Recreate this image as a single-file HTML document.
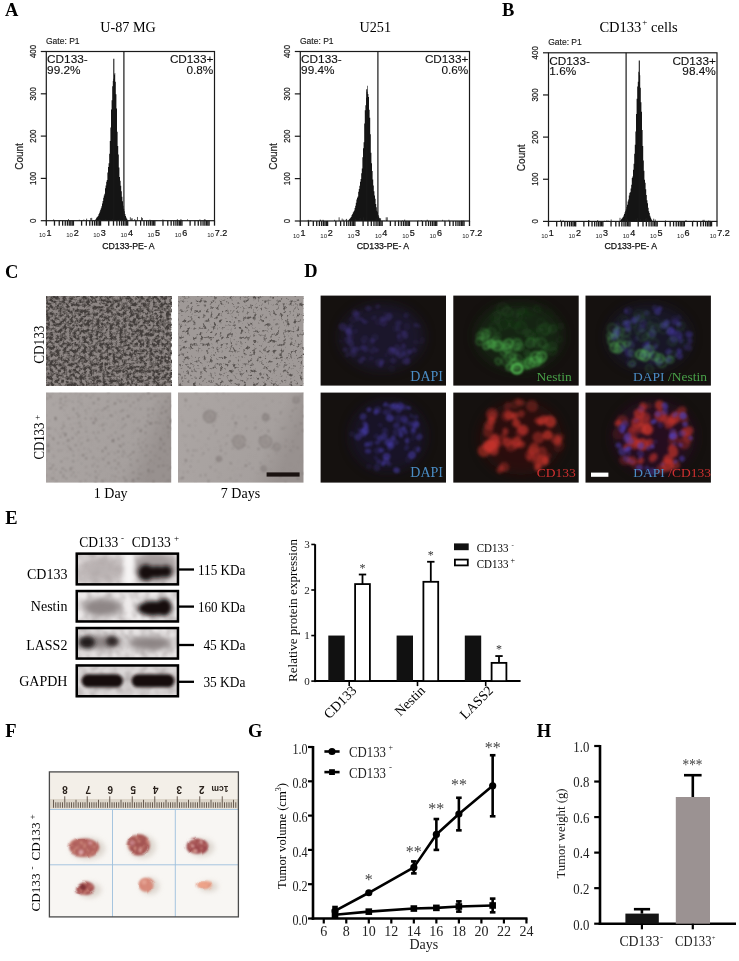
<!DOCTYPE html><html><head><meta charset="utf-8"><style>html,body{margin:0;padding:0;background:#fff;}svg{display:block;filter:blur(0.3px);}</style></head><body><svg width="739" height="961" viewBox="0 0 739 961"><defs><linearGradient id="gc2" x1="0" y1="0" x2="1" y2="0.3"><stop offset="0" stop-color="#aca6a4"/><stop offset="0.8" stop-color="#a6a09e"/><stop offset="1" stop-color="#98918f"/></linearGradient><filter id="fc11" filterUnits="userSpaceOnUse" x="46" y="296" width="125.2" height="90" color-interpolation-filters="sRGB"><feTurbulence type="fractalNoise" baseFrequency="0.3" numOctaves="3" seed="11" result="n"/><feColorMatrix in="n" type="matrix" values="0 0 0 0 0.26 0 0 0 0 0.24 0 0 0 0 0.23 3.2 0 0 0 -1.15" result="c"/><feGaussianBlur in="c" stdDeviation="0.3" result="cb"/><feComposite in="cb" in2="SourceGraphic" operator="over"/></filter><filter id="fc12" filterUnits="userSpaceOnUse" x="178" y="296" width="125.5" height="90" color-interpolation-filters="sRGB"><feTurbulence type="fractalNoise" baseFrequency="0.3" numOctaves="3" seed="12" result="n"/><feColorMatrix in="n" type="matrix" values="0 0 0 0 0.34 0 0 0 0 0.32 0 0 0 0 0.31 4.2 0 0 0 -2.3" result="c"/><feGaussianBlur in="c" stdDeviation="0.3" result="cb"/><feComposite in="cb" in2="SourceGraphic" operator="over"/></filter><filter id="fc21" filterUnits="userSpaceOnUse" x="46" y="392.5" width="125.2" height="90.1" color-interpolation-filters="sRGB"><feTurbulence type="fractalNoise" baseFrequency="0.4" numOctaves="3" seed="21" result="n"/><feColorMatrix in="n" type="matrix" values="0 0 0 0 0.34 0 0 0 0 0.31 0 0 0 0 0.3 9 0 0 0 -6.0" result="c"/><feGaussianBlur in="c" stdDeviation="1.0" result="cb"/><feComposite in="cb" in2="SourceGraphic" operator="over"/></filter><filter id="fc22" filterUnits="userSpaceOnUse" x="178" y="392.5" width="125.5" height="90.1" color-interpolation-filters="sRGB"><feTurbulence type="fractalNoise" baseFrequency="0.4" numOctaves="3" seed="22" result="n"/><feColorMatrix in="n" type="matrix" values="0 0 0 0 0.38 0 0 0 0 0.35 0 0 0 0 0.34 9 0 0 0 -6.5" result="c"/><feGaussianBlur in="c" stdDeviation="1.0" result="cb"/><feComposite in="cb" in2="SourceGraphic" operator="over"/></filter><filter id="sph" x="-50%" y="-50%" width="200%" height="200%"><feTurbulence type="fractalNoise" baseFrequency="0.6" numOctaves="2" seed="5" result="n"/><feDisplacementMap in="SourceGraphic" in2="n" scale="2.5" xChannelSelector="R" yChannelSelector="G"/><feGaussianBlur stdDeviation="0.8"/></filter><filter id="fb1" x="-50%" y="-50%" width="200%" height="200%"><feGaussianBlur stdDeviation="0.9"/></filter><filter id="fb15" x="-50%" y="-50%" width="200%" height="200%"><feGaussianBlur stdDeviation="1.5"/></filter><filter id="fb25" x="-50%" y="-50%" width="200%" height="200%"><feGaussianBlur stdDeviation="2.5"/></filter><filter id="fb6" x="-50%" y="-50%" width="200%" height="200%"><feGaussianBlur stdDeviation="6"/></filter><clipPath id="cd00"><rect x="320.6" y="295.6" width="125.4" height="90"/></clipPath><clipPath id="cd01"><rect x="453.3" y="295.6" width="125.4" height="90"/></clipPath><clipPath id="cd02"><rect x="585.5" y="295.6" width="125.4" height="90"/></clipPath><clipPath id="cd10"><rect x="320.6" y="392.6" width="125.4" height="90"/></clipPath><clipPath id="cd11"><rect x="453.3" y="392.6" width="125.4" height="90"/></clipPath><clipPath id="cd12"><rect x="585.5" y="392.6" width="125.4" height="90"/></clipPath><filter id="bb2" x="-50%" y="-50%" width="200%" height="200%"><feGaussianBlur stdDeviation="2.2"/></filter><filter id="bb3" x="-50%" y="-50%" width="200%" height="200%"><feGaussianBlur stdDeviation="3"/></filter><filter id="bb4" x="-50%" y="-50%" width="200%" height="200%"><feGaussianBlur stdDeviation="4"/></filter><filter id="bb1" x="-50%" y="-50%" width="200%" height="200%"><feGaussianBlur stdDeviation="1.5"/></filter><clipPath id="clipb0"><rect x="75.5" y="552.4" width="103.7" height="33.2"/></clipPath><filter id="fbn0" filterUnits="userSpaceOnUse" x="75.5" y="552.4" width="103.7" height="33.2" color-interpolation-filters="sRGB"><feTurbulence type="fractalNoise" baseFrequency="0.12" numOctaves="2" seed="60" result="n"/><feColorMatrix in="n" type="matrix" values="0 0 0 0 0.55 0 0 0 0 0.52 0 0 0 0 0.52 1.0 0 0 0 -0.35" result="c"/><feGaussianBlur in="c" stdDeviation="1.2" result="cb"/><feComposite in="cb" in2="SourceGraphic" operator="over"/></filter><clipPath id="clipb1"><rect x="75.5" y="589.8" width="103.7" height="32.9"/></clipPath><filter id="fbn1" filterUnits="userSpaceOnUse" x="75.5" y="589.8" width="103.7" height="32.9" color-interpolation-filters="sRGB"><feTurbulence type="fractalNoise" baseFrequency="0.12" numOctaves="2" seed="61" result="n"/><feColorMatrix in="n" type="matrix" values="0 0 0 0 0.55 0 0 0 0 0.52 0 0 0 0 0.52 1.0 0 0 0 -0.35" result="c"/><feGaussianBlur in="c" stdDeviation="1.2" result="cb"/><feComposite in="cb" in2="SourceGraphic" operator="over"/></filter><clipPath id="clipb2"><rect x="75.5" y="626.8" width="103.7" height="33"/></clipPath><filter id="fbn2" filterUnits="userSpaceOnUse" x="75.5" y="626.8" width="103.7" height="33" color-interpolation-filters="sRGB"><feTurbulence type="fractalNoise" baseFrequency="0.12" numOctaves="2" seed="62" result="n"/><feColorMatrix in="n" type="matrix" values="0 0 0 0 0.55 0 0 0 0 0.52 0 0 0 0 0.52 1.0 0 0 0 -0.35" result="c"/><feGaussianBlur in="c" stdDeviation="1.2" result="cb"/><feComposite in="cb" in2="SourceGraphic" operator="over"/></filter><clipPath id="clipb3"><rect x="75.5" y="664.2" width="103.7" height="33.3"/></clipPath><filter id="fbn3" filterUnits="userSpaceOnUse" x="75.5" y="664.2" width="103.7" height="33.3" color-interpolation-filters="sRGB"><feTurbulence type="fractalNoise" baseFrequency="0.12" numOctaves="2" seed="63" result="n"/><feColorMatrix in="n" type="matrix" values="0 0 0 0 0.55 0 0 0 0 0.52 0 0 0 0 0.52 1.0 0 0 0 -0.35" result="c"/><feGaussianBlur in="c" stdDeviation="1.2" result="cb"/><feComposite in="cb" in2="SourceGraphic" operator="over"/></filter><filter id="tdisp" x="-30%" y="-30%" width="160%" height="160%"><feTurbulence type="fractalNoise" baseFrequency="0.07" numOctaves="1" seed="4"/><feDisplacementMap in="SourceGraphic" scale="5" xChannelSelector="R" yChannelSelector="G" result="d"/><feGaussianBlur in="d" stdDeviation="0.4"/></filter><filter id="tspot" x="-30%" y="-30%" width="160%" height="160%" color-interpolation-filters="sRGB"><feTurbulence type="fractalNoise" baseFrequency="0.3" numOctaves="2" seed="9" result="n"/><feColorMatrix in="n" type="matrix" values="0 0 0 0 0.84 0 0 0 0 0.58 0 0 0 0 0.52 4 0 0 0 -2.0" result="c"/><feComposite in="c" in2="SourceGraphic" operator="in" result="s"/><feComposite in="s" in2="SourceGraphic" operator="over"/><feGaussianBlur stdDeviation="0.8"/></filter><filter id="sh" x="-50%" y="-50%" width="200%" height="200%"><feGaussianBlur stdDeviation="2.5"/></filter><filter id="tb" x="-50%" y="-50%" width="200%" height="200%"><feGaussianBlur stdDeviation="0.8"/></filter></defs><rect width="739" height="961" fill="#fff"/><text x="5" y="16.2" font-family="'Liberation Serif', serif" font-size="18.5" text-anchor="start" font-weight="bold" fill="#000" >A</text>
<text x="502" y="16.2" font-family="'Liberation Serif', serif" font-size="18.5" text-anchor="start" font-weight="bold" fill="#000" >B</text>
<text x="5" y="277.7" font-family="'Liberation Serif', serif" font-size="18.5" text-anchor="start" font-weight="bold" fill="#000" >C</text>
<text x="304.3" y="277.3" font-family="'Liberation Serif', serif" font-size="18.5" text-anchor="start" font-weight="bold" fill="#000" >D</text>
<text x="5.3" y="524.2" font-family="'Liberation Serif', serif" font-size="18.5" text-anchor="start" font-weight="bold" fill="#000" >E</text>
<text x="5.3" y="737.2" font-family="'Liberation Serif', serif" font-size="18.5" text-anchor="start" font-weight="bold" fill="#000" >F</text>
<text x="248" y="737" font-family="'Liberation Serif', serif" font-size="18.5" text-anchor="start" font-weight="bold" fill="#000" >G</text>
<text x="536.7" y="737.2" font-family="'Liberation Serif', serif" font-size="18.5" text-anchor="start" font-weight="bold" fill="#000" >H</text>
<text x="128" y="32" font-family="'Liberation Serif', serif" font-size="14.2" text-anchor="middle" font-weight="normal" fill="#000" >U-87 MG</text>
<text x="46" y="43.9" font-family="'Liberation Sans', sans-serif" font-size="9.4" text-anchor="start" font-weight="normal" fill="#1a1a1a" textLength="33.6" lengthAdjust="spacingAndGlyphs" stroke="#1a1a1a" stroke-width="0.15">Gate: P1</text>
<path d="M83.4,220.7 L83.4,220.68 L84,220.68 L84,220.68 L84.6,220.68 L84.6,220.68 L85.2,220.68 L85.2,220.68 L85.8,220.68 L85.8,220.68 L86.4,220.68 L86.4,220.67 L87,220.67 L87,220.67 L87.6,220.67 L87.6,220.67 L88.2,220.67 L88.2,220.67 L88.8,220.67 L88.8,220.66 L89.4,220.66 L89.4,220.66 L90,220.66 L90,220.65 L90.6,220.65 L90.6,220.65 L91.2,220.65 L91.2,220.65 L91.8,220.65 L91.8,220.64 L92.4,220.64 L92.4,220.63 L93,220.63 L93,220.62 L93.6,220.62 L93.6,220.61 L94.2,220.61 L94.2,220.6 L94.8,220.6 L94.8,220.05 L95.4,220.05 L95.4,219.25 L96,219.25 L96,218.33 L96.6,218.33 L96.6,217.36 L97.2,217.36 L97.2,216.71 L97.8,216.71 L97.8,215.95 L98.4,215.95 L98.4,214.36 L99,214.36 L99,213.19 L99.6,213.19 L99.6,211.57 L100.2,211.57 L100.2,209.87 L100.8,209.87 L100.8,208.31 L101.4,208.31 L101.4,206.36 L102,206.36 L102,203.44 L102.6,203.44 L102.6,200.96 L103.2,200.96 L103.2,197.85 L103.8,197.85 L103.8,195.61 L104.4,195.61 L104.4,193.7 L105,193.7 L105,188.27 L105.6,188.27 L105.6,185.62 L106.2,185.62 L106.2,181.68 L106.8,181.68 L106.8,179.89 L107.4,179.89 L107.4,172.57 L108,172.57 L108,166.98 L108.6,166.98 L108.6,163.33 L109.2,163.33 L109.2,153.7 L109.8,153.7 L109.8,141.03 L110.4,141.03 L110.4,127.45 L111,127.45 L111,109.6 L111.6,109.6 L111.6,100.22 L112.2,100.22 L112.2,86.27 L112.8,86.27 L112.8,80.91 L113.4,80.91 L113.4,78.66 L114,78.66 L114,74.38 L114.6,74.38 L114.6,73.02 L115.2,73.02 L115.2,81.7 L115.8,81.7 L115.8,94.27 L116.4,94.27 L116.4,108.46 L117,108.46 L117,131.73 L117.6,131.73 L117.6,145.89 L118.2,145.89 L118.2,154.52 L118.8,154.52 L118.8,167.51 L119.4,167.51 L119.4,176.91 L120,176.91 L120,180.71 L120.6,180.71 L120.6,185.76 L121.2,185.76 L121.2,191.24 L121.8,191.24 L121.8,196.69 L122.4,196.69 L122.4,201.21 L123,201.21 L123,205.86 L123.6,205.86 L123.6,208.66 L124.2,208.66 L124.2,211.37 L124.8,211.37 L124.8,213.91 L125.4,213.91 L125.4,216.01 L126,216.01 L126,217.55 L126.6,217.55 L126.6,218.71 L127.2,218.71 L127.2,219.81 L127.8,219.81 L127.8,220.44 L128.4,220.44 L128.4,220.47 L129,220.47 L129,220.5 L129.6,220.5 L129.6,220.52 L130.2,220.52 L130.2,220.53 L130.8,220.53 L130.8,220.54 L131.4,220.54 L131.4,220.56 L132,220.56 L132,220.58 L132.6,220.58 L132.6,220.58 L133.2,220.58 L133.2,220.6 L133.8,220.6 L133.8,220.61 L134.4,220.61 L134.4,220.61 L135,220.61 L135,220.62 L135.6,220.62 L135.6,220.63 L136.2,220.63 L136.2,220.64 L136.8,220.64 L136.8,220.64 L137.4,220.64 L137.4,220.65 L138,220.65 L138,220.66 L138.6,220.66 L138.6,220.66 L139.2,220.66 L139.2,220.66 L139.8,220.66 L139.8,220.66 L140.4,220.66 L140.4,220.67 L141,220.67 L141,220.67 L141.6,220.67 L141.6,220.67 L142.2,220.67 L142.2,220.68 L142.8,220.68 L142.8,220.68 L143.4,220.68 L143.4,220.68 L144,220.68 L144,220.68 L144.6,220.68 L144.6,220.68 L145.2,220.68 L145.2,220.69 L145.8,220.69 L145.8,220.69 L146.4,220.69 L146.4,220.69 L147,220.69 L147,220.69 L147.6,220.69 L147.6,220.69 L148.2,220.69 L148.2,220.69 L148.8,220.69 L148.8,220.7 Z" fill="#141414"/>
<line x1="149.94" y1="220.7" x2="149.94" y2="219.66" stroke="#222" stroke-width="0.8" />
<line x1="123.78" y1="220.7" x2="123.78" y2="219.17" stroke="#222" stroke-width="0.8" />
<line x1="79.33" y1="220.7" x2="79.33" y2="219.71" stroke="#222" stroke-width="0.8" />
<line x1="187.51" y1="220.7" x2="187.51" y2="219.35" stroke="#222" stroke-width="0.8" />
<line x1="177.4" y1="220.7" x2="177.4" y2="219.32" stroke="#222" stroke-width="0.8" />
<line x1="91.69" y1="220.7" x2="91.69" y2="217.86" stroke="#222" stroke-width="0.8" />
<line x1="64.47" y1="220.7" x2="64.47" y2="220.67" stroke="#222" stroke-width="0.8" />
<line x1="53.6" y1="220.7" x2="53.6" y2="219.42" stroke="#222" stroke-width="0.8" />
<line x1="90.78" y1="220.7" x2="90.78" y2="218" stroke="#222" stroke-width="0.8" />
<line x1="105.79" y1="220.7" x2="105.79" y2="219.38" stroke="#222" stroke-width="0.8" />
<line x1="134.73" y1="220.7" x2="134.73" y2="219.05" stroke="#222" stroke-width="0.8" />
<line x1="163.87" y1="220.7" x2="163.87" y2="219.93" stroke="#222" stroke-width="0.8" />
<line x1="102.24" y1="220.7" x2="102.24" y2="219.78" stroke="#222" stroke-width="0.8" />
<line x1="112.45" y1="220.7" x2="112.45" y2="219.3" stroke="#222" stroke-width="0.8" />
<line x1="68.51" y1="220.7" x2="68.51" y2="219.18" stroke="#222" stroke-width="0.8" />
<line x1="132" y1="220.7" x2="132" y2="218.06" stroke="#222" stroke-width="0.8" />
<line x1="180.56" y1="220.7" x2="180.56" y2="220.66" stroke="#222" stroke-width="0.8" />
<line x1="54.13" y1="220.7" x2="54.13" y2="220.45" stroke="#222" stroke-width="0.8" />
<line x1="165.02" y1="220.7" x2="165.02" y2="220.43" stroke="#222" stroke-width="0.8" />
<line x1="162.77" y1="220.7" x2="162.77" y2="219.55" stroke="#222" stroke-width="0.8" />
<line x1="137.47" y1="220.7" x2="137.47" y2="216.97" stroke="#222" stroke-width="0.8" />
<line x1="177.51" y1="220.7" x2="177.51" y2="219.83" stroke="#222" stroke-width="0.8" />
<line x1="86.61" y1="220.7" x2="86.61" y2="218.68" stroke="#222" stroke-width="0.8" />
<line x1="142.4" y1="220.7" x2="142.4" y2="217.99" stroke="#222" stroke-width="0.8" />
<line x1="60.6" y1="220.7" x2="60.6" y2="220.19" stroke="#222" stroke-width="0.8" />
<line x1="204.42" y1="220.7" x2="204.42" y2="219.22" stroke="#222" stroke-width="0.8" />
<line x1="99.77" y1="220.7" x2="99.77" y2="218.94" stroke="#222" stroke-width="0.8" />
<line x1="199.9" y1="220.7" x2="199.9" y2="219.44" stroke="#222" stroke-width="0.8" />
<line x1="117.14" y1="220.7" x2="117.14" y2="219.83" stroke="#222" stroke-width="0.8" />
<line x1="190.31" y1="220.7" x2="190.31" y2="220.64" stroke="#222" stroke-width="0.8" />
<line x1="180.93" y1="220.7" x2="180.93" y2="219.07" stroke="#222" stroke-width="0.8" />
<line x1="141.52" y1="220.7" x2="141.52" y2="217.28" stroke="#222" stroke-width="0.8" />
<line x1="205.35" y1="220.7" x2="205.35" y2="219.51" stroke="#222" stroke-width="0.8" />
<line x1="131.8" y1="220.7" x2="131.8" y2="218.83" stroke="#222" stroke-width="0.8" />
<line x1="83.85" y1="220.7" x2="83.85" y2="219.56" stroke="#222" stroke-width="0.8" />
<line x1="119.79" y1="220.7" x2="119.79" y2="219.54" stroke="#222" stroke-width="0.8" />
<line x1="156.65" y1="220.7" x2="156.65" y2="220.2" stroke="#222" stroke-width="0.8" />
<line x1="130.37" y1="220.7" x2="130.37" y2="217.27" stroke="#222" stroke-width="0.8" />
<line x1="193.63" y1="220.7" x2="193.63" y2="220.67" stroke="#222" stroke-width="0.8" />
<line x1="83.07" y1="220.7" x2="83.07" y2="220.15" stroke="#222" stroke-width="0.8" />
<line x1="113.8" y1="220.7" x2="113.8" y2="58.69" stroke="#181818" stroke-width="1.1" />
<rect x="46.3" y="51.5" width="168.2" height="169.2" fill="none" stroke="#1a1a1a" stroke-width="1.2" />
<line x1="123.9" y1="51.5" x2="123.9" y2="220.7" stroke="#1a1a1a" stroke-width="1.2" />
<line x1="40.8" y1="220.7" x2="46.3" y2="220.7" stroke="#1a1a1a" stroke-width="1.2" />
<text transform="translate(36.1,220.7) rotate(-90)" font-family="'Liberation Sans', sans-serif" font-size="9.6" text-anchor="middle" fill="#222" stroke="#222" stroke-width="0.25" textLength="4.4" lengthAdjust="spacingAndGlyphs">0</text>
<line x1="40.8" y1="178.4" x2="46.3" y2="178.4" stroke="#1a1a1a" stroke-width="1.2" />
<text transform="translate(36.1,178.4) rotate(-90)" font-family="'Liberation Sans', sans-serif" font-size="9.6" text-anchor="middle" fill="#222" stroke="#222" stroke-width="0.25" textLength="13.2" lengthAdjust="spacingAndGlyphs">100</text>
<line x1="40.8" y1="136.1" x2="46.3" y2="136.1" stroke="#1a1a1a" stroke-width="1.2" />
<text transform="translate(36.1,136.1) rotate(-90)" font-family="'Liberation Sans', sans-serif" font-size="9.6" text-anchor="middle" fill="#222" stroke="#222" stroke-width="0.25" textLength="13.2" lengthAdjust="spacingAndGlyphs">200</text>
<line x1="40.8" y1="93.8" x2="46.3" y2="93.8" stroke="#1a1a1a" stroke-width="1.2" />
<text transform="translate(36.1,93.8) rotate(-90)" font-family="'Liberation Sans', sans-serif" font-size="9.6" text-anchor="middle" fill="#222" stroke="#222" stroke-width="0.25" textLength="13.2" lengthAdjust="spacingAndGlyphs">300</text>
<line x1="40.8" y1="51.5" x2="46.3" y2="51.5" stroke="#1a1a1a" stroke-width="1.2" />
<text transform="translate(36.1,51.5) rotate(-90)" font-family="'Liberation Sans', sans-serif" font-size="9.6" text-anchor="middle" fill="#222" stroke="#222" stroke-width="0.25" textLength="13.2" lengthAdjust="spacingAndGlyphs">400</text>
<text transform="translate(23,156.5) rotate(-90)" font-family="'Liberation Sans', sans-serif" font-size="10" text-anchor="middle" fill="#222" stroke="#222" stroke-width="0.2">Count</text>
<line x1="46.3" y1="220.7" x2="46.3" y2="225.7" stroke="#1a1a1a" stroke-width="1.3" />
<line x1="54.47" y1="220.7" x2="54.47" y2="225.7" stroke="#1a1a1a" stroke-width="1.3" />
<line x1="59.24" y1="220.7" x2="59.24" y2="225.7" stroke="#1a1a1a" stroke-width="1.3" />
<line x1="62.63" y1="220.7" x2="62.63" y2="225.7" stroke="#1a1a1a" stroke-width="1.3" />
<line x1="65.26" y1="220.7" x2="65.26" y2="225.7" stroke="#1a1a1a" stroke-width="1.3" />
<line x1="67.41" y1="220.7" x2="67.41" y2="225.7" stroke="#1a1a1a" stroke-width="1.3" />
<line x1="69.23" y1="220.7" x2="69.23" y2="225.7" stroke="#1a1a1a" stroke-width="1.3" />
<line x1="70.8" y1="220.7" x2="70.8" y2="225.7" stroke="#1a1a1a" stroke-width="1.3" />
<line x1="72.19" y1="220.7" x2="72.19" y2="225.7" stroke="#1a1a1a" stroke-width="1.3" />
<line x1="73.43" y1="220.7" x2="73.43" y2="225.7" stroke="#1a1a1a" stroke-width="1.3" />
<line x1="81.6" y1="220.7" x2="81.6" y2="225.7" stroke="#1a1a1a" stroke-width="1.3" />
<line x1="86.37" y1="220.7" x2="86.37" y2="225.7" stroke="#1a1a1a" stroke-width="1.3" />
<line x1="89.76" y1="220.7" x2="89.76" y2="225.7" stroke="#1a1a1a" stroke-width="1.3" />
<line x1="92.39" y1="220.7" x2="92.39" y2="225.7" stroke="#1a1a1a" stroke-width="1.3" />
<line x1="94.54" y1="220.7" x2="94.54" y2="225.7" stroke="#1a1a1a" stroke-width="1.3" />
<line x1="96.36" y1="220.7" x2="96.36" y2="225.7" stroke="#1a1a1a" stroke-width="1.3" />
<line x1="97.93" y1="220.7" x2="97.93" y2="225.7" stroke="#1a1a1a" stroke-width="1.3" />
<line x1="99.32" y1="220.7" x2="99.32" y2="225.7" stroke="#1a1a1a" stroke-width="1.3" />
<line x1="100.56" y1="220.7" x2="100.56" y2="225.7" stroke="#1a1a1a" stroke-width="1.3" />
<line x1="108.72" y1="220.7" x2="108.72" y2="225.7" stroke="#1a1a1a" stroke-width="1.3" />
<line x1="113.5" y1="220.7" x2="113.5" y2="225.7" stroke="#1a1a1a" stroke-width="1.3" />
<line x1="116.89" y1="220.7" x2="116.89" y2="225.7" stroke="#1a1a1a" stroke-width="1.3" />
<line x1="119.52" y1="220.7" x2="119.52" y2="225.7" stroke="#1a1a1a" stroke-width="1.3" />
<line x1="121.67" y1="220.7" x2="121.67" y2="225.7" stroke="#1a1a1a" stroke-width="1.3" />
<line x1="123.48" y1="220.7" x2="123.48" y2="225.7" stroke="#1a1a1a" stroke-width="1.3" />
<line x1="125.06" y1="220.7" x2="125.06" y2="225.7" stroke="#1a1a1a" stroke-width="1.3" />
<line x1="126.45" y1="220.7" x2="126.45" y2="225.7" stroke="#1a1a1a" stroke-width="1.3" />
<line x1="127.69" y1="220.7" x2="127.69" y2="225.7" stroke="#1a1a1a" stroke-width="1.3" />
<line x1="135.85" y1="220.7" x2="135.85" y2="225.7" stroke="#1a1a1a" stroke-width="1.3" />
<line x1="140.63" y1="220.7" x2="140.63" y2="225.7" stroke="#1a1a1a" stroke-width="1.3" />
<line x1="144.02" y1="220.7" x2="144.02" y2="225.7" stroke="#1a1a1a" stroke-width="1.3" />
<line x1="146.65" y1="220.7" x2="146.65" y2="225.7" stroke="#1a1a1a" stroke-width="1.3" />
<line x1="148.8" y1="220.7" x2="148.8" y2="225.7" stroke="#1a1a1a" stroke-width="1.3" />
<line x1="150.61" y1="220.7" x2="150.61" y2="225.7" stroke="#1a1a1a" stroke-width="1.3" />
<line x1="152.19" y1="220.7" x2="152.19" y2="225.7" stroke="#1a1a1a" stroke-width="1.3" />
<line x1="153.57" y1="220.7" x2="153.57" y2="225.7" stroke="#1a1a1a" stroke-width="1.3" />
<line x1="154.82" y1="220.7" x2="154.82" y2="225.7" stroke="#1a1a1a" stroke-width="1.3" />
<line x1="162.98" y1="220.7" x2="162.98" y2="225.7" stroke="#1a1a1a" stroke-width="1.3" />
<line x1="167.76" y1="220.7" x2="167.76" y2="225.7" stroke="#1a1a1a" stroke-width="1.3" />
<line x1="171.15" y1="220.7" x2="171.15" y2="225.7" stroke="#1a1a1a" stroke-width="1.3" />
<line x1="173.78" y1="220.7" x2="173.78" y2="225.7" stroke="#1a1a1a" stroke-width="1.3" />
<line x1="175.93" y1="220.7" x2="175.93" y2="225.7" stroke="#1a1a1a" stroke-width="1.3" />
<line x1="177.74" y1="220.7" x2="177.74" y2="225.7" stroke="#1a1a1a" stroke-width="1.3" />
<line x1="179.32" y1="220.7" x2="179.32" y2="225.7" stroke="#1a1a1a" stroke-width="1.3" />
<line x1="180.7" y1="220.7" x2="180.7" y2="225.7" stroke="#1a1a1a" stroke-width="1.3" />
<line x1="181.95" y1="220.7" x2="181.95" y2="225.7" stroke="#1a1a1a" stroke-width="1.3" />
<line x1="190.11" y1="220.7" x2="190.11" y2="225.7" stroke="#1a1a1a" stroke-width="1.3" />
<line x1="194.89" y1="220.7" x2="194.89" y2="225.7" stroke="#1a1a1a" stroke-width="1.3" />
<line x1="198.28" y1="220.7" x2="198.28" y2="225.7" stroke="#1a1a1a" stroke-width="1.3" />
<line x1="200.91" y1="220.7" x2="200.91" y2="225.7" stroke="#1a1a1a" stroke-width="1.3" />
<line x1="203.06" y1="220.7" x2="203.06" y2="225.7" stroke="#1a1a1a" stroke-width="1.3" />
<line x1="204.87" y1="220.7" x2="204.87" y2="225.7" stroke="#1a1a1a" stroke-width="1.3" />
<line x1="206.45" y1="220.7" x2="206.45" y2="225.7" stroke="#1a1a1a" stroke-width="1.3" />
<line x1="207.83" y1="220.7" x2="207.83" y2="225.7" stroke="#1a1a1a" stroke-width="1.3" />
<line x1="209.07" y1="220.7" x2="209.07" y2="225.7" stroke="#1a1a1a" stroke-width="1.3" />
<line x1="214.5" y1="220.7" x2="214.5" y2="225.7" stroke="#1a1a1a" stroke-width="1.3" />
<text x="45.7" y="237.4" font-family="'Liberation Sans', sans-serif" font-size="6" text-anchor="end" font-weight="normal" fill="#222" >10</text>
<text x="46.5" y="235.7" font-family="'Liberation Sans', sans-serif" font-size="9" text-anchor="start" font-weight="normal" fill="#111" stroke="#111" stroke-width="0.2">1</text>
<text x="72.83" y="237.4" font-family="'Liberation Sans', sans-serif" font-size="6" text-anchor="end" font-weight="normal" fill="#222" >10</text>
<text x="73.63" y="235.7" font-family="'Liberation Sans', sans-serif" font-size="9" text-anchor="start" font-weight="normal" fill="#111" stroke="#111" stroke-width="0.2">2</text>
<text x="99.96" y="237.4" font-family="'Liberation Sans', sans-serif" font-size="6" text-anchor="end" font-weight="normal" fill="#222" >10</text>
<text x="100.76" y="235.7" font-family="'Liberation Sans', sans-serif" font-size="9" text-anchor="start" font-weight="normal" fill="#111" stroke="#111" stroke-width="0.2">3</text>
<text x="127.09" y="237.4" font-family="'Liberation Sans', sans-serif" font-size="6" text-anchor="end" font-weight="normal" fill="#222" >10</text>
<text x="127.89" y="235.7" font-family="'Liberation Sans', sans-serif" font-size="9" text-anchor="start" font-weight="normal" fill="#111" stroke="#111" stroke-width="0.2">4</text>
<text x="154.22" y="237.4" font-family="'Liberation Sans', sans-serif" font-size="6" text-anchor="end" font-weight="normal" fill="#222" >10</text>
<text x="155.02" y="235.7" font-family="'Liberation Sans', sans-serif" font-size="9" text-anchor="start" font-weight="normal" fill="#111" stroke="#111" stroke-width="0.2">5</text>
<text x="181.35" y="237.4" font-family="'Liberation Sans', sans-serif" font-size="6" text-anchor="end" font-weight="normal" fill="#222" >10</text>
<text x="182.15" y="235.7" font-family="'Liberation Sans', sans-serif" font-size="9" text-anchor="start" font-weight="normal" fill="#111" stroke="#111" stroke-width="0.2">6</text>
<text x="213.9" y="237.4" font-family="'Liberation Sans', sans-serif" font-size="6" text-anchor="end" font-weight="normal" fill="#222" >10</text>
<text x="214.7" y="235.7" font-family="'Liberation Sans', sans-serif" font-size="9" text-anchor="start" font-weight="normal" fill="#111" stroke="#111" stroke-width="0.2">7.2</text>
<text x="128.4" y="248.5" font-family="'Liberation Sans', sans-serif" font-size="9.3" text-anchor="middle" font-weight="normal" fill="#111" textLength="52.5" lengthAdjust="spacingAndGlyphs" stroke="#111" stroke-width="0.25">CD133-PE- A</text>
<text x="47.1" y="63.2" font-family="'Liberation Sans', sans-serif" font-size="11.8" text-anchor="start" font-weight="normal" fill="#111" textLength="40.6" lengthAdjust="spacingAndGlyphs" stroke="#111" stroke-width="0.12">CD133-</text>
<text x="47.1" y="73.7" font-family="'Liberation Sans', sans-serif" font-size="11.8" text-anchor="start" font-weight="normal" fill="#111" stroke="#111" stroke-width="0.12">99.2%</text>
<text x="213.3" y="63.2" font-family="'Liberation Sans', sans-serif" font-size="11.8" text-anchor="end" font-weight="normal" fill="#111" textLength="43.4" lengthAdjust="spacingAndGlyphs" stroke="#111" stroke-width="0.12">CD133+</text>
<text x="213.3" y="73.7" font-family="'Liberation Sans', sans-serif" font-size="11.8" text-anchor="end" font-weight="normal" fill="#111" stroke="#111" stroke-width="0.12">0.8%</text>
<text x="375.3" y="32" font-family="'Liberation Serif', serif" font-size="14.2" text-anchor="middle" font-weight="normal" fill="#000" >U251</text>
<text x="300" y="43.9" font-family="'Liberation Sans', sans-serif" font-size="9.4" text-anchor="start" font-weight="normal" fill="#1a1a1a" textLength="33.6" lengthAdjust="spacingAndGlyphs" stroke="#1a1a1a" stroke-width="0.15">Gate: P1</text>
<path d="M336.6,221 L336.6,220.98 L337.2,220.98 L337.2,220.98 L337.8,220.98 L337.8,220.98 L338.4,220.98 L338.4,220.98 L339,220.98 L339,220.98 L339.6,220.98 L339.6,220.97 L340.2,220.97 L340.2,220.97 L340.8,220.97 L340.8,220.97 L341.4,220.97 L341.4,220.96 L342,220.96 L342,220.96 L342.6,220.96 L342.6,220.96 L343.2,220.96 L343.2,220.95 L343.8,220.95 L343.8,220.95 L344.4,220.95 L344.4,220.94 L345,220.94 L345,220.93 L345.6,220.93 L345.6,220.93 L346.2,220.93 L346.2,220.92 L346.8,220.92 L346.8,220.91 L347.4,220.91 L347.4,220.91 L348,220.91 L348,220.39 L348.6,220.39 L348.6,219.69 L349.2,219.69 L349.2,218.98 L349.8,218.98 L349.8,218.14 L350.4,218.14 L350.4,217.45 L351,217.45 L351,216.67 L351.6,216.67 L351.6,215.06 L352.2,215.06 L352.2,213.93 L352.8,213.93 L352.8,212.55 L353.4,212.55 L353.4,211.51 L354,211.51 L354,210.44 L354.6,210.44 L354.6,208.06 L355.2,208.06 L355.2,205.72 L355.8,205.72 L355.8,202.82 L356.4,202.82 L356.4,199.47 L357,199.47 L357,197.7 L357.6,197.7 L357.6,196.46 L358.2,196.46 L358.2,191.86 L358.8,191.86 L358.8,188.9 L359.4,188.9 L359.4,185.81 L360,185.81 L360,181.81 L360.6,181.81 L360.6,178.92 L361.2,178.92 L361.2,173.31 L361.8,173.31 L361.8,168.49 L362.4,168.49 L362.4,157.18 L363,157.18 L363,148.13 L363.6,148.13 L363.6,142.17 L364.2,142.17 L364.2,123.48 L364.8,123.48 L364.8,110.19 L365.4,110.19 L365.4,105.19 L366,105.19 L366,97.82 L366.6,97.82 L366.6,91.67 L367.2,91.67 L367.2,85.87 L367.8,85.87 L367.8,93.9 L368.4,93.9 L368.4,96.99 L369,96.99 L369,109.76 L369.6,109.76 L369.6,117.8 L370.2,117.8 L370.2,134.28 L370.8,134.28 L370.8,152.64 L371.4,152.64 L371.4,163.16 L372,163.16 L372,171.02 L372.6,171.02 L372.6,179.61 L373.2,179.61 L373.2,185.46 L373.8,185.46 L373.8,191.22 L374.4,191.22 L374.4,195.55 L375,195.55 L375,198.81 L375.6,198.81 L375.6,204.03 L376.2,204.03 L376.2,207.17 L376.8,207.17 L376.8,210.74 L377.4,210.74 L377.4,212.31 L378,212.31 L378,214.95 L378.6,214.95 L378.6,216.58 L379.2,216.58 L379.2,217.96 L379.8,217.96 L379.8,219.11 L380.4,219.11 L380.4,220.19 L381,220.19 L381,220.75 L381.6,220.75 L381.6,220.77 L382.2,220.77 L382.2,220.8 L382.8,220.8 L382.8,220.82 L383.4,220.82 L383.4,220.83 L384,220.83 L384,220.84 L384.6,220.84 L384.6,220.86 L385.2,220.86 L385.2,220.88 L385.8,220.88 L385.8,220.88 L386.4,220.88 L386.4,220.9 L387,220.9 L387,220.9 L387.6,220.9 L387.6,220.92 L388.2,220.92 L388.2,220.92 L388.8,220.92 L388.8,220.93 L389.4,220.93 L389.4,220.94 L390,220.94 L390,220.95 L390.6,220.95 L390.6,220.95 L391.2,220.95 L391.2,220.95 L391.8,220.95 L391.8,220.96 L392.4,220.96 L392.4,220.96 L393,220.96 L393,220.96 L393.6,220.96 L393.6,220.97 L394.2,220.97 L394.2,220.97 L394.8,220.97 L394.8,220.97 L395.4,220.97 L395.4,220.98 L396,220.98 L396,220.98 L396.6,220.98 L396.6,220.98 L397.2,220.98 L397.2,220.98 L397.8,220.98 L397.8,220.99 L398.4,220.99 L398.4,220.99 L399,220.99 L399,220.99 L399.6,220.99 L399.6,220.99 L400.2,220.99 L400.2,220.99 L400.8,220.99 L400.8,220.99 L401.4,220.99 L401.4,220.99 L402,220.99 L402,221 Z" fill="#141414"/>
<line x1="346.01" y1="221" x2="346.01" y2="219.69" stroke="#222" stroke-width="0.8" />
<line x1="334.55" y1="221" x2="334.55" y2="219.83" stroke="#222" stroke-width="0.8" />
<line x1="366.68" y1="221" x2="366.68" y2="217.22" stroke="#222" stroke-width="0.8" />
<line x1="329.41" y1="221" x2="329.41" y2="220.94" stroke="#222" stroke-width="0.8" />
<line x1="360.1" y1="221" x2="360.1" y2="217.95" stroke="#222" stroke-width="0.8" />
<line x1="323.31" y1="221" x2="323.31" y2="220.43" stroke="#222" stroke-width="0.8" />
<line x1="310.21" y1="221" x2="310.21" y2="220.24" stroke="#222" stroke-width="0.8" />
<line x1="427.24" y1="221" x2="427.24" y2="219.75" stroke="#222" stroke-width="0.8" />
<line x1="448.9" y1="221" x2="448.9" y2="219.72" stroke="#222" stroke-width="0.8" />
<line x1="442.6" y1="221" x2="442.6" y2="219.8" stroke="#222" stroke-width="0.8" />
<line x1="380.57" y1="221" x2="380.57" y2="218.19" stroke="#222" stroke-width="0.8" />
<line x1="355.66" y1="221" x2="355.66" y2="218.82" stroke="#222" stroke-width="0.8" />
<line x1="444.56" y1="221" x2="444.56" y2="220.78" stroke="#222" stroke-width="0.8" />
<line x1="398.42" y1="221" x2="398.42" y2="220.33" stroke="#222" stroke-width="0.8" />
<line x1="387.26" y1="221" x2="387.26" y2="217.31" stroke="#222" stroke-width="0.8" />
<line x1="346.55" y1="221" x2="346.55" y2="218.91" stroke="#222" stroke-width="0.8" />
<line x1="308.17" y1="221" x2="308.17" y2="220.05" stroke="#222" stroke-width="0.8" />
<line x1="327.68" y1="221" x2="327.68" y2="220.9" stroke="#222" stroke-width="0.8" />
<line x1="310.64" y1="221" x2="310.64" y2="220.73" stroke="#222" stroke-width="0.8" />
<line x1="320.56" y1="221" x2="320.56" y2="219.92" stroke="#222" stroke-width="0.8" />
<line x1="386.21" y1="221" x2="386.21" y2="217.38" stroke="#222" stroke-width="0.8" />
<line x1="463.63" y1="221" x2="463.63" y2="220.61" stroke="#222" stroke-width="0.8" />
<line x1="376.1" y1="221" x2="376.1" y2="218.4" stroke="#222" stroke-width="0.8" />
<line x1="404.67" y1="221" x2="404.67" y2="219.64" stroke="#222" stroke-width="0.8" />
<line x1="418.25" y1="221" x2="418.25" y2="220.57" stroke="#222" stroke-width="0.8" />
<line x1="372.64" y1="221" x2="372.64" y2="220.14" stroke="#222" stroke-width="0.8" />
<line x1="310.95" y1="221" x2="310.95" y2="220.31" stroke="#222" stroke-width="0.8" />
<line x1="323" y1="221" x2="323" y2="219.77" stroke="#222" stroke-width="0.8" />
<line x1="343.65" y1="221" x2="343.65" y2="219.61" stroke="#222" stroke-width="0.8" />
<line x1="342.16" y1="221" x2="342.16" y2="218.61" stroke="#222" stroke-width="0.8" />
<line x1="379.23" y1="221" x2="379.23" y2="218.25" stroke="#222" stroke-width="0.8" />
<line x1="339.12" y1="221" x2="339.12" y2="217.3" stroke="#222" stroke-width="0.8" />
<line x1="421.35" y1="221" x2="421.35" y2="220.26" stroke="#222" stroke-width="0.8" />
<line x1="386.73" y1="221" x2="386.73" y2="220" stroke="#222" stroke-width="0.8" />
<line x1="371.85" y1="221" x2="371.85" y2="219.61" stroke="#222" stroke-width="0.8" />
<line x1="320.23" y1="221" x2="320.23" y2="219.64" stroke="#222" stroke-width="0.8" />
<line x1="363.6" y1="221" x2="363.6" y2="217.42" stroke="#222" stroke-width="0.8" />
<line x1="402.49" y1="221" x2="402.49" y2="220.51" stroke="#222" stroke-width="0.8" />
<line x1="461.88" y1="221" x2="461.88" y2="220.37" stroke="#222" stroke-width="0.8" />
<line x1="308.33" y1="221" x2="308.33" y2="219.84" stroke="#222" stroke-width="0.8" />
<line x1="366.8" y1="221" x2="366.8" y2="89.21" stroke="#181818" stroke-width="1.1" />
<rect x="300.3" y="51.5" width="169.2" height="169.5" fill="none" stroke="#1a1a1a" stroke-width="1.2" />
<line x1="377.9" y1="51.5" x2="377.9" y2="221" stroke="#1a1a1a" stroke-width="1.2" />
<line x1="294.8" y1="221" x2="300.3" y2="221" stroke="#1a1a1a" stroke-width="1.2" />
<text transform="translate(290.1,221) rotate(-90)" font-family="'Liberation Sans', sans-serif" font-size="9.6" text-anchor="middle" fill="#222" stroke="#222" stroke-width="0.25" textLength="4.4" lengthAdjust="spacingAndGlyphs">0</text>
<line x1="294.8" y1="178.62" x2="300.3" y2="178.62" stroke="#1a1a1a" stroke-width="1.2" />
<text transform="translate(290.1,178.62) rotate(-90)" font-family="'Liberation Sans', sans-serif" font-size="9.6" text-anchor="middle" fill="#222" stroke="#222" stroke-width="0.25" textLength="13.2" lengthAdjust="spacingAndGlyphs">100</text>
<line x1="294.8" y1="136.25" x2="300.3" y2="136.25" stroke="#1a1a1a" stroke-width="1.2" />
<text transform="translate(290.1,136.25) rotate(-90)" font-family="'Liberation Sans', sans-serif" font-size="9.6" text-anchor="middle" fill="#222" stroke="#222" stroke-width="0.25" textLength="13.2" lengthAdjust="spacingAndGlyphs">200</text>
<line x1="294.8" y1="93.88" x2="300.3" y2="93.88" stroke="#1a1a1a" stroke-width="1.2" />
<text transform="translate(290.1,93.88) rotate(-90)" font-family="'Liberation Sans', sans-serif" font-size="9.6" text-anchor="middle" fill="#222" stroke="#222" stroke-width="0.25" textLength="13.2" lengthAdjust="spacingAndGlyphs">300</text>
<line x1="294.8" y1="51.5" x2="300.3" y2="51.5" stroke="#1a1a1a" stroke-width="1.2" />
<text transform="translate(290.1,51.5) rotate(-90)" font-family="'Liberation Sans', sans-serif" font-size="9.6" text-anchor="middle" fill="#222" stroke="#222" stroke-width="0.25" textLength="13.2" lengthAdjust="spacingAndGlyphs">400</text>
<text transform="translate(277,156.5) rotate(-90)" font-family="'Liberation Sans', sans-serif" font-size="10" text-anchor="middle" fill="#222" stroke="#222" stroke-width="0.2">Count</text>
<line x1="300.3" y1="221" x2="300.3" y2="226" stroke="#1a1a1a" stroke-width="1.3" />
<line x1="308.52" y1="221" x2="308.52" y2="226" stroke="#1a1a1a" stroke-width="1.3" />
<line x1="313.32" y1="221" x2="313.32" y2="226" stroke="#1a1a1a" stroke-width="1.3" />
<line x1="316.73" y1="221" x2="316.73" y2="226" stroke="#1a1a1a" stroke-width="1.3" />
<line x1="319.38" y1="221" x2="319.38" y2="226" stroke="#1a1a1a" stroke-width="1.3" />
<line x1="321.54" y1="221" x2="321.54" y2="226" stroke="#1a1a1a" stroke-width="1.3" />
<line x1="323.36" y1="221" x2="323.36" y2="226" stroke="#1a1a1a" stroke-width="1.3" />
<line x1="324.95" y1="221" x2="324.95" y2="226" stroke="#1a1a1a" stroke-width="1.3" />
<line x1="326.34" y1="221" x2="326.34" y2="226" stroke="#1a1a1a" stroke-width="1.3" />
<line x1="327.59" y1="221" x2="327.59" y2="226" stroke="#1a1a1a" stroke-width="1.3" />
<line x1="335.81" y1="221" x2="335.81" y2="226" stroke="#1a1a1a" stroke-width="1.3" />
<line x1="340.61" y1="221" x2="340.61" y2="226" stroke="#1a1a1a" stroke-width="1.3" />
<line x1="344.02" y1="221" x2="344.02" y2="226" stroke="#1a1a1a" stroke-width="1.3" />
<line x1="346.67" y1="221" x2="346.67" y2="226" stroke="#1a1a1a" stroke-width="1.3" />
<line x1="348.83" y1="221" x2="348.83" y2="226" stroke="#1a1a1a" stroke-width="1.3" />
<line x1="350.65" y1="221" x2="350.65" y2="226" stroke="#1a1a1a" stroke-width="1.3" />
<line x1="352.24" y1="221" x2="352.24" y2="226" stroke="#1a1a1a" stroke-width="1.3" />
<line x1="353.63" y1="221" x2="353.63" y2="226" stroke="#1a1a1a" stroke-width="1.3" />
<line x1="354.88" y1="221" x2="354.88" y2="226" stroke="#1a1a1a" stroke-width="1.3" />
<line x1="363.1" y1="221" x2="363.1" y2="226" stroke="#1a1a1a" stroke-width="1.3" />
<line x1="367.9" y1="221" x2="367.9" y2="226" stroke="#1a1a1a" stroke-width="1.3" />
<line x1="371.31" y1="221" x2="371.31" y2="226" stroke="#1a1a1a" stroke-width="1.3" />
<line x1="373.96" y1="221" x2="373.96" y2="226" stroke="#1a1a1a" stroke-width="1.3" />
<line x1="376.12" y1="221" x2="376.12" y2="226" stroke="#1a1a1a" stroke-width="1.3" />
<line x1="377.94" y1="221" x2="377.94" y2="226" stroke="#1a1a1a" stroke-width="1.3" />
<line x1="379.53" y1="221" x2="379.53" y2="226" stroke="#1a1a1a" stroke-width="1.3" />
<line x1="380.92" y1="221" x2="380.92" y2="226" stroke="#1a1a1a" stroke-width="1.3" />
<line x1="382.17" y1="221" x2="382.17" y2="226" stroke="#1a1a1a" stroke-width="1.3" />
<line x1="390.39" y1="221" x2="390.39" y2="226" stroke="#1a1a1a" stroke-width="1.3" />
<line x1="395.19" y1="221" x2="395.19" y2="226" stroke="#1a1a1a" stroke-width="1.3" />
<line x1="398.6" y1="221" x2="398.6" y2="226" stroke="#1a1a1a" stroke-width="1.3" />
<line x1="401.25" y1="221" x2="401.25" y2="226" stroke="#1a1a1a" stroke-width="1.3" />
<line x1="403.41" y1="221" x2="403.41" y2="226" stroke="#1a1a1a" stroke-width="1.3" />
<line x1="405.23" y1="221" x2="405.23" y2="226" stroke="#1a1a1a" stroke-width="1.3" />
<line x1="406.82" y1="221" x2="406.82" y2="226" stroke="#1a1a1a" stroke-width="1.3" />
<line x1="408.21" y1="221" x2="408.21" y2="226" stroke="#1a1a1a" stroke-width="1.3" />
<line x1="409.46" y1="221" x2="409.46" y2="226" stroke="#1a1a1a" stroke-width="1.3" />
<line x1="417.68" y1="221" x2="417.68" y2="226" stroke="#1a1a1a" stroke-width="1.3" />
<line x1="422.48" y1="221" x2="422.48" y2="226" stroke="#1a1a1a" stroke-width="1.3" />
<line x1="425.89" y1="221" x2="425.89" y2="226" stroke="#1a1a1a" stroke-width="1.3" />
<line x1="428.54" y1="221" x2="428.54" y2="226" stroke="#1a1a1a" stroke-width="1.3" />
<line x1="430.7" y1="221" x2="430.7" y2="226" stroke="#1a1a1a" stroke-width="1.3" />
<line x1="432.52" y1="221" x2="432.52" y2="226" stroke="#1a1a1a" stroke-width="1.3" />
<line x1="434.11" y1="221" x2="434.11" y2="226" stroke="#1a1a1a" stroke-width="1.3" />
<line x1="435.5" y1="221" x2="435.5" y2="226" stroke="#1a1a1a" stroke-width="1.3" />
<line x1="436.75" y1="221" x2="436.75" y2="226" stroke="#1a1a1a" stroke-width="1.3" />
<line x1="444.97" y1="221" x2="444.97" y2="226" stroke="#1a1a1a" stroke-width="1.3" />
<line x1="449.77" y1="221" x2="449.77" y2="226" stroke="#1a1a1a" stroke-width="1.3" />
<line x1="453.18" y1="221" x2="453.18" y2="226" stroke="#1a1a1a" stroke-width="1.3" />
<line x1="455.83" y1="221" x2="455.83" y2="226" stroke="#1a1a1a" stroke-width="1.3" />
<line x1="457.99" y1="221" x2="457.99" y2="226" stroke="#1a1a1a" stroke-width="1.3" />
<line x1="459.81" y1="221" x2="459.81" y2="226" stroke="#1a1a1a" stroke-width="1.3" />
<line x1="461.4" y1="221" x2="461.4" y2="226" stroke="#1a1a1a" stroke-width="1.3" />
<line x1="462.79" y1="221" x2="462.79" y2="226" stroke="#1a1a1a" stroke-width="1.3" />
<line x1="464.04" y1="221" x2="464.04" y2="226" stroke="#1a1a1a" stroke-width="1.3" />
<line x1="469.5" y1="221" x2="469.5" y2="226" stroke="#1a1a1a" stroke-width="1.3" />
<text x="299.7" y="237.7" font-family="'Liberation Sans', sans-serif" font-size="6" text-anchor="end" font-weight="normal" fill="#222" >10</text>
<text x="300.5" y="236" font-family="'Liberation Sans', sans-serif" font-size="9" text-anchor="start" font-weight="normal" fill="#111" stroke="#111" stroke-width="0.2">1</text>
<text x="326.99" y="237.7" font-family="'Liberation Sans', sans-serif" font-size="6" text-anchor="end" font-weight="normal" fill="#222" >10</text>
<text x="327.79" y="236" font-family="'Liberation Sans', sans-serif" font-size="9" text-anchor="start" font-weight="normal" fill="#111" stroke="#111" stroke-width="0.2">2</text>
<text x="354.28" y="237.7" font-family="'Liberation Sans', sans-serif" font-size="6" text-anchor="end" font-weight="normal" fill="#222" >10</text>
<text x="355.08" y="236" font-family="'Liberation Sans', sans-serif" font-size="9" text-anchor="start" font-weight="normal" fill="#111" stroke="#111" stroke-width="0.2">3</text>
<text x="381.57" y="237.7" font-family="'Liberation Sans', sans-serif" font-size="6" text-anchor="end" font-weight="normal" fill="#222" >10</text>
<text x="382.37" y="236" font-family="'Liberation Sans', sans-serif" font-size="9" text-anchor="start" font-weight="normal" fill="#111" stroke="#111" stroke-width="0.2">4</text>
<text x="408.86" y="237.7" font-family="'Liberation Sans', sans-serif" font-size="6" text-anchor="end" font-weight="normal" fill="#222" >10</text>
<text x="409.66" y="236" font-family="'Liberation Sans', sans-serif" font-size="9" text-anchor="start" font-weight="normal" fill="#111" stroke="#111" stroke-width="0.2">5</text>
<text x="436.15" y="237.7" font-family="'Liberation Sans', sans-serif" font-size="6" text-anchor="end" font-weight="normal" fill="#222" >10</text>
<text x="436.95" y="236" font-family="'Liberation Sans', sans-serif" font-size="9" text-anchor="start" font-weight="normal" fill="#111" stroke="#111" stroke-width="0.2">6</text>
<text x="468.9" y="237.7" font-family="'Liberation Sans', sans-serif" font-size="6" text-anchor="end" font-weight="normal" fill="#222" >10</text>
<text x="469.7" y="236" font-family="'Liberation Sans', sans-serif" font-size="9" text-anchor="start" font-weight="normal" fill="#111" stroke="#111" stroke-width="0.2">7.2</text>
<text x="382.9" y="248.8" font-family="'Liberation Sans', sans-serif" font-size="9.3" text-anchor="middle" font-weight="normal" fill="#111" textLength="52.5" lengthAdjust="spacingAndGlyphs" stroke="#111" stroke-width="0.25">CD133-PE- A</text>
<text x="301.1" y="63.2" font-family="'Liberation Sans', sans-serif" font-size="11.8" text-anchor="start" font-weight="normal" fill="#111" textLength="40.6" lengthAdjust="spacingAndGlyphs" stroke="#111" stroke-width="0.12">CD133-</text>
<text x="301.1" y="73.7" font-family="'Liberation Sans', sans-serif" font-size="11.8" text-anchor="start" font-weight="normal" fill="#111" stroke="#111" stroke-width="0.12">99.4%</text>
<text x="468.3" y="63.2" font-family="'Liberation Sans', sans-serif" font-size="11.8" text-anchor="end" font-weight="normal" fill="#111" textLength="43.4" lengthAdjust="spacingAndGlyphs" stroke="#111" stroke-width="0.12">CD133+</text>
<text x="468.3" y="73.7" font-family="'Liberation Sans', sans-serif" font-size="11.8" text-anchor="end" font-weight="normal" fill="#111" stroke="#111" stroke-width="0.12">0.6%</text>
<text x="638.5" y="32" font-family="'Liberation Serif', serif" font-size="14.5" text-anchor="middle">CD133<tspan dx="1" dy="-7" font-size="9">+</tspan><tspan dy="7"> cells</tspan></text>
<text x="548.2" y="45.2" font-family="'Liberation Sans', sans-serif" font-size="9.4" text-anchor="start" font-weight="normal" fill="#1a1a1a" textLength="33.6" lengthAdjust="spacingAndGlyphs" stroke="#1a1a1a" stroke-width="0.15">Gate: P1</text>
<path d="M607.8,221.4 L607.8,221.39 L608.4,221.39 L608.4,221.38 L609,221.38 L609,221.38 L609.6,221.38 L609.6,221.38 L610.2,221.38 L610.2,221.38 L610.8,221.38 L610.8,221.38 L611.4,221.38 L611.4,221.37 L612,221.37 L612,221.37 L612.6,221.37 L612.6,221.37 L613.2,221.37 L613.2,221.37 L613.8,221.37 L613.8,221.36 L614.4,221.36 L614.4,221.36 L615,221.36 L615,221.35 L615.6,221.35 L615.6,221.35 L616.2,221.35 L616.2,221.34 L616.8,221.34 L616.8,221.34 L617.4,221.34 L617.4,221.33 L618,221.33 L618,221.32 L618.6,221.32 L618.6,221.31 L619.2,221.31 L619.2,221.3 L619.8,221.3 L619.8,221.11 L620.4,221.11 L620.4,220.32 L621,220.32 L621,219.37 L621.6,219.37 L621.6,218.54 L622.2,218.54 L622.2,217.79 L622.8,217.79 L622.8,217.08 L623.4,217.08 L623.4,215.38 L624,215.38 L624,214.1 L624.6,214.1 L624.6,212.37 L625.2,212.37 L625.2,210.65 L625.8,210.65 L625.8,209.26 L626.4,209.26 L626.4,207 L627,207 L627,204.81 L627.6,204.81 L627.6,201.43 L628.2,201.43 L628.2,199.47 L628.8,199.47 L628.8,195.55 L629.4,195.55 L629.4,192.81 L630,192.81 L630,192.15 L630.6,192.15 L630.6,188.61 L631.2,188.61 L631.2,184.8 L631.8,184.8 L631.8,178.09 L632.4,178.09 L632.4,176.51 L633,176.51 L633,169.76 L633.6,169.76 L633.6,163.69 L634.2,163.69 L634.2,153.86 L634.8,153.86 L634.8,144.85 L635.4,144.85 L635.4,131.59 L636,131.59 L636,114.04 L636.6,114.04 L636.6,98.74 L637.2,98.74 L637.2,86.44 L637.8,86.44 L637.8,81.76 L638.4,81.76 L638.4,71.67 L639,71.67 L639,72.63 L639.6,72.63 L639.6,75.15 L640.2,75.15 L640.2,87.73 L640.8,87.73 L640.8,102.22 L641.4,102.22 L641.4,111.74 L642,111.74 L642,130.11 L642.6,130.11 L642.6,146 L643.2,146 L643.2,160.52 L643.8,160.52 L643.8,170.63 L644.4,170.63 L644.4,179.63 L645,179.63 L645,182.69 L645.6,182.69 L645.6,189.33 L646.2,189.33 L646.2,195.08 L646.8,195.08 L646.8,200.17 L647.4,200.17 L647.4,203.35 L648,203.35 L648,207.83 L648.6,207.83 L648.6,211.3 L649.2,211.3 L649.2,213.06 L649.8,213.06 L649.8,215.83 L650.4,215.83 L650.4,217.58 L651,217.58 L651,218.87 L651.6,218.87 L651.6,220.01 L652.2,220.01 L652.2,221.12 L652.8,221.12 L652.8,221.17 L653.4,221.17 L653.4,221.18 L654,221.18 L654,221.21 L654.6,221.21 L654.6,221.21 L655.2,221.21 L655.2,221.24 L655.8,221.24 L655.8,221.25 L656.4,221.25 L656.4,221.26 L657,221.26 L657,221.28 L657.6,221.28 L657.6,221.28 L658.2,221.28 L658.2,221.3 L658.8,221.3 L658.8,221.31 L659.4,221.31 L659.4,221.32 L660,221.32 L660,221.33 L660.6,221.33 L660.6,221.34 L661.2,221.34 L661.2,221.34 L661.8,221.34 L661.8,221.34 L662.4,221.34 L662.4,221.35 L663,221.35 L663,221.36 L663.6,221.36 L663.6,221.36 L664.2,221.36 L664.2,221.36 L664.8,221.36 L664.8,221.37 L665.4,221.37 L665.4,221.37 L666,221.37 L666,221.37 L666.6,221.37 L666.6,221.38 L667.2,221.38 L667.2,221.38 L667.8,221.38 L667.8,221.38 L668.4,221.38 L668.4,221.38 L669,221.38 L669,221.38 L669.6,221.38 L669.6,221.38 L670.2,221.38 L670.2,221.39 L670.8,221.39 L670.8,221.39 L671.4,221.39 L671.4,221.39 L672,221.39 L672,221.39 L672.6,221.39 L672.6,221.39 L673.2,221.39 L673.2,221.39 L673.8,221.39 L673.8,221.4 Z" fill="#141414"/>
<line x1="708.48" y1="221.4" x2="708.48" y2="220.52" stroke="#222" stroke-width="0.8" />
<line x1="640.43" y1="221.4" x2="640.43" y2="219.33" stroke="#222" stroke-width="0.8" />
<line x1="645.42" y1="221.4" x2="645.42" y2="218.74" stroke="#222" stroke-width="0.8" />
<line x1="653.7" y1="221.4" x2="653.7" y2="218.71" stroke="#222" stroke-width="0.8" />
<line x1="627.4" y1="221.4" x2="627.4" y2="219.52" stroke="#222" stroke-width="0.8" />
<line x1="665.55" y1="221.4" x2="665.55" y2="220.49" stroke="#222" stroke-width="0.8" />
<line x1="563.1" y1="221.4" x2="563.1" y2="220.26" stroke="#222" stroke-width="0.8" />
<line x1="706.18" y1="221.4" x2="706.18" y2="220.98" stroke="#222" stroke-width="0.8" />
<line x1="625.83" y1="221.4" x2="625.83" y2="219.61" stroke="#222" stroke-width="0.8" />
<line x1="611.19" y1="221.4" x2="611.19" y2="219.47" stroke="#222" stroke-width="0.8" />
<line x1="647.91" y1="221.4" x2="647.91" y2="219.44" stroke="#222" stroke-width="0.8" />
<line x1="675.91" y1="221.4" x2="675.91" y2="221.35" stroke="#222" stroke-width="0.8" />
<line x1="643.73" y1="221.4" x2="643.73" y2="219.64" stroke="#222" stroke-width="0.8" />
<line x1="588.77" y1="221.4" x2="588.77" y2="220.04" stroke="#222" stroke-width="0.8" />
<line x1="591.33" y1="221.4" x2="591.33" y2="221.08" stroke="#222" stroke-width="0.8" />
<line x1="622.48" y1="221.4" x2="622.48" y2="220.26" stroke="#222" stroke-width="0.8" />
<line x1="604.53" y1="221.4" x2="604.53" y2="220.84" stroke="#222" stroke-width="0.8" />
<line x1="685.62" y1="221.4" x2="685.62" y2="220.66" stroke="#222" stroke-width="0.8" />
<line x1="689.1" y1="221.4" x2="689.1" y2="221.11" stroke="#222" stroke-width="0.8" />
<line x1="606.87" y1="221.4" x2="606.87" y2="220.3" stroke="#222" stroke-width="0.8" />
<line x1="693.76" y1="221.4" x2="693.76" y2="220.64" stroke="#222" stroke-width="0.8" />
<line x1="589.17" y1="221.4" x2="589.17" y2="221.2" stroke="#222" stroke-width="0.8" />
<line x1="637.45" y1="221.4" x2="637.45" y2="218.18" stroke="#222" stroke-width="0.8" />
<line x1="686.4" y1="221.4" x2="686.4" y2="221.09" stroke="#222" stroke-width="0.8" />
<line x1="597.66" y1="221.4" x2="597.66" y2="220.04" stroke="#222" stroke-width="0.8" />
<line x1="655.25" y1="221.4" x2="655.25" y2="219.54" stroke="#222" stroke-width="0.8" />
<line x1="574.06" y1="221.4" x2="574.06" y2="220.91" stroke="#222" stroke-width="0.8" />
<line x1="679.33" y1="221.4" x2="679.33" y2="220.94" stroke="#222" stroke-width="0.8" />
<line x1="608.4" y1="221.4" x2="608.4" y2="220.7" stroke="#222" stroke-width="0.8" />
<line x1="620.03" y1="221.4" x2="620.03" y2="217.84" stroke="#222" stroke-width="0.8" />
<line x1="578.23" y1="221.4" x2="578.23" y2="221.39" stroke="#222" stroke-width="0.8" />
<line x1="703.01" y1="221.4" x2="703.01" y2="219.92" stroke="#222" stroke-width="0.8" />
<line x1="709.93" y1="221.4" x2="709.93" y2="220.67" stroke="#222" stroke-width="0.8" />
<line x1="704.1" y1="221.4" x2="704.1" y2="219.84" stroke="#222" stroke-width="0.8" />
<line x1="588.7" y1="221.4" x2="588.7" y2="220.14" stroke="#222" stroke-width="0.8" />
<line x1="686.12" y1="221.4" x2="686.12" y2="220.28" stroke="#222" stroke-width="0.8" />
<line x1="635.76" y1="221.4" x2="635.76" y2="219.55" stroke="#222" stroke-width="0.8" />
<line x1="589.55" y1="221.4" x2="589.55" y2="221.29" stroke="#222" stroke-width="0.8" />
<line x1="646.81" y1="221.4" x2="646.81" y2="218.17" stroke="#222" stroke-width="0.8" />
<line x1="560.64" y1="221.4" x2="560.64" y2="219.88" stroke="#222" stroke-width="0.8" />
<line x1="639.3" y1="221.4" x2="639.3" y2="60.39" stroke="#181818" stroke-width="1.1" />
<rect x="548.5" y="52.8" width="168.5" height="168.6" fill="none" stroke="#1a1a1a" stroke-width="1.2" />
<line x1="626.1" y1="52.8" x2="626.1" y2="221.4" stroke="#1a1a1a" stroke-width="1.2" />
<line x1="543" y1="221.4" x2="548.5" y2="221.4" stroke="#1a1a1a" stroke-width="1.2" />
<text transform="translate(538.3,221.4) rotate(-90)" font-family="'Liberation Sans', sans-serif" font-size="9.6" text-anchor="middle" fill="#222" stroke="#222" stroke-width="0.25" textLength="4.4" lengthAdjust="spacingAndGlyphs">0</text>
<line x1="543" y1="179.25" x2="548.5" y2="179.25" stroke="#1a1a1a" stroke-width="1.2" />
<text transform="translate(538.3,179.25) rotate(-90)" font-family="'Liberation Sans', sans-serif" font-size="9.6" text-anchor="middle" fill="#222" stroke="#222" stroke-width="0.25" textLength="13.2" lengthAdjust="spacingAndGlyphs">100</text>
<line x1="543" y1="137.1" x2="548.5" y2="137.1" stroke="#1a1a1a" stroke-width="1.2" />
<text transform="translate(538.3,137.1) rotate(-90)" font-family="'Liberation Sans', sans-serif" font-size="9.6" text-anchor="middle" fill="#222" stroke="#222" stroke-width="0.25" textLength="13.2" lengthAdjust="spacingAndGlyphs">200</text>
<line x1="543" y1="94.95" x2="548.5" y2="94.95" stroke="#1a1a1a" stroke-width="1.2" />
<text transform="translate(538.3,94.95) rotate(-90)" font-family="'Liberation Sans', sans-serif" font-size="9.6" text-anchor="middle" fill="#222" stroke="#222" stroke-width="0.25" textLength="13.2" lengthAdjust="spacingAndGlyphs">300</text>
<line x1="543" y1="52.8" x2="548.5" y2="52.8" stroke="#1a1a1a" stroke-width="1.2" />
<text transform="translate(538.3,52.8) rotate(-90)" font-family="'Liberation Sans', sans-serif" font-size="9.6" text-anchor="middle" fill="#222" stroke="#222" stroke-width="0.25" textLength="13.2" lengthAdjust="spacingAndGlyphs">400</text>
<text transform="translate(525.2,157.8) rotate(-90)" font-family="'Liberation Sans', sans-serif" font-size="10" text-anchor="middle" fill="#222" stroke="#222" stroke-width="0.2">Count</text>
<line x1="548.5" y1="221.4" x2="548.5" y2="226.4" stroke="#1a1a1a" stroke-width="1.3" />
<line x1="556.68" y1="221.4" x2="556.68" y2="226.4" stroke="#1a1a1a" stroke-width="1.3" />
<line x1="561.47" y1="221.4" x2="561.47" y2="226.4" stroke="#1a1a1a" stroke-width="1.3" />
<line x1="564.86" y1="221.4" x2="564.86" y2="226.4" stroke="#1a1a1a" stroke-width="1.3" />
<line x1="567.5" y1="221.4" x2="567.5" y2="226.4" stroke="#1a1a1a" stroke-width="1.3" />
<line x1="569.65" y1="221.4" x2="569.65" y2="226.4" stroke="#1a1a1a" stroke-width="1.3" />
<line x1="571.47" y1="221.4" x2="571.47" y2="226.4" stroke="#1a1a1a" stroke-width="1.3" />
<line x1="573.04" y1="221.4" x2="573.04" y2="226.4" stroke="#1a1a1a" stroke-width="1.3" />
<line x1="574.43" y1="221.4" x2="574.43" y2="226.4" stroke="#1a1a1a" stroke-width="1.3" />
<line x1="575.68" y1="221.4" x2="575.68" y2="226.4" stroke="#1a1a1a" stroke-width="1.3" />
<line x1="583.86" y1="221.4" x2="583.86" y2="226.4" stroke="#1a1a1a" stroke-width="1.3" />
<line x1="588.64" y1="221.4" x2="588.64" y2="226.4" stroke="#1a1a1a" stroke-width="1.3" />
<line x1="592.04" y1="221.4" x2="592.04" y2="226.4" stroke="#1a1a1a" stroke-width="1.3" />
<line x1="594.67" y1="221.4" x2="594.67" y2="226.4" stroke="#1a1a1a" stroke-width="1.3" />
<line x1="596.83" y1="221.4" x2="596.83" y2="226.4" stroke="#1a1a1a" stroke-width="1.3" />
<line x1="598.65" y1="221.4" x2="598.65" y2="226.4" stroke="#1a1a1a" stroke-width="1.3" />
<line x1="600.22" y1="221.4" x2="600.22" y2="226.4" stroke="#1a1a1a" stroke-width="1.3" />
<line x1="601.61" y1="221.4" x2="601.61" y2="226.4" stroke="#1a1a1a" stroke-width="1.3" />
<line x1="602.85" y1="221.4" x2="602.85" y2="226.4" stroke="#1a1a1a" stroke-width="1.3" />
<line x1="611.04" y1="221.4" x2="611.04" y2="226.4" stroke="#1a1a1a" stroke-width="1.3" />
<line x1="615.82" y1="221.4" x2="615.82" y2="226.4" stroke="#1a1a1a" stroke-width="1.3" />
<line x1="619.22" y1="221.4" x2="619.22" y2="226.4" stroke="#1a1a1a" stroke-width="1.3" />
<line x1="621.85" y1="221.4" x2="621.85" y2="226.4" stroke="#1a1a1a" stroke-width="1.3" />
<line x1="624" y1="221.4" x2="624" y2="226.4" stroke="#1a1a1a" stroke-width="1.3" />
<line x1="625.82" y1="221.4" x2="625.82" y2="226.4" stroke="#1a1a1a" stroke-width="1.3" />
<line x1="627.4" y1="221.4" x2="627.4" y2="226.4" stroke="#1a1a1a" stroke-width="1.3" />
<line x1="628.79" y1="221.4" x2="628.79" y2="226.4" stroke="#1a1a1a" stroke-width="1.3" />
<line x1="630.03" y1="221.4" x2="630.03" y2="226.4" stroke="#1a1a1a" stroke-width="1.3" />
<line x1="638.21" y1="221.4" x2="638.21" y2="226.4" stroke="#1a1a1a" stroke-width="1.3" />
<line x1="643" y1="221.4" x2="643" y2="226.4" stroke="#1a1a1a" stroke-width="1.3" />
<line x1="646.39" y1="221.4" x2="646.39" y2="226.4" stroke="#1a1a1a" stroke-width="1.3" />
<line x1="649.03" y1="221.4" x2="649.03" y2="226.4" stroke="#1a1a1a" stroke-width="1.3" />
<line x1="651.18" y1="221.4" x2="651.18" y2="226.4" stroke="#1a1a1a" stroke-width="1.3" />
<line x1="653" y1="221.4" x2="653" y2="226.4" stroke="#1a1a1a" stroke-width="1.3" />
<line x1="654.58" y1="221.4" x2="654.58" y2="226.4" stroke="#1a1a1a" stroke-width="1.3" />
<line x1="655.97" y1="221.4" x2="655.97" y2="226.4" stroke="#1a1a1a" stroke-width="1.3" />
<line x1="657.21" y1="221.4" x2="657.21" y2="226.4" stroke="#1a1a1a" stroke-width="1.3" />
<line x1="665.39" y1="221.4" x2="665.39" y2="226.4" stroke="#1a1a1a" stroke-width="1.3" />
<line x1="670.18" y1="221.4" x2="670.18" y2="226.4" stroke="#1a1a1a" stroke-width="1.3" />
<line x1="673.57" y1="221.4" x2="673.57" y2="226.4" stroke="#1a1a1a" stroke-width="1.3" />
<line x1="676.21" y1="221.4" x2="676.21" y2="226.4" stroke="#1a1a1a" stroke-width="1.3" />
<line x1="678.36" y1="221.4" x2="678.36" y2="226.4" stroke="#1a1a1a" stroke-width="1.3" />
<line x1="680.18" y1="221.4" x2="680.18" y2="226.4" stroke="#1a1a1a" stroke-width="1.3" />
<line x1="681.75" y1="221.4" x2="681.75" y2="226.4" stroke="#1a1a1a" stroke-width="1.3" />
<line x1="683.14" y1="221.4" x2="683.14" y2="226.4" stroke="#1a1a1a" stroke-width="1.3" />
<line x1="684.39" y1="221.4" x2="684.39" y2="226.4" stroke="#1a1a1a" stroke-width="1.3" />
<line x1="692.57" y1="221.4" x2="692.57" y2="226.4" stroke="#1a1a1a" stroke-width="1.3" />
<line x1="697.35" y1="221.4" x2="697.35" y2="226.4" stroke="#1a1a1a" stroke-width="1.3" />
<line x1="700.75" y1="221.4" x2="700.75" y2="226.4" stroke="#1a1a1a" stroke-width="1.3" />
<line x1="703.38" y1="221.4" x2="703.38" y2="226.4" stroke="#1a1a1a" stroke-width="1.3" />
<line x1="705.54" y1="221.4" x2="705.54" y2="226.4" stroke="#1a1a1a" stroke-width="1.3" />
<line x1="707.35" y1="221.4" x2="707.35" y2="226.4" stroke="#1a1a1a" stroke-width="1.3" />
<line x1="708.93" y1="221.4" x2="708.93" y2="226.4" stroke="#1a1a1a" stroke-width="1.3" />
<line x1="710.32" y1="221.4" x2="710.32" y2="226.4" stroke="#1a1a1a" stroke-width="1.3" />
<line x1="711.56" y1="221.4" x2="711.56" y2="226.4" stroke="#1a1a1a" stroke-width="1.3" />
<line x1="717" y1="221.4" x2="717" y2="226.4" stroke="#1a1a1a" stroke-width="1.3" />
<text x="547.9" y="238.1" font-family="'Liberation Sans', sans-serif" font-size="6" text-anchor="end" font-weight="normal" fill="#222" >10</text>
<text x="548.7" y="236.4" font-family="'Liberation Sans', sans-serif" font-size="9" text-anchor="start" font-weight="normal" fill="#111" stroke="#111" stroke-width="0.2">1</text>
<text x="575.08" y="238.1" font-family="'Liberation Sans', sans-serif" font-size="6" text-anchor="end" font-weight="normal" fill="#222" >10</text>
<text x="575.88" y="236.4" font-family="'Liberation Sans', sans-serif" font-size="9" text-anchor="start" font-weight="normal" fill="#111" stroke="#111" stroke-width="0.2">2</text>
<text x="602.25" y="238.1" font-family="'Liberation Sans', sans-serif" font-size="6" text-anchor="end" font-weight="normal" fill="#222" >10</text>
<text x="603.05" y="236.4" font-family="'Liberation Sans', sans-serif" font-size="9" text-anchor="start" font-weight="normal" fill="#111" stroke="#111" stroke-width="0.2">3</text>
<text x="629.43" y="238.1" font-family="'Liberation Sans', sans-serif" font-size="6" text-anchor="end" font-weight="normal" fill="#222" >10</text>
<text x="630.23" y="236.4" font-family="'Liberation Sans', sans-serif" font-size="9" text-anchor="start" font-weight="normal" fill="#111" stroke="#111" stroke-width="0.2">4</text>
<text x="656.61" y="238.1" font-family="'Liberation Sans', sans-serif" font-size="6" text-anchor="end" font-weight="normal" fill="#222" >10</text>
<text x="657.41" y="236.4" font-family="'Liberation Sans', sans-serif" font-size="9" text-anchor="start" font-weight="normal" fill="#111" stroke="#111" stroke-width="0.2">5</text>
<text x="683.79" y="238.1" font-family="'Liberation Sans', sans-serif" font-size="6" text-anchor="end" font-weight="normal" fill="#222" >10</text>
<text x="684.59" y="236.4" font-family="'Liberation Sans', sans-serif" font-size="9" text-anchor="start" font-weight="normal" fill="#111" stroke="#111" stroke-width="0.2">6</text>
<text x="716.4" y="238.1" font-family="'Liberation Sans', sans-serif" font-size="6" text-anchor="end" font-weight="normal" fill="#222" >10</text>
<text x="717.2" y="236.4" font-family="'Liberation Sans', sans-serif" font-size="9" text-anchor="start" font-weight="normal" fill="#111" stroke="#111" stroke-width="0.2">7.2</text>
<text x="630.75" y="249.2" font-family="'Liberation Sans', sans-serif" font-size="9.3" text-anchor="middle" font-weight="normal" fill="#111" textLength="52.5" lengthAdjust="spacingAndGlyphs" stroke="#111" stroke-width="0.25">CD133-PE- A</text>
<text x="549.3" y="64.5" font-family="'Liberation Sans', sans-serif" font-size="11.8" text-anchor="start" font-weight="normal" fill="#111" textLength="40.6" lengthAdjust="spacingAndGlyphs" stroke="#111" stroke-width="0.12">CD133-</text>
<text x="549.3" y="75" font-family="'Liberation Sans', sans-serif" font-size="11.8" text-anchor="start" font-weight="normal" fill="#111" stroke="#111" stroke-width="0.12">1.6%</text>
<text x="715.8" y="64.5" font-family="'Liberation Sans', sans-serif" font-size="11.8" text-anchor="end" font-weight="normal" fill="#111" textLength="43.4" lengthAdjust="spacingAndGlyphs" stroke="#111" stroke-width="0.12">CD133+</text>
<text x="715.8" y="75" font-family="'Liberation Sans', sans-serif" font-size="11.8" text-anchor="end" font-weight="normal" fill="#111" stroke="#111" stroke-width="0.12">98.4%</text>
<rect x="46" y="296" width="125.2" height="90" fill="#8d8684" stroke="none" stroke-width="0" filter="url(#fc11)"/>
<rect x="178" y="296" width="125.5" height="90" fill="#a09a98" stroke="none" stroke-width="0" filter="url(#fc12)"/>
<rect x="46" y="392.5" width="125.2" height="90.1" fill="url(#gc2)" stroke="none" stroke-width="0" filter="url(#fc21)"/>
<rect x="178" y="392.5" width="125.5" height="90.1" fill="url(#gc2)" stroke="none" stroke-width="0" filter="url(#fc22)"/>
<g filter="url(#sph)"><circle cx="209.6" cy="416.5" r="6" fill="#9c9593" stroke="#847d7b" stroke-width="1.1"/><circle cx="208.1" cy="415.9" r="2.1" fill="none" stroke="#8e8785" stroke-width="0.8"/><circle cx="211.4" cy="418" r="1.8" fill="none" stroke="#8e8785" stroke-width="0.8"/></g>
<g filter="url(#sph)"><circle cx="239.2" cy="441.7" r="6.5" fill="#9c9593" stroke="#847d7b" stroke-width="1.1"/><circle cx="237.57" cy="441.05" r="2.27" fill="none" stroke="#8e8785" stroke-width="0.8"/><circle cx="241.15" cy="443.32" r="1.95" fill="none" stroke="#8e8785" stroke-width="0.8"/></g>
<g filter="url(#sph)"><circle cx="265.6" cy="441.7" r="6" fill="#9c9593" stroke="#847d7b" stroke-width="1.1"/><circle cx="264.1" cy="441.1" r="2.1" fill="none" stroke="#8e8785" stroke-width="0.8"/><circle cx="267.4" cy="443.2" r="1.8" fill="none" stroke="#8e8785" stroke-width="0.8"/></g>
<g filter="url(#sph)"><circle cx="276.6" cy="447" r="3.5" fill="#9c9593" stroke="#847d7b" stroke-width="1.1"/><circle cx="275.73" cy="446.65" r="1.22" fill="none" stroke="#8e8785" stroke-width="0.8"/><circle cx="277.65" cy="447.88" r="1.05" fill="none" stroke="#8e8785" stroke-width="0.8"/></g>
<g filter="url(#sph)"><circle cx="265.6" cy="417.4" r="3" fill="#9c9593" stroke="#847d7b" stroke-width="1.1"/><circle cx="264.85" cy="417.1" r="1.05" fill="none" stroke="#8e8785" stroke-width="0.8"/><circle cx="266.5" cy="418.15" r="0.9" fill="none" stroke="#8e8785" stroke-width="0.8"/></g>
<g filter="url(#sph)"><circle cx="219" cy="459" r="2.5" fill="#9c9593" stroke="#847d7b" stroke-width="1.1"/><circle cx="218.38" cy="458.75" r="0.88" fill="none" stroke="#8e8785" stroke-width="0.8"/><circle cx="219.75" cy="459.62" r="0.75" fill="none" stroke="#8e8785" stroke-width="0.8"/></g>
<g filter="url(#sph)"><circle cx="263.6" cy="468.5" r="2.5" fill="#9c9593" stroke="#847d7b" stroke-width="1.1"/><circle cx="262.98" cy="468.25" r="0.88" fill="none" stroke="#8e8785" stroke-width="0.8"/><circle cx="264.35" cy="469.12" r="0.75" fill="none" stroke="#8e8785" stroke-width="0.8"/></g>
<g filter="url(#sph)"><circle cx="296" cy="400" r="3" fill="#9c9593" stroke="#847d7b" stroke-width="1.1"/><circle cx="295.25" cy="399.7" r="1.05" fill="none" stroke="#8e8785" stroke-width="0.8"/><circle cx="296.9" cy="400.75" r="0.9" fill="none" stroke="#8e8785" stroke-width="0.8"/></g>
<rect x="266.6" y="472.4" width="33" height="4.2" fill="#1a1210" stroke="none" stroke-width="0" />
<text transform="translate(44.2,344.7) rotate(-90)" font-family="'Liberation Serif', serif" font-size="14" text-anchor="middle" textLength="38" lengthAdjust="spacingAndGlyphs">CD133</text>
<text transform="translate(44.2,459.6) rotate(-90)" font-family="'Liberation Serif', serif" font-size="13.8" textLength="37" lengthAdjust="spacingAndGlyphs">CD133</text><text transform="translate(39.6,420) rotate(-90)" font-family="'Liberation Serif', serif" font-size="9">+</text>
<text x="110.7" y="497.7" font-family="'Liberation Serif', serif" font-size="14" text-anchor="middle" font-weight="normal" fill="#000" >1 Day</text>
<text x="240.5" y="497.7" font-family="'Liberation Serif', serif" font-size="14" text-anchor="middle" font-weight="normal" fill="#000" >7 Days</text>
<rect x="320.6" y="295.6" width="125.4" height="90" fill="#15110f" stroke="none" stroke-width="0" />
<rect x="453.3" y="295.6" width="125.4" height="90" fill="#15110f" stroke="none" stroke-width="0" />
<rect x="585.5" y="295.6" width="125.4" height="90" fill="#15110f" stroke="none" stroke-width="0" />
<rect x="320.6" y="392.6" width="125.4" height="90" fill="#15110f" stroke="none" stroke-width="0" />
<rect x="453.3" y="392.6" width="125.4" height="90" fill="#15110f" stroke="none" stroke-width="0" />
<rect x="585.5" y="392.6" width="125.4" height="90" fill="#15110f" stroke="none" stroke-width="0" />
<g clip-path="url(#cd00)">
<ellipse cx="382" cy="337" rx="42" ry="33" fill="#241c48" opacity="0.5" filter="url(#fb6)"/>
<g filter="url(#fb1)"><ellipse cx="388.82" cy="316.85" rx="4.13" ry="3.47" fill="#4a3a98" opacity="0.33" transform="rotate(119.42 388.82 316.85)"/><ellipse cx="358.02" cy="318.63" rx="2.78" ry="2.12" fill="#4a3a98" opacity="0.26" transform="rotate(174.8 358.02 318.63)"/><ellipse cx="347.46" cy="354.81" rx="2.93" ry="2.34" fill="#4a3a98" opacity="0.2" transform="rotate(114.74 347.46 354.81)"/><ellipse cx="373.93" cy="317.75" rx="3.06" ry="2.24" fill="#4a3a98" opacity="0.15" transform="rotate(148.21 373.93 317.75)"/><ellipse cx="397.13" cy="347.88" rx="3.96" ry="3.23" fill="#4a3a98" opacity="0.17" transform="rotate(76.13 397.13 347.88)"/><ellipse cx="373.98" cy="348.15" rx="2.21" ry="1.9" fill="#4a3a98" opacity="0.19" transform="rotate(62.19 373.98 348.15)"/><ellipse cx="340.79" cy="341.25" rx="2.51" ry="1.89" fill="#4a3a98" opacity="0.07" transform="rotate(11.83 340.79 341.25)"/><ellipse cx="352.66" cy="349.2" rx="3.66" ry="3.28" fill="#4a3a98" opacity="0.17" transform="rotate(85.52 352.66 349.2)"/><ellipse cx="381.87" cy="361.81" rx="2.82" ry="2.56" fill="#4a3a98" opacity="0.31" transform="rotate(123.02 381.87 361.81)"/><ellipse cx="342.69" cy="326.82" rx="4.09" ry="3.89" fill="#4a3a98" opacity="0.31" transform="rotate(21.4 342.69 326.82)"/><ellipse cx="399.28" cy="355.12" rx="3.82" ry="2.83" fill="#4a3a98" opacity="0.29" transform="rotate(32.19 399.28 355.12)"/><ellipse cx="406.58" cy="352.72" rx="3.98" ry="3.85" fill="#4a3a98" opacity="0.19" transform="rotate(25.09 406.58 352.72)"/><ellipse cx="368.35" cy="308.46" rx="3.3" ry="2.65" fill="#4a3a98" opacity="0.26" transform="rotate(10.35 368.35 308.46)"/><ellipse cx="363.41" cy="358.42" rx="2.38" ry="1.85" fill="#4a3a98" opacity="0.33" transform="rotate(36.8 363.41 358.42)"/><ellipse cx="415.69" cy="325.06" rx="2.39" ry="2.31" fill="#4a3a98" opacity="0.25" transform="rotate(2.18 415.69 325.06)"/><ellipse cx="393.18" cy="360.54" rx="3.12" ry="2.93" fill="#4a3a98" opacity="0.23" transform="rotate(42.93 393.18 360.54)"/><ellipse cx="362.95" cy="347.59" rx="3.3" ry="2.64" fill="#4a3a98" opacity="0.22" transform="rotate(168.66 362.95 347.59)"/><ellipse cx="364.2" cy="348.81" rx="3.99" ry="2.86" fill="#4a3a98" opacity="0.18" transform="rotate(39.67 364.2 348.81)"/><ellipse cx="350.12" cy="326.6" rx="2.94" ry="2.64" fill="#4a3a98" opacity="0.19" transform="rotate(121.81 350.12 326.6)"/><ellipse cx="397.73" cy="328.05" rx="3.53" ry="2.6" fill="#4a3a98" opacity="0.22" transform="rotate(98.25 397.73 328.05)"/><ellipse cx="366.74" cy="348.61" rx="3.67" ry="3.05" fill="#4a3a98" opacity="0.13" transform="rotate(81.88 366.74 348.61)"/><ellipse cx="402.15" cy="332.96" rx="3.53" ry="3.23" fill="#4a3a98" opacity="0.14" transform="rotate(171.15 402.15 332.96)"/><ellipse cx="404.95" cy="334.7" rx="4.17" ry="2.99" fill="#4a3a98" opacity="0.33" transform="rotate(74.13 404.95 334.7)"/><ellipse cx="377.97" cy="322.09" rx="3.43" ry="3.17" fill="#4a3a98" opacity="0.1" transform="rotate(154.38 377.97 322.09)"/><ellipse cx="345.17" cy="349.68" rx="2.73" ry="2.48" fill="#4a3a98" opacity="0.25" transform="rotate(175.8 345.17 349.68)"/><ellipse cx="407.04" cy="326.37" rx="3.66" ry="3.35" fill="#4a3a98" opacity="0.1" transform="rotate(75.09 407.04 326.37)"/><ellipse cx="362.28" cy="319.74" rx="2.63" ry="1.92" fill="#4a3a98" opacity="0.29" transform="rotate(41.82 362.28 319.74)"/><ellipse cx="356.15" cy="314.43" rx="3.66" ry="3.29" fill="#4a3a98" opacity="0.23" transform="rotate(162.04 356.15 314.43)"/><ellipse cx="377.69" cy="306.5" rx="2.58" ry="2.36" fill="#4a3a98" opacity="0.21" transform="rotate(165.34 377.69 306.5)"/><ellipse cx="382.94" cy="318.97" rx="3.39" ry="2.71" fill="#4a3a98" opacity="0.33" transform="rotate(167.59 382.94 318.97)"/><ellipse cx="415.92" cy="342.07" rx="3.16" ry="2.32" fill="#4a3a98" opacity="0.1" transform="rotate(7.37 415.92 342.07)"/><ellipse cx="391.36" cy="351.04" rx="4.19" ry="4.18" fill="#4a3a98" opacity="0.23" transform="rotate(72.52 391.36 351.04)"/><ellipse cx="364.21" cy="339.03" rx="4.17" ry="3.22" fill="#4a3a98" opacity="0.15" transform="rotate(130.18 364.21 339.03)"/><ellipse cx="372.63" cy="340.85" rx="2.5" ry="2.44" fill="#4a3a98" opacity="0.31" transform="rotate(135.92 372.63 340.85)"/><ellipse cx="418.6" cy="325.95" rx="2.26" ry="2.2" fill="#4a3a98" opacity="0.15" transform="rotate(84.5 418.6 325.95)"/><ellipse cx="356.83" cy="313.98" rx="2.53" ry="2.47" fill="#4a3a98" opacity="0.19" transform="rotate(159.1 356.83 313.98)"/><ellipse cx="403.65" cy="353.9" rx="2.58" ry="1.98" fill="#4a3a98" opacity="0.29" transform="rotate(94.62 403.65 353.9)"/><ellipse cx="350.79" cy="343.12" rx="3.52" ry="3.19" fill="#4a3a98" opacity="0.25" transform="rotate(66.48 350.79 343.12)"/><ellipse cx="391.84" cy="368.66" rx="3.9" ry="3.52" fill="#4a3a98" opacity="0.08" transform="rotate(16.47 391.84 368.66)"/><ellipse cx="395.55" cy="328.51" rx="3.91" ry="3.85" fill="#4a3a98" opacity="0.07" transform="rotate(7.83 395.55 328.51)"/><ellipse cx="355.65" cy="349.39" rx="3.79" ry="2.96" fill="#4a3a98" opacity="0.27" transform="rotate(174.76 355.65 349.39)"/><ellipse cx="401.18" cy="349.17" rx="2.77" ry="2.57" fill="#4a3a98" opacity="0.18" transform="rotate(92.94 401.18 349.17)"/><ellipse cx="380.99" cy="364.7" rx="3.04" ry="2.17" fill="#4a3a98" opacity="0.31" transform="rotate(95.48 380.99 364.7)"/><ellipse cx="398.49" cy="322.88" rx="3.45" ry="2.56" fill="#4a3a98" opacity="0.24" transform="rotate(169.88 398.49 322.88)"/><ellipse cx="360.38" cy="313.01" rx="3.09" ry="2.25" fill="#4a3a98" opacity="0.08" transform="rotate(137.07 360.38 313.01)"/><ellipse cx="348.19" cy="339.73" rx="3.97" ry="3.75" fill="#4a3a98" opacity="0.19" transform="rotate(149.45 348.19 339.73)"/><ellipse cx="405.87" cy="361.18" rx="3.91" ry="3.33" fill="#4a3a98" opacity="0.27" transform="rotate(172.42 405.87 361.18)"/><ellipse cx="402.15" cy="354.35" rx="4.02" ry="3.71" fill="#4a3a98" opacity="0.08" transform="rotate(105.16 402.15 354.35)"/><ellipse cx="400.15" cy="338.92" rx="3.32" ry="2.89" fill="#4a3a98" opacity="0.14" transform="rotate(158.2 400.15 338.92)"/><ellipse cx="422.31" cy="340.46" rx="3.66" ry="2.72" fill="#4a3a98" opacity="0.09" transform="rotate(100.7 422.31 340.46)"/><ellipse cx="352.39" cy="336.99" rx="2.81" ry="2.1" fill="#4a3a98" opacity="0.1" transform="rotate(76.43 352.39 336.99)"/><ellipse cx="406.58" cy="315.31" rx="3.81" ry="2.96" fill="#4a3a98" opacity="0.08" transform="rotate(120.36 406.58 315.31)"/><ellipse cx="352.97" cy="319.2" rx="3.97" ry="3.64" fill="#4a3a98" opacity="0.11" transform="rotate(163.84 352.97 319.2)"/><ellipse cx="360.67" cy="360.93" rx="2.84" ry="2.48" fill="#4a3a98" opacity="0.28" transform="rotate(63.08 360.67 360.93)"/><ellipse cx="414.43" cy="349.92" rx="2.84" ry="2.24" fill="#4a3a98" opacity="0.23" transform="rotate(51.44 414.43 349.92)"/><ellipse cx="349.09" cy="332.76" rx="3.97" ry="3.08" fill="#4a3a98" opacity="0.31" transform="rotate(80.19 349.09 332.76)"/><ellipse cx="348.79" cy="331.38" rx="3.56" ry="3.43" fill="#4a3a98" opacity="0.31" transform="rotate(2.09 348.79 331.38)"/><ellipse cx="354.74" cy="312.48" rx="3.39" ry="3.31" fill="#4a3a98" opacity="0.18" transform="rotate(110.77 354.74 312.48)"/><ellipse cx="391.64" cy="349.34" rx="2.61" ry="2.5" fill="#4a3a98" opacity="0.32" transform="rotate(148.06 391.64 349.34)"/><ellipse cx="405.73" cy="315.38" rx="2.31" ry="2.11" fill="#4a3a98" opacity="0.17" transform="rotate(36.13 405.73 315.38)"/><ellipse cx="398.52" cy="335.95" rx="2.5" ry="1.88" fill="#4a3a98" opacity="0.29" transform="rotate(89.27 398.52 335.95)"/><ellipse cx="403.71" cy="345.94" rx="2.67" ry="2.13" fill="#4a3a98" opacity="0.31" transform="rotate(75.64 403.71 345.94)"/><ellipse cx="376.83" cy="350.29" rx="2.28" ry="1.93" fill="#4a3a98" opacity="0.25" transform="rotate(144.15 376.83 350.29)"/><ellipse cx="370.73" cy="341.71" rx="4.14" ry="3.88" fill="#4a3a98" opacity="0.08" transform="rotate(84.29 370.73 341.71)"/><ellipse cx="365.19" cy="322.12" rx="2.64" ry="2" fill="#4a3a98" opacity="0.3" transform="rotate(173.2 365.19 322.12)"/><ellipse cx="383.39" cy="322.82" rx="3.77" ry="3.64" fill="#4a3a98" opacity="0.23" transform="rotate(25.95 383.39 322.82)"/><ellipse cx="355.42" cy="331.37" rx="2.83" ry="2.46" fill="#4a3a98" opacity="0.14" transform="rotate(134.44 355.42 331.37)"/><ellipse cx="374.94" cy="337.57" rx="3.76" ry="3.76" fill="#4a3a98" opacity="0.13" transform="rotate(4.26 374.94 337.57)"/><ellipse cx="371.16" cy="358.47" rx="2.67" ry="2.01" fill="#4a3a98" opacity="0.16" transform="rotate(175.37 371.16 358.47)"/><ellipse cx="385.25" cy="314.04" rx="2.24" ry="2.04" fill="#4a3a98" opacity="0.12" transform="rotate(95.15 385.25 314.04)"/><ellipse cx="364.14" cy="342.28" rx="2.36" ry="1.73" fill="#4a3a98" opacity="0.16" transform="rotate(148.37 364.14 342.28)"/><ellipse cx="372.15" cy="351.23" rx="2.87" ry="2.51" fill="#4a3a98" opacity="0.18" transform="rotate(46.66 372.15 351.23)"/><ellipse cx="385.97" cy="354.98" rx="2.35" ry="1.66" fill="#4a3a98" opacity="0.12" transform="rotate(87.95 385.97 354.98)"/><ellipse cx="349.25" cy="338.37" rx="2.52" ry="1.98" fill="#4a3a98" opacity="0.21" transform="rotate(134.85 349.25 338.37)"/><ellipse cx="378.92" cy="362.71" rx="3.92" ry="3.9" fill="#4a3a98" opacity="0.16" transform="rotate(172.47 378.92 362.71)"/><ellipse cx="353.22" cy="353.61" rx="3.57" ry="3.26" fill="#4a3a98" opacity="0.24" transform="rotate(50.08 353.22 353.61)"/><ellipse cx="410.07" cy="351.65" rx="2.57" ry="2.36" fill="#4a3a98" opacity="0.34" transform="rotate(10.04 410.07 351.65)"/><ellipse cx="395.62" cy="351.68" rx="4.06" ry="3.09" fill="#4a3a98" opacity="0.32" transform="rotate(34.96 395.62 351.68)"/><ellipse cx="347.13" cy="329.74" rx="3.05" ry="2.88" fill="#4a3a98" opacity="0.17" transform="rotate(110.34 347.13 329.74)"/><ellipse cx="407.52" cy="360.92" rx="3.73" ry="3.07" fill="#4a3a98" opacity="0.21" transform="rotate(96.5 407.52 360.92)"/></g>
</g>
<g clip-path="url(#cd01)">
<ellipse cx="519" cy="336" rx="44" ry="34" fill="#163016" opacity="0.6" filter="url(#fb6)"/>
<g filter="url(#fb1)"><ellipse cx="519.42" cy="346.96" rx="4.86" ry="4.72" fill="#2e6e2e" opacity="0.25" transform="rotate(135.33 519.42 346.96)"/><ellipse cx="492.66" cy="317.58" rx="4.36" ry="4.32" fill="#2e6e2e" opacity="0.04" transform="rotate(131.17 492.66 317.58)"/><ellipse cx="518.34" cy="326.2" rx="3.68" ry="3.6" fill="#2e6e2e" opacity="0.06" transform="rotate(30.12 518.34 326.2)"/><ellipse cx="516.99" cy="325.75" rx="4.83" ry="3.47" fill="#2e6e2e" opacity="0.03" transform="rotate(121.77 516.99 325.75)"/><ellipse cx="504.79" cy="345.71" rx="5.72" ry="5.57" fill="#2e6e2e" opacity="0.25" transform="rotate(144.47 504.79 345.71)"/><ellipse cx="534.63" cy="334.57" rx="3.01" ry="2.7" fill="#2e6e2e" opacity="0.08" transform="rotate(78.24 534.63 334.57)"/><ellipse cx="522.8" cy="314.27" rx="4.65" ry="4.18" fill="#2e6e2e" opacity="0.03" transform="rotate(169.53 522.8 314.27)"/><ellipse cx="497.16" cy="320.51" rx="4.73" ry="3.55" fill="#2e6e2e" opacity="0.08" transform="rotate(70.44 497.16 320.51)"/><ellipse cx="529.84" cy="313.86" rx="3.21" ry="2.84" fill="#2e6e2e" opacity="0.07" transform="rotate(104.44 529.84 313.86)"/><ellipse cx="524.84" cy="309.79" rx="4.44" ry="3.79" fill="#2e6e2e" opacity="0.05" transform="rotate(29.36 524.84 309.79)"/><ellipse cx="484.72" cy="337.06" rx="5.09" ry="4.99" fill="#2e6e2e" opacity="0.23" transform="rotate(66.84 484.72 337.06)"/><ellipse cx="511.85" cy="324.81" rx="4.52" ry="4.33" fill="#2e6e2e" opacity="0.07" transform="rotate(16.66 511.85 324.81)"/><ellipse cx="527.34" cy="353.63" rx="5.25" ry="3.79" fill="#2e6e2e" opacity="0.22" transform="rotate(58.05 527.34 353.63)"/><ellipse cx="529.09" cy="354.37" rx="3.65" ry="2.96" fill="#2e6e2e" opacity="0.18" transform="rotate(9.39 529.09 354.37)"/><ellipse cx="560.69" cy="326.23" rx="4.32" ry="4.04" fill="#2e6e2e" opacity="0.09" transform="rotate(49.45 560.69 326.23)"/><ellipse cx="526.45" cy="332.18" rx="5.55" ry="5" fill="#2e6e2e" opacity="0.08" transform="rotate(57.72 526.45 332.18)"/><ellipse cx="552.25" cy="346.5" rx="5.79" ry="5.26" fill="#2e6e2e" opacity="0.16" transform="rotate(161.26 552.25 346.5)"/><ellipse cx="516.07" cy="343.03" rx="5.24" ry="3.87" fill="#2e6e2e" opacity="0.15" transform="rotate(149.11 516.07 343.03)"/><ellipse cx="524.08" cy="333.08" rx="4.6" ry="4.39" fill="#2e6e2e" opacity="0.04" transform="rotate(51.45 524.08 333.08)"/><ellipse cx="499.6" cy="344.51" rx="4.47" ry="3.24" fill="#2e6e2e" opacity="0.16" transform="rotate(79.67 499.6 344.51)"/><ellipse cx="513.76" cy="339.22" rx="4.94" ry="3.55" fill="#2e6e2e" opacity="0.09" transform="rotate(11.01 513.76 339.22)"/><ellipse cx="525.23" cy="364.78" rx="5.22" ry="3.89" fill="#2e6e2e" opacity="0.57" transform="rotate(37.3 525.23 364.78)"/><ellipse cx="539.04" cy="329.96" rx="4.26" ry="3.09" fill="#2e6e2e" opacity="0.08" transform="rotate(169.54 539.04 329.96)"/><ellipse cx="494.78" cy="341.72" rx="4.97" ry="4.53" fill="#2e6e2e" opacity="0.23" transform="rotate(54.96 494.78 341.72)"/><ellipse cx="498.33" cy="346.56" rx="5.84" ry="4.27" fill="#2e6e2e" opacity="0.09" transform="rotate(177.98 498.33 346.56)"/><ellipse cx="521.34" cy="324.27" rx="5.11" ry="4.8" fill="#2e6e2e" opacity="0.05" transform="rotate(19.95 521.34 324.27)"/><ellipse cx="497.57" cy="315.7" rx="5.41" ry="4.4" fill="#2e6e2e" opacity="0.09" transform="rotate(40.18 497.57 315.7)"/><ellipse cx="539.69" cy="361.24" rx="5.69" ry="4" fill="#2e6e2e" opacity="0.43" transform="rotate(156.84 539.69 361.24)"/><ellipse cx="526.77" cy="367.84" rx="3.59" ry="2.65" fill="#2e6e2e" opacity="0.32" transform="rotate(137.43 526.77 367.84)"/><ellipse cx="528.47" cy="360.12" rx="4.67" ry="3.78" fill="#2e6e2e" opacity="0.42" transform="rotate(11.17 528.47 360.12)"/><ellipse cx="544.97" cy="316.1" rx="3.53" ry="2.83" fill="#2e6e2e" opacity="0.04" transform="rotate(23.81 544.97 316.1)"/><ellipse cx="543.81" cy="350.87" rx="4.26" ry="3.75" fill="#2e6e2e" opacity="0.19" transform="rotate(101.79 543.81 350.87)"/><ellipse cx="530.12" cy="344.58" rx="5.95" ry="4.32" fill="#2e6e2e" opacity="0.1" transform="rotate(24.52 530.12 344.58)"/><ellipse cx="529.56" cy="334.97" rx="5.79" ry="5.63" fill="#2e6e2e" opacity="0.06" transform="rotate(151.2 529.56 334.97)"/><ellipse cx="508.69" cy="318.58" rx="5.01" ry="3.74" fill="#2e6e2e" opacity="0.05" transform="rotate(8.39 508.69 318.58)"/><ellipse cx="540.36" cy="311.23" rx="3.04" ry="2.49" fill="#2e6e2e" opacity="0.06" transform="rotate(167.76 540.36 311.23)"/><ellipse cx="517.13" cy="348.79" rx="3.1" ry="2.87" fill="#2e6e2e" opacity="0.08" transform="rotate(112.24 517.13 348.79)"/><ellipse cx="553.37" cy="327.52" rx="4.66" ry="4.34" fill="#2e6e2e" opacity="0.05" transform="rotate(109.18 553.37 327.52)"/><ellipse cx="550.05" cy="312.99" rx="4.95" ry="4.64" fill="#2e6e2e" opacity="0.04" transform="rotate(73.88 550.05 312.99)"/><ellipse cx="521.35" cy="311.46" rx="5.28" ry="4.21" fill="#2e6e2e" opacity="0.08" transform="rotate(134.89 521.35 311.46)"/><ellipse cx="535.61" cy="339.23" rx="3.25" ry="2.58" fill="#2e6e2e" opacity="0.14" transform="rotate(12.51 535.61 339.23)"/><ellipse cx="546.69" cy="346.8" rx="3.99" ry="3.36" fill="#2e6e2e" opacity="0.21" transform="rotate(129.37 546.69 346.8)"/><ellipse cx="545.04" cy="329.44" rx="5.96" ry="5.4" fill="#2e6e2e" opacity="0.05" transform="rotate(38.94 545.04 329.44)"/><ellipse cx="499.12" cy="335.22" rx="3.44" ry="2.6" fill="#2e6e2e" opacity="0.17" transform="rotate(56.69 499.12 335.22)"/><ellipse cx="506.33" cy="324.63" rx="5.34" ry="5.22" fill="#2e6e2e" opacity="0.06" transform="rotate(166.26 506.33 324.63)"/><ellipse cx="515.99" cy="313.31" rx="5.66" ry="4.85" fill="#2e6e2e" opacity="0.08" transform="rotate(114.6 515.99 313.31)"/><ellipse cx="535.28" cy="336.4" rx="3.88" ry="3.75" fill="#2e6e2e" opacity="0.05" transform="rotate(156.78 535.28 336.4)"/><ellipse cx="520.48" cy="325.65" rx="5.61" ry="5.37" fill="#2e6e2e" opacity="0.02" transform="rotate(7.31 520.48 325.65)"/><ellipse cx="535.74" cy="307.58" rx="3.96" ry="3.38" fill="#2e6e2e" opacity="0.02" transform="rotate(80.6 535.74 307.58)"/><ellipse cx="552.3" cy="329.86" rx="5.38" ry="5.3" fill="#2e6e2e" opacity="0.08" transform="rotate(59.64 552.3 329.86)"/></g>
<g filter="url(#fb1)"><ellipse cx="491.45" cy="343.65" rx="3.51" ry="3.1" fill="#50b850" fill-opacity="0.35" stroke="#50b850" stroke-width="1.4" opacity="0.42" transform="rotate(69.18 491.45 343.65)"/><ellipse cx="530.87" cy="340.37" rx="3.13" ry="2.77" fill="#50b850" fill-opacity="0.35" stroke="#50b850" stroke-width="1.25" opacity="0.12" transform="rotate(93.53 530.87 340.37)"/><ellipse cx="552.87" cy="351.53" rx="4.13" ry="3.05" fill="#50b850" fill-opacity="0.35" stroke="#50b850" stroke-width="1.65" opacity="0.1" transform="rotate(145.84 552.87 351.53)"/><ellipse cx="536.94" cy="343.21" rx="4.33" ry="3.32" fill="#50b850" fill-opacity="0.35" stroke="#50b850" stroke-width="1.73" opacity="0.14" transform="rotate(95.47 536.94 343.21)"/><ellipse cx="491.21" cy="343.99" rx="4.89" ry="3.78" fill="#50b850" fill-opacity="0.35" stroke="#50b850" stroke-width="1.96" opacity="0.4" transform="rotate(16.56 491.21 343.99)"/><ellipse cx="506.97" cy="348.38" rx="4.53" ry="3.76" fill="#50b850" fill-opacity="0.35" stroke="#50b850" stroke-width="1.81" opacity="0.45" transform="rotate(71.72 506.97 348.38)"/><ellipse cx="496.42" cy="341.86" rx="4.89" ry="4.25" fill="#50b850" fill-opacity="0.35" stroke="#50b850" stroke-width="1.96" opacity="0.23" transform="rotate(79.31 496.42 341.86)"/><ellipse cx="535.17" cy="361.66" rx="5.48" ry="4.6" fill="#50b850" fill-opacity="0.35" stroke="#50b850" stroke-width="2.19" opacity="0.49" transform="rotate(170.56 535.17 361.66)"/><ellipse cx="516.56" cy="344.3" rx="5.61" ry="4.58" fill="#50b850" fill-opacity="0.35" stroke="#50b850" stroke-width="2.24" opacity="0.29" transform="rotate(133.74 516.56 344.3)"/><ellipse cx="529.42" cy="363.39" rx="4.87" ry="4.83" fill="#50b850" fill-opacity="0.35" stroke="#50b850" stroke-width="1.95" opacity="0.46" transform="rotate(94.98 529.42 363.39)"/><ellipse cx="512.47" cy="364.89" rx="5.83" ry="4.21" fill="#50b850" fill-opacity="0.35" stroke="#50b850" stroke-width="2.33" opacity="0.21" transform="rotate(154.45 512.47 364.89)"/><ellipse cx="553.15" cy="328.38" rx="3.76" ry="3.7" fill="#50b850" fill-opacity="0.35" stroke="#50b850" stroke-width="1.51" opacity="0.06" transform="rotate(38.36 553.15 328.38)"/><ellipse cx="516.62" cy="346.74" rx="3.66" ry="2.72" fill="#50b850" fill-opacity="0.35" stroke="#50b850" stroke-width="1.46" opacity="0.22" transform="rotate(86.35 516.62 346.74)"/><ellipse cx="498.31" cy="308.32" rx="4.17" ry="3.07" fill="#50b850" fill-opacity="0.35" stroke="#50b850" stroke-width="1.67" opacity="0.02" transform="rotate(27.11 498.31 308.32)"/><ellipse cx="514.09" cy="323.98" rx="5.18" ry="4.01" fill="#50b850" fill-opacity="0.35" stroke="#50b850" stroke-width="2.07" opacity="0.04" transform="rotate(33.85 514.09 323.98)"/><ellipse cx="503.96" cy="352.06" rx="3.6" ry="3.4" fill="#50b850" fill-opacity="0.35" stroke="#50b850" stroke-width="1.44" opacity="0.35" transform="rotate(149.35 503.96 352.06)"/><ellipse cx="517.84" cy="358.62" rx="4.93" ry="3.59" fill="#50b850" fill-opacity="0.35" stroke="#50b850" stroke-width="1.97" opacity="0.21" transform="rotate(30.61 517.84 358.62)"/><ellipse cx="545.37" cy="328.72" rx="5.51" ry="5.38" fill="#50b850" fill-opacity="0.35" stroke="#50b850" stroke-width="2.2" opacity="0.08" transform="rotate(84.46 545.37 328.72)"/><ellipse cx="497.39" cy="345.84" rx="5.11" ry="4.65" fill="#50b850" fill-opacity="0.35" stroke="#50b850" stroke-width="2.04" opacity="0.54" transform="rotate(172.74 497.39 345.84)"/><ellipse cx="532.6" cy="334.34" rx="5.51" ry="5.14" fill="#50b850" fill-opacity="0.35" stroke="#50b850" stroke-width="2.2" opacity="0.03" transform="rotate(130.95 532.6 334.34)"/><ellipse cx="490.94" cy="332.78" rx="4.81" ry="4.63" fill="#50b850" fill-opacity="0.35" stroke="#50b850" stroke-width="1.92" opacity="0.15" transform="rotate(171.97 490.94 332.78)"/><ellipse cx="507.67" cy="311.87" rx="5.74" ry="4.45" fill="#50b850" fill-opacity="0.35" stroke="#50b850" stroke-width="2.3" opacity="0.04" transform="rotate(24.89 507.67 311.87)"/><ellipse cx="479.76" cy="341.46" rx="3.84" ry="3.76" fill="#50b850" fill-opacity="0.35" stroke="#50b850" stroke-width="1.54" opacity="0.35" transform="rotate(87.18 479.76 341.46)"/><ellipse cx="542.68" cy="352.81" rx="5.88" ry="5.01" fill="#50b850" fill-opacity="0.35" stroke="#50b850" stroke-width="2.35" opacity="0.04" transform="rotate(100.15 542.68 352.81)"/><ellipse cx="529.25" cy="334.1" rx="3.82" ry="3.68" fill="#50b850" fill-opacity="0.35" stroke="#50b850" stroke-width="1.53" opacity="0.08" transform="rotate(126.23 529.25 334.1)"/><ellipse cx="559.57" cy="339.53" rx="3.24" ry="2.37" fill="#50b850" fill-opacity="0.35" stroke="#50b850" stroke-width="1.3" opacity="0.06" transform="rotate(135.16 559.57 339.53)"/><ellipse cx="533.49" cy="316.66" rx="3.46" ry="2.6" fill="#50b850" fill-opacity="0.35" stroke="#50b850" stroke-width="1.38" opacity="0.01" transform="rotate(176.05 533.49 316.66)"/><ellipse cx="498.15" cy="361.35" rx="3.4" ry="2.86" fill="#50b850" fill-opacity="0.35" stroke="#50b850" stroke-width="1.36" opacity="0.37" transform="rotate(64.5 498.15 361.35)"/><ellipse cx="519.62" cy="316.54" rx="3.33" ry="2.67" fill="#50b850" fill-opacity="0.35" stroke="#50b850" stroke-width="1.33" opacity="0.06" transform="rotate(87.67 519.62 316.54)"/><ellipse cx="537.19" cy="308.86" rx="3.16" ry="3.16" fill="#50b850" fill-opacity="0.35" stroke="#50b850" stroke-width="1.27" opacity="0.06" transform="rotate(3.33 537.19 308.86)"/><ellipse cx="516.99" cy="368.65" rx="5.5" ry="4.72" fill="#50b850" fill-opacity="0.35" stroke="#50b850" stroke-width="2.2" opacity="1" transform="rotate(174.92 516.99 368.65)"/><ellipse cx="483.7" cy="334.15" rx="5.54" ry="4.61" fill="#50b850" fill-opacity="0.35" stroke="#50b850" stroke-width="2.22" opacity="0.16" transform="rotate(80.83 483.7 334.15)"/><ellipse cx="510.9" cy="356.65" rx="5.92" ry="4.72" fill="#50b850" fill-opacity="0.35" stroke="#50b850" stroke-width="2.37" opacity="0.21" transform="rotate(144.69 510.9 356.65)"/><ellipse cx="541.49" cy="356.74" rx="5.05" ry="4.81" fill="#50b850" fill-opacity="0.35" stroke="#50b850" stroke-width="2.02" opacity="0.52" transform="rotate(114.06 541.49 356.74)"/><ellipse cx="502.83" cy="308.62" rx="5.58" ry="5.4" fill="#50b850" fill-opacity="0.35" stroke="#50b850" stroke-width="2.23" opacity="0.07" transform="rotate(47.69 502.83 308.62)"/><ellipse cx="541.03" cy="364.41" rx="3.62" ry="2.72" fill="#50b850" fill-opacity="0.35" stroke="#50b850" stroke-width="1.45" opacity="0.06" transform="rotate(39.39 541.03 364.41)"/><ellipse cx="536.12" cy="357.21" rx="5.46" ry="5.42" fill="#50b850" fill-opacity="0.35" stroke="#50b850" stroke-width="2.18" opacity="0.44" transform="rotate(175.01 536.12 357.21)"/><ellipse cx="515.91" cy="363.82" rx="5.16" ry="4.52" fill="#50b850" fill-opacity="0.35" stroke="#50b850" stroke-width="2.06" opacity="0.27" transform="rotate(30.7 515.91 363.82)"/><ellipse cx="512.59" cy="356.66" rx="3.03" ry="2.52" fill="#50b850" fill-opacity="0.35" stroke="#50b850" stroke-width="1.21" opacity="0.43" transform="rotate(50.94 512.59 356.66)"/><ellipse cx="484.43" cy="337.54" rx="4" ry="3.28" fill="#50b850" fill-opacity="0.35" stroke="#50b850" stroke-width="1.6" opacity="0.07" transform="rotate(122.28 484.43 337.54)"/><ellipse cx="485.99" cy="334.06" rx="4.1" ry="3.97" fill="#50b850" fill-opacity="0.35" stroke="#50b850" stroke-width="1.64" opacity="0.31" transform="rotate(132.7 485.99 334.06)"/><ellipse cx="503.71" cy="324.42" rx="5.47" ry="4.88" fill="#50b850" fill-opacity="0.35" stroke="#50b850" stroke-width="2.19" opacity="0.05" transform="rotate(130.3 503.71 324.42)"/><ellipse cx="495.11" cy="328.39" rx="5.86" ry="5.6" fill="#50b850" fill-opacity="0.35" stroke="#50b850" stroke-width="2.35" opacity="0.06" transform="rotate(27.85 495.11 328.39)"/><ellipse cx="480.19" cy="336.16" rx="3.85" ry="3.58" fill="#50b850" fill-opacity="0.35" stroke="#50b850" stroke-width="1.54" opacity="0.28" transform="rotate(7 480.19 336.16)"/><ellipse cx="520.94" cy="327.66" rx="5.72" ry="5.52" fill="#50b850" fill-opacity="0.35" stroke="#50b850" stroke-width="2.29" opacity="0.07" transform="rotate(133.48 520.94 327.66)"/><ellipse cx="508.14" cy="343.88" rx="4.63" ry="3.65" fill="#50b850" fill-opacity="0.35" stroke="#50b850" stroke-width="1.85" opacity="0.19" transform="rotate(116.78 508.14 343.88)"/><ellipse cx="554.29" cy="318.96" rx="4.07" ry="3.29" fill="#50b850" fill-opacity="0.35" stroke="#50b850" stroke-width="1.63" opacity="0.02" transform="rotate(69.93 554.29 318.96)"/><ellipse cx="486.86" cy="345.58" rx="4.03" ry="3.12" fill="#50b850" fill-opacity="0.35" stroke="#50b850" stroke-width="1.61" opacity="0.53" transform="rotate(132.12 486.86 345.58)"/><ellipse cx="510.1" cy="367.12" rx="4.21" ry="3.14" fill="#50b850" fill-opacity="0.35" stroke="#50b850" stroke-width="1.68" opacity="0.38" transform="rotate(149.27 510.1 367.12)"/><ellipse cx="506.37" cy="361.04" rx="4.67" ry="4.66" fill="#50b850" fill-opacity="0.35" stroke="#50b850" stroke-width="1.87" opacity="0.21" transform="rotate(162.09 506.37 361.04)"/><ellipse cx="541.89" cy="342.69" rx="5.26" ry="3.99" fill="#50b850" fill-opacity="0.35" stroke="#50b850" stroke-width="2.1" opacity="0.2" transform="rotate(43.43 541.89 342.69)"/><ellipse cx="543.04" cy="330.56" rx="5.96" ry="5.1" fill="#50b850" fill-opacity="0.35" stroke="#50b850" stroke-width="2.38" opacity="0.07" transform="rotate(28.73 543.04 330.56)"/><ellipse cx="530.4" cy="342.7" rx="4.74" ry="4" fill="#50b850" fill-opacity="0.35" stroke="#50b850" stroke-width="1.9" opacity="0.23" transform="rotate(160.68 530.4 342.7)"/><ellipse cx="529" cy="313.6" rx="5.46" ry="5.31" fill="#50b850" fill-opacity="0.35" stroke="#50b850" stroke-width="2.19" opacity="0.02" transform="rotate(166.85 529 313.6)"/><ellipse cx="495.41" cy="316.28" rx="5.11" ry="4.15" fill="#50b850" fill-opacity="0.35" stroke="#50b850" stroke-width="2.04" opacity="0.04" transform="rotate(135.2 495.41 316.28)"/><ellipse cx="507.18" cy="311.62" rx="4.65" ry="4.6" fill="#50b850" fill-opacity="0.35" stroke="#50b850" stroke-width="1.86" opacity="0.08" transform="rotate(19.1 507.18 311.62)"/><ellipse cx="541.66" cy="324.37" rx="5.91" ry="4.32" fill="#50b850" fill-opacity="0.35" stroke="#50b850" stroke-width="2.37" opacity="0.04" transform="rotate(59.54 541.66 324.37)"/><ellipse cx="522.29" cy="314.6" rx="5.31" ry="4.9" fill="#50b850" fill-opacity="0.35" stroke="#50b850" stroke-width="2.12" opacity="0.03" transform="rotate(41.83 522.29 314.6)"/><ellipse cx="520.26" cy="346.53" rx="3.62" ry="3.45" fill="#50b850" fill-opacity="0.35" stroke="#50b850" stroke-width="1.45" opacity="0.15" transform="rotate(70.96 520.26 346.53)"/><ellipse cx="508.28" cy="343.77" rx="5.07" ry="4.41" fill="#50b850" fill-opacity="0.35" stroke="#50b850" stroke-width="2.03" opacity="0.4" transform="rotate(153.73 508.28 343.77)"/></g>
</g>
<g clip-path="url(#cd02)">
<ellipse cx="649" cy="337" rx="42" ry="33" fill="#1e1a40" opacity="0.5" filter="url(#fb6)"/>
<g filter="url(#fb1)"><ellipse cx="689.24" cy="334.12" rx="3.94" ry="3.01" fill="#4a3cb0" opacity="0.36" transform="rotate(14.05 689.24 334.12)"/><ellipse cx="657.63" cy="312.05" rx="3.26" ry="3.14" fill="#4a3cb0" opacity="0.41" transform="rotate(21.36 657.63 312.05)"/><ellipse cx="625.92" cy="311.08" rx="2.76" ry="2.08" fill="#4a3cb0" opacity="0.28" transform="rotate(73.7 625.92 311.08)"/><ellipse cx="668.59" cy="351.72" rx="3.33" ry="2.9" fill="#4a3cb0" opacity="0.38" transform="rotate(148.85 668.59 351.72)"/><ellipse cx="627.91" cy="328.36" rx="3.66" ry="3.24" fill="#4a3cb0" opacity="0.43" transform="rotate(85.45 627.91 328.36)"/><ellipse cx="628.08" cy="322.57" rx="2.93" ry="2.83" fill="#4a3cb0" opacity="0.45" transform="rotate(161.02 628.08 322.57)"/><ellipse cx="651.4" cy="350.75" rx="3.09" ry="2.3" fill="#4a3cb0" opacity="0.27" transform="rotate(75.63 651.4 350.75)"/><ellipse cx="628.23" cy="310.6" rx="4.34" ry="4.1" fill="#4a3cb0" opacity="0.13" transform="rotate(125.92 628.23 310.6)"/><ellipse cx="614.56" cy="336.02" rx="4.49" ry="3.9" fill="#4a3cb0" opacity="0.45" transform="rotate(138.93 614.56 336.02)"/><ellipse cx="666.53" cy="323.26" rx="3.6" ry="2.95" fill="#4a3cb0" opacity="0.31" transform="rotate(147.42 666.53 323.26)"/><ellipse cx="644.31" cy="353.47" rx="2.63" ry="1.88" fill="#4a3cb0" opacity="0.26" transform="rotate(116.43 644.31 353.47)"/><ellipse cx="680.3" cy="339.87" rx="3.63" ry="2.79" fill="#4a3cb0" opacity="0.32" transform="rotate(69.53 680.3 339.87)"/><ellipse cx="655.6" cy="346.65" rx="3.26" ry="2.61" fill="#4a3cb0" opacity="0.27" transform="rotate(99.77 655.6 346.65)"/><ellipse cx="663.78" cy="325.63" rx="3.87" ry="3.33" fill="#4a3cb0" opacity="0.4" transform="rotate(176.47 663.78 325.63)"/><ellipse cx="633" cy="364.69" rx="2.86" ry="2.71" fill="#4a3cb0" opacity="0.23" transform="rotate(5.86 633 364.69)"/><ellipse cx="658.62" cy="361.51" rx="4.39" ry="3.53" fill="#4a3cb0" opacity="0.34" transform="rotate(59.81 658.62 361.51)"/><ellipse cx="660.02" cy="308.4" rx="2.56" ry="2.27" fill="#4a3cb0" opacity="0.41" transform="rotate(29.31 660.02 308.4)"/><ellipse cx="643.01" cy="323.08" rx="4.24" ry="3.89" fill="#4a3cb0" opacity="0.2" transform="rotate(133.88 643.01 323.08)"/><ellipse cx="633.78" cy="320.64" rx="3.54" ry="3.11" fill="#4a3cb0" opacity="0.24" transform="rotate(59.07 633.78 320.64)"/><ellipse cx="673.74" cy="331.74" rx="2.77" ry="2.68" fill="#4a3cb0" opacity="0.37" transform="rotate(122.61 673.74 331.74)"/><ellipse cx="652.91" cy="361.54" rx="4.37" ry="3.7" fill="#4a3cb0" opacity="0.1" transform="rotate(3.42 652.91 361.54)"/><ellipse cx="635.02" cy="319.96" rx="3.42" ry="3.28" fill="#4a3cb0" opacity="0.34" transform="rotate(46.95 635.02 319.96)"/><ellipse cx="672.7" cy="340.32" rx="2.72" ry="2.67" fill="#4a3cb0" opacity="0.12" transform="rotate(95.28 672.7 340.32)"/><ellipse cx="679.24" cy="355.72" rx="4" ry="3.11" fill="#4a3cb0" opacity="0.38" transform="rotate(44.3 679.24 355.72)"/><ellipse cx="643.43" cy="354.66" rx="4.09" ry="3.57" fill="#4a3cb0" opacity="0.37" transform="rotate(85.81 643.43 354.66)"/><ellipse cx="623.32" cy="348" rx="3.81" ry="3.5" fill="#4a3cb0" opacity="0.28" transform="rotate(176.27 623.32 348)"/><ellipse cx="631.15" cy="344.46" rx="3.88" ry="3.8" fill="#4a3cb0" opacity="0.2" transform="rotate(82.96 631.15 344.46)"/><ellipse cx="673.45" cy="338.45" rx="4.41" ry="3.51" fill="#4a3cb0" opacity="0.31" transform="rotate(64.19 673.45 338.45)"/><ellipse cx="638.5" cy="317.07" rx="2.72" ry="2.16" fill="#4a3cb0" opacity="0.33" transform="rotate(81.65 638.5 317.07)"/><ellipse cx="666.57" cy="322.09" rx="3.38" ry="2.69" fill="#4a3cb0" opacity="0.21" transform="rotate(119.94 666.57 322.09)"/><ellipse cx="615.28" cy="330.37" rx="2.72" ry="2.15" fill="#4a3cb0" opacity="0.33" transform="rotate(173.71 615.28 330.37)"/><ellipse cx="647.55" cy="347.68" rx="3.55" ry="3.23" fill="#4a3cb0" opacity="0.39" transform="rotate(115.4 647.55 347.68)"/><ellipse cx="670.08" cy="331.19" rx="4.45" ry="4.22" fill="#4a3cb0" opacity="0.32" transform="rotate(134.14 670.08 331.19)"/><ellipse cx="687.9" cy="347.41" rx="4.38" ry="3.41" fill="#4a3cb0" opacity="0.25" transform="rotate(19.84 687.9 347.41)"/><ellipse cx="628.21" cy="363.02" rx="3.82" ry="2.7" fill="#4a3cb0" opacity="0.12" transform="rotate(82.9 628.21 363.02)"/><ellipse cx="652.73" cy="327.82" rx="2.54" ry="2.45" fill="#4a3cb0" opacity="0.19" transform="rotate(130.56 652.73 327.82)"/><ellipse cx="675.75" cy="321.79" rx="3.84" ry="3.03" fill="#4a3cb0" opacity="0.17" transform="rotate(172.13 675.75 321.79)"/><ellipse cx="624.92" cy="323.31" rx="2.94" ry="2.66" fill="#4a3cb0" opacity="0.4" transform="rotate(106.36 624.92 323.31)"/><ellipse cx="678.48" cy="334.6" rx="4.33" ry="3.42" fill="#4a3cb0" opacity="0.37" transform="rotate(42.48 678.48 334.6)"/><ellipse cx="652.13" cy="333.44" rx="4.08" ry="3.76" fill="#4a3cb0" opacity="0.33" transform="rotate(108.57 652.13 333.44)"/><ellipse cx="629.17" cy="353.1" rx="4.46" ry="4.08" fill="#4a3cb0" opacity="0.32" transform="rotate(42.02 629.17 353.1)"/><ellipse cx="616.91" cy="333.57" rx="3.69" ry="3.11" fill="#4a3cb0" opacity="0.35" transform="rotate(97.87 616.91 333.57)"/><ellipse cx="617.22" cy="325.04" rx="2.99" ry="2.39" fill="#4a3cb0" opacity="0.15" transform="rotate(60.63 617.22 325.04)"/><ellipse cx="679.06" cy="317.18" rx="2.98" ry="2.56" fill="#4a3cb0" opacity="0.13" transform="rotate(65.84 679.06 317.18)"/><ellipse cx="646.55" cy="313.13" rx="2.55" ry="2.5" fill="#4a3cb0" opacity="0.24" transform="rotate(117.47 646.55 313.13)"/><ellipse cx="655.02" cy="308.16" rx="3.37" ry="2.99" fill="#4a3cb0" opacity="0.23" transform="rotate(72.51 655.02 308.16)"/><ellipse cx="674.34" cy="322.14" rx="3.96" ry="2.94" fill="#4a3cb0" opacity="0.1" transform="rotate(143.45 674.34 322.14)"/><ellipse cx="678.68" cy="324.04" rx="2.9" ry="2.54" fill="#4a3cb0" opacity="0.44" transform="rotate(16.1 678.68 324.04)"/><ellipse cx="690.07" cy="341.36" rx="3.1" ry="2.51" fill="#4a3cb0" opacity="0.28" transform="rotate(103.96 690.07 341.36)"/><ellipse cx="641.76" cy="328.81" rx="3.96" ry="3.76" fill="#4a3cb0" opacity="0.21" transform="rotate(134.4 641.76 328.81)"/><ellipse cx="679.33" cy="351.08" rx="2.86" ry="2.44" fill="#4a3cb0" opacity="0.42" transform="rotate(32.02 679.33 351.08)"/><ellipse cx="674.39" cy="319.42" rx="4.28" ry="3.89" fill="#4a3cb0" opacity="0.11" transform="rotate(113.93 674.39 319.42)"/><ellipse cx="668.46" cy="359.67" rx="3.43" ry="2.84" fill="#4a3cb0" opacity="0.43" transform="rotate(131.01 668.46 359.67)"/><ellipse cx="670.08" cy="330.68" rx="4.14" ry="3.1" fill="#4a3cb0" opacity="0.35" transform="rotate(105.73 670.08 330.68)"/><ellipse cx="647.8" cy="343.32" rx="2.56" ry="2.1" fill="#4a3cb0" opacity="0.35" transform="rotate(132.69 647.8 343.32)"/><ellipse cx="646.11" cy="346.17" rx="4.06" ry="3.91" fill="#4a3cb0" opacity="0.29" transform="rotate(29.48 646.11 346.17)"/><ellipse cx="617.38" cy="330.63" rx="3.81" ry="2.74" fill="#4a3cb0" opacity="0.37" transform="rotate(107.7 617.38 330.63)"/><ellipse cx="636.37" cy="338.86" rx="2.7" ry="2.4" fill="#4a3cb0" opacity="0.16" transform="rotate(61.34 636.37 338.86)"/><ellipse cx="688.99" cy="337.44" rx="3.2" ry="2.74" fill="#4a3cb0" opacity="0.17" transform="rotate(91.99 688.99 337.44)"/><ellipse cx="649.72" cy="355" rx="3.87" ry="2.83" fill="#4a3cb0" opacity="0.39" transform="rotate(173.31 649.72 355)"/></g>
<g filter="url(#fb1)"><ellipse cx="664.62" cy="323.66" rx="3.83" ry="3.6" fill="#50b050" fill-opacity="0.35" stroke="#50b050" stroke-width="1.53" opacity="0.1" transform="rotate(3.01 664.62 323.66)"/><ellipse cx="617.98" cy="349.32" rx="3.82" ry="3.67" fill="#50b050" fill-opacity="0.35" stroke="#50b050" stroke-width="1.53" opacity="0.5" transform="rotate(104.67 617.98 349.32)"/><ellipse cx="638.73" cy="329.34" rx="4.55" ry="3.75" fill="#50b050" fill-opacity="0.35" stroke="#50b050" stroke-width="1.82" opacity="0.09" transform="rotate(83.94 638.73 329.34)"/><ellipse cx="649.76" cy="325.5" rx="3.45" ry="2.52" fill="#50b050" fill-opacity="0.35" stroke="#50b050" stroke-width="1.38" opacity="0.08" transform="rotate(107.6 649.76 325.5)"/><ellipse cx="669.94" cy="359.68" rx="3.63" ry="3.55" fill="#50b050" fill-opacity="0.35" stroke="#50b050" stroke-width="1.45" opacity="0.31" transform="rotate(62.98 669.94 359.68)"/><ellipse cx="659.74" cy="358.33" rx="4.37" ry="4.26" fill="#50b050" fill-opacity="0.35" stroke="#50b050" stroke-width="1.75" opacity="0.46" transform="rotate(179.34 659.74 358.33)"/><ellipse cx="622.63" cy="341.36" rx="3.1" ry="2.3" fill="#50b050" fill-opacity="0.35" stroke="#50b050" stroke-width="1.24" opacity="0.22" transform="rotate(28.85 622.63 341.36)"/><ellipse cx="656.49" cy="315.07" rx="3.39" ry="3.2" fill="#50b050" fill-opacity="0.35" stroke="#50b050" stroke-width="1.35" opacity="0.02" transform="rotate(43.87 656.49 315.07)"/><ellipse cx="614.49" cy="347.26" rx="4.79" ry="4.14" fill="#50b050" fill-opacity="0.35" stroke="#50b050" stroke-width="1.92" opacity="0.47" transform="rotate(96.23 614.49 347.26)"/><ellipse cx="663.69" cy="328.62" rx="5.11" ry="4.89" fill="#50b050" fill-opacity="0.35" stroke="#50b050" stroke-width="2.04" opacity="0.09" transform="rotate(160.3 663.69 328.62)"/><ellipse cx="672.81" cy="341.15" rx="4.31" ry="3.76" fill="#50b050" fill-opacity="0.35" stroke="#50b050" stroke-width="1.72" opacity="0.12" transform="rotate(5.03 672.81 341.15)"/><ellipse cx="645.82" cy="337.14" rx="3.23" ry="2.84" fill="#50b050" fill-opacity="0.35" stroke="#50b050" stroke-width="1.29" opacity="0.15" transform="rotate(146.36 645.82 337.14)"/><ellipse cx="655.52" cy="328.39" rx="4.41" ry="3.93" fill="#50b050" fill-opacity="0.35" stroke="#50b050" stroke-width="1.76" opacity="0.12" transform="rotate(151.88 655.52 328.39)"/><ellipse cx="625.05" cy="319.77" rx="3.83" ry="2.78" fill="#50b050" fill-opacity="0.35" stroke="#50b050" stroke-width="1.53" opacity="0.04" transform="rotate(37.99 625.05 319.77)"/><ellipse cx="626.51" cy="324.97" rx="5" ry="3.8" fill="#50b050" fill-opacity="0.35" stroke="#50b050" stroke-width="2" opacity="0.02" transform="rotate(9.84 626.51 324.97)"/><ellipse cx="647.47" cy="323.75" rx="4.33" ry="3.28" fill="#50b050" fill-opacity="0.35" stroke="#50b050" stroke-width="1.73" opacity="0.04" transform="rotate(87.83 647.47 323.75)"/><ellipse cx="651.76" cy="333.72" rx="4.37" ry="3.71" fill="#50b050" fill-opacity="0.35" stroke="#50b050" stroke-width="1.75" opacity="0.12" transform="rotate(70.95 651.76 333.72)"/><ellipse cx="625.48" cy="332.82" rx="4.93" ry="3.86" fill="#50b050" fill-opacity="0.35" stroke="#50b050" stroke-width="1.97" opacity="0.17" transform="rotate(161.73 625.48 332.82)"/><ellipse cx="619.13" cy="331.35" rx="4.94" ry="4.14" fill="#50b050" fill-opacity="0.35" stroke="#50b050" stroke-width="1.98" opacity="0.24" transform="rotate(2 619.13 331.35)"/><ellipse cx="651.62" cy="335.62" rx="3.07" ry="2.96" fill="#50b050" fill-opacity="0.35" stroke="#50b050" stroke-width="1.23" opacity="0.07" transform="rotate(6.74 651.62 335.62)"/><ellipse cx="622.53" cy="320.03" rx="4.99" ry="4.52" fill="#50b050" fill-opacity="0.35" stroke="#50b050" stroke-width="2" opacity="0.05" transform="rotate(121.53 622.53 320.03)"/><ellipse cx="609.92" cy="336.28" rx="3.3" ry="2.79" fill="#50b050" fill-opacity="0.35" stroke="#50b050" stroke-width="1.32" opacity="0.37" transform="rotate(66.33 609.92 336.28)"/><ellipse cx="670.74" cy="359.34" rx="3.17" ry="2.53" fill="#50b050" fill-opacity="0.35" stroke="#50b050" stroke-width="1.27" opacity="0.13" transform="rotate(56.32 670.74 359.34)"/><ellipse cx="642.5" cy="335.65" rx="5.43" ry="5.37" fill="#50b050" fill-opacity="0.35" stroke="#50b050" stroke-width="2.17" opacity="0.15" transform="rotate(111.29 642.5 335.65)"/><ellipse cx="626.76" cy="344.06" rx="3.4" ry="2.53" fill="#50b050" fill-opacity="0.35" stroke="#50b050" stroke-width="1.36" opacity="0.34" transform="rotate(167.55 626.76 344.06)"/><ellipse cx="632.05" cy="363.66" rx="3.55" ry="2.75" fill="#50b050" fill-opacity="0.35" stroke="#50b050" stroke-width="1.42" opacity="0.3" transform="rotate(148.25 632.05 363.66)"/><ellipse cx="671.92" cy="354.71" rx="4.44" ry="3.42" fill="#50b050" fill-opacity="0.35" stroke="#50b050" stroke-width="1.77" opacity="0.12" transform="rotate(5.86 671.92 354.71)"/><ellipse cx="630.64" cy="346.19" rx="3.46" ry="3.35" fill="#50b050" fill-opacity="0.35" stroke="#50b050" stroke-width="1.38" opacity="0.1" transform="rotate(51.67 630.64 346.19)"/><ellipse cx="684.18" cy="342.71" rx="3.09" ry="2.73" fill="#50b050" fill-opacity="0.35" stroke="#50b050" stroke-width="1.24" opacity="0.06" transform="rotate(44.05 684.18 342.71)"/><ellipse cx="640.7" cy="354.49" rx="4.64" ry="4.57" fill="#50b050" fill-opacity="0.35" stroke="#50b050" stroke-width="1.86" opacity="0.6" transform="rotate(93.4 640.7 354.49)"/><ellipse cx="648.33" cy="350.53" rx="5.32" ry="4.42" fill="#50b050" fill-opacity="0.35" stroke="#50b050" stroke-width="2.13" opacity="0.3" transform="rotate(160.5 648.33 350.53)"/><ellipse cx="644.74" cy="313.47" rx="4.13" ry="3.7" fill="#50b050" fill-opacity="0.35" stroke="#50b050" stroke-width="1.65" opacity="0.05" transform="rotate(146.94 644.74 313.47)"/><ellipse cx="612.58" cy="329" rx="5.25" ry="4.91" fill="#50b050" fill-opacity="0.35" stroke="#50b050" stroke-width="2.1" opacity="0.21" transform="rotate(70.03 612.58 329)"/><ellipse cx="671.23" cy="342.62" rx="4.6" ry="3.27" fill="#50b050" fill-opacity="0.35" stroke="#50b050" stroke-width="1.84" opacity="0.05" transform="rotate(2.67 671.23 342.62)"/><ellipse cx="613.11" cy="340.59" rx="5.36" ry="5.02" fill="#50b050" fill-opacity="0.35" stroke="#50b050" stroke-width="2.14" opacity="0.34" transform="rotate(135.81 613.11 340.59)"/><ellipse cx="680.78" cy="326.59" rx="4.24" ry="3.39" fill="#50b050" fill-opacity="0.35" stroke="#50b050" stroke-width="1.7" opacity="0.12" transform="rotate(125.63 680.78 326.59)"/><ellipse cx="640.35" cy="319.19" rx="3.51" ry="2.49" fill="#50b050" fill-opacity="0.35" stroke="#50b050" stroke-width="1.4" opacity="0.06" transform="rotate(158.74 640.35 319.19)"/><ellipse cx="636" cy="324.45" rx="5" ry="4.64" fill="#50b050" fill-opacity="0.35" stroke="#50b050" stroke-width="2" opacity="0.02" transform="rotate(81.01 636 324.45)"/><ellipse cx="615.84" cy="333.86" rx="5.47" ry="4.29" fill="#50b050" fill-opacity="0.35" stroke="#50b050" stroke-width="2.19" opacity="0.05" transform="rotate(32.07 615.84 333.86)"/><ellipse cx="653.97" cy="321.94" rx="5.12" ry="5.04" fill="#50b050" fill-opacity="0.35" stroke="#50b050" stroke-width="2.05" opacity="0.06" transform="rotate(21.86 653.97 321.94)"/><ellipse cx="653.66" cy="343.03" rx="4.82" ry="4.24" fill="#50b050" fill-opacity="0.35" stroke="#50b050" stroke-width="1.93" opacity="0.11" transform="rotate(177.2 653.66 343.03)"/><ellipse cx="633.42" cy="324.11" rx="3.46" ry="3.09" fill="#50b050" fill-opacity="0.35" stroke="#50b050" stroke-width="1.39" opacity="0.12" transform="rotate(88.93 633.42 324.11)"/><ellipse cx="646.67" cy="314.78" rx="3.56" ry="2.76" fill="#50b050" fill-opacity="0.35" stroke="#50b050" stroke-width="1.43" opacity="0.09" transform="rotate(92.48 646.67 314.78)"/><ellipse cx="644.89" cy="355.75" rx="4.86" ry="4.73" fill="#50b050" fill-opacity="0.35" stroke="#50b050" stroke-width="1.94" opacity="0.6" transform="rotate(103.94 644.89 355.75)"/><ellipse cx="626.16" cy="340.57" rx="5.32" ry="4.19" fill="#50b050" fill-opacity="0.35" stroke="#50b050" stroke-width="2.13" opacity="0.13" transform="rotate(35.52 626.16 340.57)"/><ellipse cx="620.52" cy="346.54" rx="4.82" ry="4.46" fill="#50b050" fill-opacity="0.35" stroke="#50b050" stroke-width="1.93" opacity="0.31" transform="rotate(127.23 620.52 346.54)"/><ellipse cx="638.66" cy="314.39" rx="4.73" ry="4.67" fill="#50b050" fill-opacity="0.35" stroke="#50b050" stroke-width="1.89" opacity="0.08" transform="rotate(126.26 638.66 314.39)"/><ellipse cx="632.39" cy="353.56" rx="3.77" ry="2.85" fill="#50b050" fill-opacity="0.35" stroke="#50b050" stroke-width="1.51" opacity="0.24" transform="rotate(48.83 632.39 353.56)"/><ellipse cx="646.79" cy="352.54" rx="5.12" ry="4.43" fill="#50b050" fill-opacity="0.35" stroke="#50b050" stroke-width="2.05" opacity="0.13" transform="rotate(175.1 646.79 352.54)"/><ellipse cx="639.08" cy="317.47" rx="4.63" ry="3.3" fill="#50b050" fill-opacity="0.35" stroke="#50b050" stroke-width="1.85" opacity="0.11" transform="rotate(15.26 639.08 317.47)"/><ellipse cx="632.29" cy="331.87" rx="3.29" ry="2.72" fill="#50b050" fill-opacity="0.35" stroke="#50b050" stroke-width="1.32" opacity="0.04" transform="rotate(172.02 632.29 331.87)"/><ellipse cx="652.04" cy="326.61" rx="5.4" ry="4.01" fill="#50b050" fill-opacity="0.35" stroke="#50b050" stroke-width="2.16" opacity="0.05" transform="rotate(22.31 652.04 326.61)"/><ellipse cx="649.46" cy="368.84" rx="4.35" ry="3.53" fill="#50b050" fill-opacity="0.35" stroke="#50b050" stroke-width="1.74" opacity="0.18" transform="rotate(62.03 649.46 368.84)"/><ellipse cx="661.44" cy="362.28" rx="5.34" ry="4.72" fill="#50b050" fill-opacity="0.35" stroke="#50b050" stroke-width="2.13" opacity="0.25" transform="rotate(45.75 661.44 362.28)"/><ellipse cx="654.6" cy="356.2" rx="4.43" ry="4.13" fill="#50b050" fill-opacity="0.35" stroke="#50b050" stroke-width="1.77" opacity="0.39" transform="rotate(10.63 654.6 356.2)"/></g>
</g>
<g clip-path="url(#cd10)">
<ellipse cx="388" cy="436" rx="38" ry="36" fill="#1c1640" opacity="0.5" filter="url(#fb6)"/>
<g filter="url(#fb1)"><ellipse cx="415.98" cy="425.14" rx="3.78" ry="3" fill="#4c40b8" opacity="0.48" transform="rotate(138.3 415.98 425.14)"/><ellipse cx="375.77" cy="411.79" rx="2.9" ry="2.16" fill="#4c40b8" opacity="0.4" transform="rotate(118.67 375.77 411.79)"/><ellipse cx="376.99" cy="412.17" rx="3.06" ry="2.56" fill="#4c40b8" opacity="0.24" transform="rotate(158.6 376.99 412.17)"/><ellipse cx="389.91" cy="418.06" rx="4.06" ry="3.6" fill="#4c40b8" opacity="0.5" transform="rotate(20.96 389.91 418.06)"/><ellipse cx="411.91" cy="455.1" rx="3.96" ry="3.93" fill="#4c40b8" opacity="0.49" transform="rotate(132.51 411.91 455.1)"/><ellipse cx="380.04" cy="438.32" rx="3.21" ry="2.85" fill="#4c40b8" opacity="0.4" transform="rotate(148.7 380.04 438.32)"/><ellipse cx="389.15" cy="442.48" rx="4.13" ry="4.04" fill="#4c40b8" opacity="0.41" transform="rotate(125.78 389.15 442.48)"/><ellipse cx="360.19" cy="430.16" rx="2.78" ry="2.05" fill="#4c40b8" opacity="0.19" transform="rotate(19.88 360.19 430.16)"/><ellipse cx="386.6" cy="456.37" rx="3.93" ry="3.44" fill="#4c40b8" opacity="0.49" transform="rotate(2.59 386.6 456.37)"/><ellipse cx="415.24" cy="423.03" rx="3.65" ry="3.19" fill="#4c40b8" opacity="0.27" transform="rotate(153.3 415.24 423.03)"/><ellipse cx="399.63" cy="405.39" rx="3.47" ry="3.45" fill="#4c40b8" opacity="0.23" transform="rotate(48.19 399.63 405.39)"/><ellipse cx="368.9" cy="466.42" rx="3.03" ry="2.84" fill="#4c40b8" opacity="0.11" transform="rotate(165.44 368.9 466.42)"/><ellipse cx="387.42" cy="412.04" rx="3.93" ry="3.04" fill="#4c40b8" opacity="0.22" transform="rotate(7.85 387.42 412.04)"/><ellipse cx="416.2" cy="416.94" rx="2.44" ry="2.22" fill="#4c40b8" opacity="0.23" transform="rotate(179.46 416.2 416.94)"/><ellipse cx="366.63" cy="444.46" rx="2.74" ry="2.32" fill="#4c40b8" opacity="0.44" transform="rotate(123.06 366.63 444.46)"/><ellipse cx="413" cy="438.51" rx="3.14" ry="2.36" fill="#4c40b8" opacity="0.08" transform="rotate(124.62 413 438.51)"/><ellipse cx="407.3" cy="441.6" rx="2.3" ry="2.19" fill="#4c40b8" opacity="0.39" transform="rotate(154.09 407.3 441.6)"/><ellipse cx="406.54" cy="447.73" rx="2.9" ry="2.19" fill="#4c40b8" opacity="0.23" transform="rotate(115.82 406.54 447.73)"/><ellipse cx="376.09" cy="458.28" rx="2.66" ry="1.93" fill="#4c40b8" opacity="0.19" transform="rotate(50.4 376.09 458.28)"/><ellipse cx="408.56" cy="459.4" rx="4.03" ry="3.65" fill="#4c40b8" opacity="0.09" transform="rotate(101.25 408.56 459.4)"/><ellipse cx="376.87" cy="467.69" rx="3.56" ry="3.38" fill="#4c40b8" opacity="0.21" transform="rotate(79.66 376.87 467.69)"/><ellipse cx="385.82" cy="434.34" rx="3.15" ry="2.98" fill="#4c40b8" opacity="0.09" transform="rotate(54.39 385.82 434.34)"/><ellipse cx="384.3" cy="412.69" rx="3.34" ry="2.37" fill="#4c40b8" opacity="0.11" transform="rotate(37.88 384.3 412.69)"/><ellipse cx="416.03" cy="449.15" rx="3.64" ry="3.04" fill="#4c40b8" opacity="0.12" transform="rotate(132.49 416.03 449.15)"/><ellipse cx="406.11" cy="432.38" rx="2.35" ry="2.32" fill="#4c40b8" opacity="0.24" transform="rotate(160.26 406.11 432.38)"/><ellipse cx="396.43" cy="425.39" rx="3.4" ry="2.85" fill="#4c40b8" opacity="0.32" transform="rotate(153.48 396.43 425.39)"/><ellipse cx="392.7" cy="406.95" rx="3.66" ry="2.68" fill="#4c40b8" opacity="0.37" transform="rotate(94.41 392.7 406.95)"/><ellipse cx="400.87" cy="434.42" rx="3.05" ry="2.39" fill="#4c40b8" opacity="0.49" transform="rotate(83.52 400.87 434.42)"/><ellipse cx="358.01" cy="437" rx="3.53" ry="3.5" fill="#4c40b8" opacity="0.37" transform="rotate(47.27 358.01 437)"/><ellipse cx="366.41" cy="425.81" rx="2.87" ry="2.19" fill="#4c40b8" opacity="0.46" transform="rotate(84.94 366.41 425.81)"/><ellipse cx="384.94" cy="430.15" rx="2.85" ry="2.71" fill="#4c40b8" opacity="0.21" transform="rotate(2.65 384.94 430.15)"/><ellipse cx="404.57" cy="430.56" rx="3.16" ry="2.46" fill="#4c40b8" opacity="0.28" transform="rotate(78.06 404.57 430.56)"/><ellipse cx="377.37" cy="442.58" rx="2.87" ry="2.05" fill="#4c40b8" opacity="0.33" transform="rotate(178.04 377.37 442.58)"/><ellipse cx="351.97" cy="433.98" rx="2.95" ry="2.93" fill="#4c40b8" opacity="0.13" transform="rotate(80.81 351.97 433.98)"/><ellipse cx="364.74" cy="423.61" rx="2.58" ry="2.58" fill="#4c40b8" opacity="0.31" transform="rotate(173.53 364.74 423.61)"/><ellipse cx="368.02" cy="451.11" rx="3.33" ry="2.49" fill="#4c40b8" opacity="0.4" transform="rotate(8.15 368.02 451.11)"/><ellipse cx="385.23" cy="404.37" rx="2.55" ry="1.92" fill="#4c40b8" opacity="0.48" transform="rotate(137.13 385.23 404.37)"/><ellipse cx="413.45" cy="432.81" rx="3.09" ry="2.46" fill="#4c40b8" opacity="0.17" transform="rotate(96.12 413.45 432.81)"/><ellipse cx="393.23" cy="438.39" rx="2.93" ry="2.45" fill="#4c40b8" opacity="0.45" transform="rotate(68.42 393.23 438.39)"/><ellipse cx="386.23" cy="460.65" rx="3.41" ry="3.23" fill="#4c40b8" opacity="0.39" transform="rotate(63.97 386.23 460.65)"/><ellipse cx="404.43" cy="406.92" rx="3.17" ry="2.59" fill="#4c40b8" opacity="0.27" transform="rotate(29.94 404.43 406.92)"/><ellipse cx="410.38" cy="424.67" rx="2.99" ry="2.87" fill="#4c40b8" opacity="0.13" transform="rotate(155.98 410.38 424.67)"/><ellipse cx="364.47" cy="427.99" rx="2.77" ry="2.63" fill="#4c40b8" opacity="0.16" transform="rotate(110.73 364.47 427.99)"/><ellipse cx="418.29" cy="449.6" rx="2.87" ry="2.1" fill="#4c40b8" opacity="0.41" transform="rotate(105.97 418.29 449.6)"/><ellipse cx="389.11" cy="405.64" rx="2.77" ry="2.05" fill="#4c40b8" opacity="0.3" transform="rotate(14.66 389.11 405.64)"/><ellipse cx="396.54" cy="470.26" rx="3.37" ry="2.85" fill="#4c40b8" opacity="0.5" transform="rotate(18.54 396.54 470.26)"/><ellipse cx="363.2" cy="432.79" rx="3.95" ry="3.92" fill="#4c40b8" opacity="0.42" transform="rotate(106.14 363.2 432.79)"/><ellipse cx="406.87" cy="439.6" rx="2.53" ry="1.98" fill="#4c40b8" opacity="0.31" transform="rotate(146.24 406.87 439.6)"/><ellipse cx="411.58" cy="415.96" rx="2.46" ry="1.74" fill="#4c40b8" opacity="0.2" transform="rotate(34.73 411.58 415.96)"/><ellipse cx="383.11" cy="463.63" rx="2.58" ry="2.25" fill="#4c40b8" opacity="0.5" transform="rotate(110.27 383.11 463.63)"/><ellipse cx="391.05" cy="445.28" rx="3.61" ry="3.53" fill="#4c40b8" opacity="0.41" transform="rotate(4.59 391.05 445.28)"/><ellipse cx="401.37" cy="406.41" rx="3.89" ry="2.74" fill="#4c40b8" opacity="0.3" transform="rotate(71.7 401.37 406.41)"/><ellipse cx="419.24" cy="437" rx="3.57" ry="3.03" fill="#4c40b8" opacity="0.37" transform="rotate(138.44 419.24 437)"/><ellipse cx="363.11" cy="416.61" rx="3.43" ry="3.41" fill="#4c40b8" opacity="0.39" transform="rotate(11.85 363.11 416.61)"/><ellipse cx="378.15" cy="450.47" rx="4.18" ry="3.42" fill="#4c40b8" opacity="0.17" transform="rotate(162.08 378.15 450.47)"/><ellipse cx="413.68" cy="429.87" rx="2.73" ry="2.08" fill="#4c40b8" opacity="0.42" transform="rotate(66.3 413.68 429.87)"/><ellipse cx="384.21" cy="436.28" rx="3.74" ry="2.87" fill="#4c40b8" opacity="0.34" transform="rotate(71.34 384.21 436.28)"/><ellipse cx="369.01" cy="409.71" rx="2.52" ry="2.37" fill="#4c40b8" opacity="0.48" transform="rotate(152.66 369.01 409.71)"/><ellipse cx="404.23" cy="419.1" rx="3.69" ry="3.45" fill="#4c40b8" opacity="0.31" transform="rotate(104.37 404.23 419.1)"/><ellipse cx="398.39" cy="409.1" rx="3.93" ry="3.42" fill="#4c40b8" opacity="0.38" transform="rotate(46.52 398.39 409.1)"/><ellipse cx="400.1" cy="429.77" rx="2.64" ry="2.4" fill="#4c40b8" opacity="0.4" transform="rotate(144.91 400.1 429.77)"/><ellipse cx="395.28" cy="405.66" rx="3.52" ry="2.91" fill="#4c40b8" opacity="0.43" transform="rotate(3.71 395.28 405.66)"/><ellipse cx="403.75" cy="428.16" rx="2.58" ry="2.12" fill="#4c40b8" opacity="0.4" transform="rotate(91.13 403.75 428.16)"/><ellipse cx="395.41" cy="432.6" rx="3.56" ry="2.73" fill="#4c40b8" opacity="0.2" transform="rotate(83.76 395.41 432.6)"/><ellipse cx="410.78" cy="423.52" rx="2.58" ry="2.08" fill="#4c40b8" opacity="0.19" transform="rotate(25.66 410.78 423.52)"/><ellipse cx="385.72" cy="441.62" rx="4.19" ry="3.27" fill="#4c40b8" opacity="0.12" transform="rotate(28.49 385.72 441.62)"/><ellipse cx="378.83" cy="461.68" rx="2.52" ry="2.09" fill="#4c40b8" opacity="0.3" transform="rotate(151.54 378.83 461.68)"/><ellipse cx="408.79" cy="407.93" rx="2.42" ry="1.83" fill="#4c40b8" opacity="0.49" transform="rotate(11.79 408.79 407.93)"/><ellipse cx="396.42" cy="442.55" rx="2.54" ry="2.09" fill="#4c40b8" opacity="0.26" transform="rotate(82.74 396.42 442.55)"/><ellipse cx="377.61" cy="409.51" rx="3.51" ry="3.36" fill="#4c40b8" opacity="0.22" transform="rotate(177.14 377.61 409.51)"/><ellipse cx="405.7" cy="421.27" rx="3.36" ry="3.22" fill="#4c40b8" opacity="0.2" transform="rotate(60.6 405.7 421.27)"/><ellipse cx="398.7" cy="418.48" rx="3.92" ry="3.86" fill="#4c40b8" opacity="0.17" transform="rotate(29.87 398.7 418.48)"/><ellipse cx="381.3" cy="450.31" rx="3" ry="2.25" fill="#4c40b8" opacity="0.41" transform="rotate(178.47 381.3 450.31)"/><ellipse cx="389.18" cy="464.09" rx="2.54" ry="2.16" fill="#4c40b8" opacity="0.25" transform="rotate(169.91 389.18 464.09)"/><ellipse cx="380.29" cy="425.03" rx="2.35" ry="2.19" fill="#4c40b8" opacity="0.14" transform="rotate(19.41 380.29 425.03)"/><ellipse cx="412.13" cy="430.54" rx="2.58" ry="1.9" fill="#4c40b8" opacity="0.21" transform="rotate(114.28 412.13 430.54)"/><ellipse cx="370.32" cy="443.97" rx="3.1" ry="2.26" fill="#4c40b8" opacity="0.34" transform="rotate(132.52 370.32 443.97)"/><ellipse cx="365.41" cy="430.5" rx="4.1" ry="3.54" fill="#4c40b8" opacity="0.49" transform="rotate(83.49 365.41 430.5)"/><ellipse cx="389.99" cy="446.9" rx="4.13" ry="2.9" fill="#4c40b8" opacity="0.2" transform="rotate(100.99 389.99 446.9)"/><ellipse cx="376.27" cy="436.02" rx="3.18" ry="2.56" fill="#4c40b8" opacity="0.13" transform="rotate(159.9 376.27 436.02)"/></g>
</g>
<g clip-path="url(#cd11)">
<ellipse cx="521" cy="438" rx="41" ry="37" fill="#3a100c" opacity="0.6" filter="url(#fb6)"/>
<g filter="url(#fb15)"><ellipse cx="537.85" cy="467.68" rx="3.56" ry="3.37" fill="#c8342c" opacity="0.67" transform="rotate(10.2 537.85 467.68)"/><ellipse cx="545.51" cy="460.53" rx="4.16" ry="3.36" fill="#c8342c" opacity="0.68" transform="rotate(81.16 545.51 460.53)"/><ellipse cx="533.3" cy="452.08" rx="6.11" ry="5.17" fill="#c8342c" opacity="0.3" transform="rotate(24.74 533.3 452.08)"/><ellipse cx="502.98" cy="437.31" rx="3.76" ry="3.55" fill="#c8342c" opacity="0.34" transform="rotate(32.19 502.98 437.31)"/><ellipse cx="515.68" cy="403.77" rx="6.08" ry="4.59" fill="#c8342c" opacity="0.21" transform="rotate(134.16 515.68 403.77)"/><ellipse cx="516.38" cy="441.93" rx="5.63" ry="4.66" fill="#c8342c" opacity="0.42" transform="rotate(27.62 516.38 441.93)"/><ellipse cx="492.37" cy="416.08" rx="4.36" ry="4.22" fill="#c8342c" opacity="0.33" transform="rotate(38.43 492.37 416.08)"/><ellipse cx="491.49" cy="420.89" rx="3.96" ry="3.91" fill="#c8342c" opacity="0.61" transform="rotate(137.84 491.49 420.89)"/><ellipse cx="557.28" cy="441.69" rx="5.09" ry="4.56" fill="#c8342c" opacity="0.36" transform="rotate(43.1 557.28 441.69)"/><ellipse cx="522.88" cy="429.83" rx="5.84" ry="5.24" fill="#c8342c" opacity="0.63" transform="rotate(25.04 522.88 429.83)"/><ellipse cx="528.48" cy="455.12" rx="5.38" ry="3.92" fill="#c8342c" opacity="0.19" transform="rotate(97 528.48 455.12)"/><ellipse cx="538.4" cy="437.62" rx="6.05" ry="5.73" fill="#c8342c" opacity="0.45" transform="rotate(38.86 538.4 437.62)"/><ellipse cx="547.52" cy="456.38" rx="3.9" ry="3.07" fill="#c8342c" opacity="0.27" transform="rotate(141.49 547.52 456.38)"/><ellipse cx="532.07" cy="406.03" rx="6.07" ry="5.83" fill="#c8342c" opacity="0.32" transform="rotate(49.99 532.07 406.03)"/><ellipse cx="489.15" cy="425.52" rx="5.12" ry="4.41" fill="#c8342c" opacity="0.39" transform="rotate(19.4 489.15 425.52)"/><ellipse cx="559.96" cy="437.06" rx="4.5" ry="3.97" fill="#c8342c" opacity="0.24" transform="rotate(0.89 559.96 437.06)"/><ellipse cx="493.63" cy="450.43" rx="5.35" ry="5.1" fill="#c8342c" opacity="0.54" transform="rotate(58.39 493.63 450.43)"/><ellipse cx="542.05" cy="460.59" rx="6.39" ry="5.94" fill="#c8342c" opacity="0.44" transform="rotate(6.13 542.05 460.59)"/><ellipse cx="496.31" cy="443.67" rx="5.44" ry="4.49" fill="#c8342c" opacity="0.49" transform="rotate(8.96 496.31 443.67)"/><ellipse cx="506.61" cy="415.78" rx="5.83" ry="5.41" fill="#c8342c" opacity="0.28" transform="rotate(96.5 506.61 415.78)"/><ellipse cx="512.16" cy="446.44" rx="6.61" ry="4.74" fill="#c8342c" opacity="0.33" transform="rotate(154.87 512.16 446.44)"/><ellipse cx="504.18" cy="467" rx="5.17" ry="4.92" fill="#c8342c" opacity="0.37" transform="rotate(20.53 504.18 467)"/><ellipse cx="550.2" cy="421.53" rx="6.22" ry="5.91" fill="#c8342c" opacity="0.68" transform="rotate(60.7 550.2 421.53)"/><ellipse cx="558.43" cy="440.06" rx="4.54" ry="3.29" fill="#c8342c" opacity="0.35" transform="rotate(113.47 558.43 440.06)"/><ellipse cx="516.57" cy="442.63" rx="6.6" ry="4.67" fill="#c8342c" opacity="0.4" transform="rotate(107.89 516.57 442.63)"/><ellipse cx="487.96" cy="445.23" rx="5.4" ry="4.85" fill="#c8342c" opacity="0.4" transform="rotate(15.9 487.96 445.23)"/><ellipse cx="509.7" cy="416.29" rx="4.25" ry="3.26" fill="#c8342c" opacity="0.22" transform="rotate(153.83 509.7 416.29)"/><ellipse cx="559.22" cy="446.58" rx="6.22" ry="4.98" fill="#c8342c" opacity="0.16" transform="rotate(129.77 559.22 446.58)"/><ellipse cx="488.17" cy="430.85" rx="6.7" ry="5.02" fill="#c8342c" opacity="0.34" transform="rotate(104.95 488.17 430.85)"/><ellipse cx="530.96" cy="458.06" rx="4.28" ry="3.24" fill="#c8342c" opacity="0.43" transform="rotate(168.83 530.96 458.06)"/><ellipse cx="491.89" cy="414.21" rx="6.36" ry="6.07" fill="#c8342c" opacity="0.41" transform="rotate(116.06 491.89 414.21)"/><ellipse cx="539.16" cy="421.24" rx="4.91" ry="3.51" fill="#c8342c" opacity="0.49" transform="rotate(17.91 539.16 421.24)"/><ellipse cx="520.13" cy="402.4" rx="4.71" ry="3.43" fill="#c8342c" opacity="0.36" transform="rotate(15.11 520.13 402.4)"/><ellipse cx="542.04" cy="451.71" rx="5.22" ry="5.08" fill="#c8342c" opacity="0.4" transform="rotate(84.37 542.04 451.71)"/><ellipse cx="495.14" cy="438.48" rx="5.21" ry="4.19" fill="#c8342c" opacity="0.45" transform="rotate(90.54 495.14 438.48)"/><ellipse cx="484.24" cy="450.74" rx="6.61" ry="6.29" fill="#c8342c" opacity="0.55" transform="rotate(176.19 484.24 450.74)"/><ellipse cx="520.43" cy="432.3" rx="6.1" ry="4.83" fill="#c8342c" opacity="0.27" transform="rotate(107.39 520.43 432.3)"/><ellipse cx="555.5" cy="438.89" rx="5.67" ry="4.75" fill="#c8342c" opacity="0.34" transform="rotate(17.11 555.5 438.89)"/><ellipse cx="508.98" cy="415.06" rx="4.91" ry="4.7" fill="#c8342c" opacity="0.51" transform="rotate(14.57 508.98 415.06)"/><ellipse cx="491.76" cy="446.99" rx="6.78" ry="5.8" fill="#c8342c" opacity="0.46" transform="rotate(155.13 491.76 446.99)"/><ellipse cx="521.39" cy="444.53" rx="3.93" ry="3.47" fill="#c8342c" opacity="0.53" transform="rotate(149.86 521.39 444.53)"/><ellipse cx="507.56" cy="405.96" rx="4.29" ry="3.43" fill="#c8342c" opacity="0.28" transform="rotate(116.82 507.56 405.96)"/><ellipse cx="500.4" cy="469.38" rx="4.3" ry="3.32" fill="#c8342c" opacity="0.45" transform="rotate(129.15 500.4 469.38)"/><ellipse cx="530" cy="455.05" rx="4.91" ry="3.91" fill="#c8342c" opacity="0.24" transform="rotate(153.95 530 455.05)"/><ellipse cx="521.13" cy="413.96" rx="3.77" ry="3.58" fill="#c8342c" opacity="0.44" transform="rotate(121.87 521.13 413.96)"/><ellipse cx="516.27" cy="423.21" rx="4.31" ry="4.13" fill="#c8342c" opacity="0.67" transform="rotate(63.2 516.27 423.21)"/><ellipse cx="547.52" cy="435.01" rx="5.01" ry="4.7" fill="#c8342c" opacity="0.69" transform="rotate(125.17 547.52 435.01)"/><ellipse cx="533.68" cy="448.76" rx="6.37" ry="5.13" fill="#c8342c" opacity="0.53" transform="rotate(107.38 533.68 448.76)"/><ellipse cx="514.72" cy="416.03" rx="3.8" ry="3.14" fill="#c8342c" opacity="0.65" transform="rotate(93 514.72 416.03)"/><ellipse cx="493.71" cy="441.29" rx="6.63" ry="5.95" fill="#c8342c" opacity="0.54" transform="rotate(102.32 493.71 441.29)"/><ellipse cx="489.27" cy="445.89" rx="6.43" ry="5.92" fill="#c8342c" opacity="0.67" transform="rotate(130.73 489.27 445.89)"/><ellipse cx="542.53" cy="420.33" rx="5.77" ry="4.15" fill="#c8342c" opacity="0.64" transform="rotate(141.38 542.53 420.33)"/><ellipse cx="507.1" cy="442.1" rx="4.96" ry="4.5" fill="#c8342c" opacity="0.6" transform="rotate(163.49 507.1 442.1)"/><ellipse cx="537.84" cy="460.77" rx="6.27" ry="5.39" fill="#c8342c" opacity="0.42" transform="rotate(97.92 537.84 460.77)"/><ellipse cx="505.37" cy="431.43" rx="3.72" ry="2.94" fill="#c8342c" opacity="0.54" transform="rotate(88.06 505.37 431.43)"/></g>
</g>
<g clip-path="url(#cd12)">
<ellipse cx="654" cy="437" rx="41" ry="37" fill="#30102a" opacity="0.6" filter="url(#fb6)"/>
<g filter="url(#fb15)"><ellipse cx="633.72" cy="443.02" rx="6.9" ry="5.83" fill="#c8342c" opacity="0.51" transform="rotate(55.62 633.72 443.02)"/><ellipse cx="674.35" cy="418.51" rx="5.58" ry="5.42" fill="#c8342c" opacity="0.54" transform="rotate(50.46 674.35 418.51)"/><ellipse cx="639.08" cy="413.86" rx="5.56" ry="5.12" fill="#c8342c" opacity="0.66" transform="rotate(25.12 639.08 413.86)"/><ellipse cx="643.77" cy="405.66" rx="4.06" ry="3.03" fill="#c8342c" opacity="0.42" transform="rotate(48.7 643.77 405.66)"/><ellipse cx="633.45" cy="431.26" rx="6.5" ry="5.74" fill="#c8342c" opacity="0.28" transform="rotate(72.01 633.45 431.26)"/><ellipse cx="637.32" cy="422.09" rx="6.23" ry="5.73" fill="#c8342c" opacity="0.61" transform="rotate(160 637.32 422.09)"/><ellipse cx="672.27" cy="422.1" rx="4.32" ry="3.81" fill="#c8342c" opacity="0.46" transform="rotate(141.26 672.27 422.1)"/><ellipse cx="668.6" cy="459.15" rx="5.24" ry="5.04" fill="#c8342c" opacity="0.59" transform="rotate(92.21 668.6 459.15)"/><ellipse cx="641.43" cy="428.2" rx="5.64" ry="4.79" fill="#c8342c" opacity="0.46" transform="rotate(70.07 641.43 428.2)"/><ellipse cx="673.06" cy="450.67" rx="6.78" ry="4.77" fill="#c8342c" opacity="0.68" transform="rotate(72.08 673.06 450.67)"/><ellipse cx="673.44" cy="439.67" rx="5.66" ry="4.62" fill="#c8342c" opacity="0.29" transform="rotate(154.96 673.44 439.67)"/><ellipse cx="667.62" cy="465.01" rx="6.71" ry="6.44" fill="#c8342c" opacity="0.66" transform="rotate(164.83 667.62 465.01)"/><ellipse cx="647.1" cy="430.18" rx="5.06" ry="5.03" fill="#c8342c" opacity="0.57" transform="rotate(120.91 647.1 430.18)"/><ellipse cx="648.32" cy="406.05" rx="3.96" ry="2.95" fill="#c8342c" opacity="0.19" transform="rotate(0.07 648.32 406.05)"/><ellipse cx="645.9" cy="422.55" rx="6.82" ry="4.97" fill="#c8342c" opacity="0.23" transform="rotate(161.75 645.9 422.55)"/><ellipse cx="687.74" cy="437.9" rx="5.39" ry="4.41" fill="#c8342c" opacity="0.34" transform="rotate(50.79 687.74 437.9)"/><ellipse cx="625.85" cy="447.13" rx="3.71" ry="2.68" fill="#c8342c" opacity="0.54" transform="rotate(109.62 625.85 447.13)"/><ellipse cx="687" cy="431.48" rx="6.72" ry="5.06" fill="#c8342c" opacity="0.58" transform="rotate(154.73 687 431.48)"/><ellipse cx="684.23" cy="418.82" rx="5.84" ry="4.14" fill="#c8342c" opacity="0.32" transform="rotate(82.6 684.23 418.82)"/><ellipse cx="624.84" cy="460.4" rx="5.95" ry="4.89" fill="#c8342c" opacity="0.28" transform="rotate(11.77 624.84 460.4)"/><ellipse cx="642.58" cy="444.5" rx="6.41" ry="5.68" fill="#c8342c" opacity="0.68" transform="rotate(79.94 642.58 444.5)"/><ellipse cx="684.08" cy="443.14" rx="6.34" ry="6.13" fill="#c8342c" opacity="0.35" transform="rotate(35.02 684.08 443.14)"/><ellipse cx="645.62" cy="416.91" rx="4.82" ry="4.72" fill="#c8342c" opacity="0.49" transform="rotate(7.08 645.62 416.91)"/><ellipse cx="660.59" cy="416.16" rx="6.37" ry="6.31" fill="#c8342c" opacity="0.56" transform="rotate(173.69 660.59 416.16)"/><ellipse cx="665.85" cy="419.21" rx="6.01" ry="4.69" fill="#c8342c" opacity="0.4" transform="rotate(19.46 665.85 419.21)"/><ellipse cx="685.52" cy="432.27" rx="3.99" ry="2.96" fill="#c8342c" opacity="0.27" transform="rotate(10.05 685.52 432.27)"/><ellipse cx="673.81" cy="434.66" rx="4.55" ry="3.56" fill="#c8342c" opacity="0.33" transform="rotate(91.88 673.81 434.66)"/><ellipse cx="659.38" cy="405.24" rx="4.96" ry="4.53" fill="#c8342c" opacity="0.63" transform="rotate(92.37 659.38 405.24)"/><ellipse cx="645.94" cy="423.89" rx="4.02" ry="2.95" fill="#c8342c" opacity="0.32" transform="rotate(6.28 645.94 423.89)"/><ellipse cx="642.25" cy="408.48" rx="4.72" ry="3.65" fill="#c8342c" opacity="0.48" transform="rotate(80.18 642.25 408.48)"/><ellipse cx="628.1" cy="438.06" rx="4.02" ry="3.32" fill="#c8342c" opacity="0.33" transform="rotate(49.51 628.1 438.06)"/><ellipse cx="653.2" cy="457.68" rx="5.02" ry="3.77" fill="#c8342c" opacity="0.62" transform="rotate(127.95 653.2 457.68)"/><ellipse cx="669.19" cy="423.23" rx="5.92" ry="4.85" fill="#c8342c" opacity="0.5" transform="rotate(108.07 669.19 423.23)"/><ellipse cx="675.25" cy="465.21" rx="4.96" ry="4.82" fill="#c8342c" opacity="0.43" transform="rotate(51.77 675.25 465.21)"/><ellipse cx="622.42" cy="420.43" rx="6.03" ry="5.27" fill="#c8342c" opacity="0.33" transform="rotate(13.29 622.42 420.43)"/><ellipse cx="632.01" cy="431.03" rx="4.06" ry="3.77" fill="#c8342c" opacity="0.35" transform="rotate(16.71 632.01 431.03)"/><ellipse cx="666.72" cy="458.72" rx="3.69" ry="3.45" fill="#c8342c" opacity="0.24" transform="rotate(147.16 666.72 458.72)"/><ellipse cx="636.94" cy="465.52" rx="5.75" ry="5.29" fill="#c8342c" opacity="0.16" transform="rotate(32.22 636.94 465.52)"/><ellipse cx="640.95" cy="460.54" rx="3.55" ry="2.87" fill="#c8342c" opacity="0.61" transform="rotate(109 640.95 460.54)"/><ellipse cx="637.41" cy="442.64" rx="4.29" ry="3.57" fill="#c8342c" opacity="0.47" transform="rotate(110.47 637.41 442.64)"/><ellipse cx="632" cy="460.78" rx="5.17" ry="4.29" fill="#c8342c" opacity="0.52" transform="rotate(22.5 632 460.78)"/><ellipse cx="647.21" cy="429.25" rx="6.27" ry="5.85" fill="#c8342c" opacity="0.61" transform="rotate(38.17 647.21 429.25)"/><ellipse cx="634.67" cy="428.6" rx="3.64" ry="2.95" fill="#c8342c" opacity="0.26" transform="rotate(27.74 634.67 428.6)"/><ellipse cx="632.26" cy="440.94" rx="5.93" ry="5.66" fill="#c8342c" opacity="0.33" transform="rotate(3.75 632.26 440.94)"/><ellipse cx="676.38" cy="416.5" rx="6.1" ry="5.73" fill="#c8342c" opacity="0.32" transform="rotate(87.49 676.38 416.5)"/><ellipse cx="649.59" cy="443.08" rx="4.45" ry="3.63" fill="#c8342c" opacity="0.61" transform="rotate(101.04 649.59 443.08)"/><ellipse cx="661.06" cy="469.16" rx="5.05" ry="4.94" fill="#c8342c" opacity="0.38" transform="rotate(22.95 661.06 469.16)"/><ellipse cx="618.16" cy="423.23" rx="3.63" ry="3.08" fill="#c8342c" opacity="0.66" transform="rotate(150.18 618.16 423.23)"/><ellipse cx="618.37" cy="433.72" rx="6.31" ry="5.87" fill="#c8342c" opacity="0.15" transform="rotate(171.56 618.37 433.72)"/><ellipse cx="681.58" cy="410.79" rx="5.22" ry="4.41" fill="#c8342c" opacity="0.43" transform="rotate(150.6 681.58 410.79)"/></g>
<g filter="url(#fb1)"><ellipse cx="626.66" cy="459.09" rx="3.96" ry="3.1" fill="#5040c0" opacity="0.34" transform="rotate(35.26 626.66 459.09)"/><ellipse cx="631.95" cy="461.77" rx="2.58" ry="2.53" fill="#5040c0" opacity="0.25" transform="rotate(165.09 631.95 461.77)"/><ellipse cx="624.56" cy="424.6" rx="4.18" ry="3.71" fill="#5040c0" opacity="0.35" transform="rotate(124.47 624.56 424.6)"/><ellipse cx="664.89" cy="405.87" rx="3.65" ry="3.04" fill="#5040c0" opacity="0.56" transform="rotate(62.22 664.89 405.87)"/><ellipse cx="673.17" cy="436.3" rx="4.17" ry="3.53" fill="#5040c0" opacity="0.64" transform="rotate(162.33 673.17 436.3)"/><ellipse cx="647.04" cy="468.27" rx="2.67" ry="2.37" fill="#5040c0" opacity="0.37" transform="rotate(63.47 647.04 468.27)"/><ellipse cx="675.1" cy="414.77" rx="3.4" ry="2.4" fill="#5040c0" opacity="0.43" transform="rotate(142.48 675.1 414.77)"/><ellipse cx="675.48" cy="461.66" rx="2.58" ry="1.92" fill="#5040c0" opacity="0.42" transform="rotate(132.05 675.48 461.66)"/><ellipse cx="662.47" cy="464.39" rx="2.47" ry="1.78" fill="#5040c0" opacity="0.28" transform="rotate(166.82 662.47 464.39)"/><ellipse cx="664.74" cy="411.86" rx="3.68" ry="3.02" fill="#5040c0" opacity="0.37" transform="rotate(140.81 664.74 411.86)"/><ellipse cx="671.13" cy="435.94" rx="2.78" ry="2.27" fill="#5040c0" opacity="0.34" transform="rotate(33.39 671.13 435.94)"/><ellipse cx="629.75" cy="441.18" rx="4.14" ry="3.4" fill="#5040c0" opacity="0.44" transform="rotate(5.44 629.75 441.18)"/><ellipse cx="685.09" cy="424.22" rx="2.79" ry="2.69" fill="#5040c0" opacity="0.51" transform="rotate(19.91 685.09 424.22)"/><ellipse cx="690.61" cy="437.97" rx="2.4" ry="2.05" fill="#5040c0" opacity="0.48" transform="rotate(19.01 690.61 437.97)"/><ellipse cx="621.92" cy="428.06" rx="4.14" ry="4.13" fill="#5040c0" opacity="0.36" transform="rotate(67.62 621.92 428.06)"/><ellipse cx="640.98" cy="409.08" rx="3.41" ry="3.36" fill="#5040c0" opacity="0.23" transform="rotate(112.3 640.98 409.08)"/><ellipse cx="618.57" cy="445.38" rx="3.15" ry="2.77" fill="#5040c0" opacity="0.48" transform="rotate(20.22 618.57 445.38)"/><ellipse cx="652.45" cy="446.44" rx="2.37" ry="2.17" fill="#5040c0" opacity="0.59" transform="rotate(34.53 652.45 446.44)"/><ellipse cx="622.58" cy="430.22" rx="3.46" ry="2.54" fill="#5040c0" opacity="0.46" transform="rotate(107.15 622.58 430.22)"/><ellipse cx="657.74" cy="414.08" rx="3.21" ry="2.95" fill="#5040c0" opacity="0.46" transform="rotate(20.19 657.74 414.08)"/><ellipse cx="622.42" cy="451.43" rx="4.17" ry="4.04" fill="#5040c0" opacity="0.43" transform="rotate(68.35 622.42 451.43)"/><ellipse cx="628.87" cy="448.47" rx="2.76" ry="2.55" fill="#5040c0" opacity="0.58" transform="rotate(9.13 628.87 448.47)"/><ellipse cx="640.04" cy="457.46" rx="2.31" ry="1.64" fill="#5040c0" opacity="0.26" transform="rotate(124.82 640.04 457.46)"/><ellipse cx="683.02" cy="415.83" rx="3.82" ry="3.61" fill="#5040c0" opacity="0.65" transform="rotate(39.95 683.02 415.83)"/><ellipse cx="639" cy="467.83" rx="3.59" ry="2.79" fill="#5040c0" opacity="0.35" transform="rotate(7.17 639 467.83)"/><ellipse cx="674.44" cy="443.8" rx="2.48" ry="2.48" fill="#5040c0" opacity="0.21" transform="rotate(164.8 674.44 443.8)"/><ellipse cx="682.04" cy="433.37" rx="3.92" ry="3.19" fill="#5040c0" opacity="0.39" transform="rotate(172.16 682.04 433.37)"/><ellipse cx="640.07" cy="467.86" rx="3.75" ry="3.67" fill="#5040c0" opacity="0.21" transform="rotate(171.58 640.07 467.86)"/><ellipse cx="625.97" cy="439.57" rx="3.18" ry="2.93" fill="#5040c0" opacity="0.28" transform="rotate(166.34 625.97 439.57)"/><ellipse cx="682.04" cy="458.64" rx="3.03" ry="2.9" fill="#5040c0" opacity="0.47" transform="rotate(58.31 682.04 458.64)"/><ellipse cx="672.84" cy="432.37" rx="4.01" ry="3.46" fill="#5040c0" opacity="0.33" transform="rotate(81.17 672.84 432.37)"/><ellipse cx="627.78" cy="436.2" rx="3.67" ry="3.6" fill="#5040c0" opacity="0.46" transform="rotate(142.72 627.78 436.2)"/><ellipse cx="626.04" cy="436.93" rx="3.1" ry="3.04" fill="#5040c0" opacity="0.16" transform="rotate(115.33 626.04 436.93)"/><ellipse cx="640.64" cy="445.7" rx="3.52" ry="3.4" fill="#5040c0" opacity="0.54" transform="rotate(103.1 640.64 445.7)"/><ellipse cx="655.28" cy="441.89" rx="2.65" ry="2.45" fill="#5040c0" opacity="0.17" transform="rotate(130.17 655.28 441.89)"/><ellipse cx="623.36" cy="426.76" rx="2.66" ry="2.42" fill="#5040c0" opacity="0.21" transform="rotate(72.11 623.36 426.76)"/><ellipse cx="640.46" cy="453.62" rx="3.8" ry="3.31" fill="#5040c0" opacity="0.29" transform="rotate(47.48 640.46 453.62)"/><ellipse cx="636.18" cy="420.56" rx="2.79" ry="1.98" fill="#5040c0" opacity="0.24" transform="rotate(162.05 636.18 420.56)"/><ellipse cx="653.72" cy="421.55" rx="3.2" ry="2.34" fill="#5040c0" opacity="0.62" transform="rotate(155.12 653.72 421.55)"/><ellipse cx="626.71" cy="449.62" rx="2.53" ry="2.09" fill="#5040c0" opacity="0.54" transform="rotate(172.19 626.71 449.62)"/><ellipse cx="648.35" cy="448.04" rx="2.84" ry="2.45" fill="#5040c0" opacity="0.32" transform="rotate(52.44 648.35 448.04)"/><ellipse cx="660.12" cy="424.9" rx="3.28" ry="2.6" fill="#5040c0" opacity="0.23" transform="rotate(60.36 660.12 424.9)"/><ellipse cx="652.31" cy="471.49" rx="4.16" ry="3.75" fill="#5040c0" opacity="0.38" transform="rotate(145.23 652.31 471.49)"/><ellipse cx="680.48" cy="444.94" rx="2.55" ry="2.09" fill="#5040c0" opacity="0.48" transform="rotate(25.03 680.48 444.94)"/><ellipse cx="628.61" cy="452.97" rx="2.7" ry="2.22" fill="#5040c0" opacity="0.29" transform="rotate(56.44 628.61 452.97)"/></g>
</g>
<text x="443" y="381" font-family="'Liberation Serif', serif" font-size="14" text-anchor="end" font-weight="normal" fill="#4a8cc4" >DAPI</text>
<text x="571.7" y="381" font-family="'Liberation Serif', serif" font-size="13.5" text-anchor="end" font-weight="normal" fill="#48a048" >Nestin</text>
<text x="706.9" y="381" font-family="'Liberation Serif', serif" font-size="13.5" text-anchor="end" fill="#4a8cc4">DAPI <tspan fill="#48a048">/Nestin</tspan></text>
<text x="443" y="477.1" font-family="'Liberation Serif', serif" font-size="14" text-anchor="end" font-weight="normal" fill="#4a8cc4" >DAPI</text>
<text x="575.7" y="477.1" font-family="'Liberation Serif', serif" font-size="13.5" text-anchor="end" font-weight="normal" fill="#d03030" >CD133</text>
<text x="710.9" y="477.1" font-family="'Liberation Serif', serif" font-size="13.5" text-anchor="end" fill="#4a8cc4">DAPI <tspan fill="#d03030">/CD133</tspan></text>
<rect x="591" y="472.6" width="17.4" height="4.2" fill="#ffffff" stroke="none" stroke-width="0" />
<g clip-path="url(#clipb0)">
<rect x="75.5" y="552.4" width="103.7" height="33.2" fill="#e8e4e4" stroke="none" stroke-width="0" filter="url(#fbn0)"/>
<ellipse cx="101" cy="570" rx="24" ry="14" fill="#b0a8a8" opacity="0.8" filter="url(#bb4)"/>
<ellipse cx="155" cy="567" rx="22" ry="16" fill="#a29a9a" filter="url(#bb4)"/>
<rect x="124" y="552.4" width="10" height="33.2" fill="#f6f4f4" filter="url(#bb2)"/>
<g filter="url(#bb2)"><ellipse cx="146" cy="572.5" rx="8" ry="8" fill="#140e0e"/><ellipse cx="157" cy="572" rx="9" ry="6" fill="#181010"/><ellipse cx="166" cy="571.5" rx="6" ry="6" fill="#140e0e"/></g>
</g>
<rect x="76.75" y="553.65" width="101.2" height="30.7" fill="none" stroke="#000" stroke-width="2.5" />
<g clip-path="url(#clipb1)">
<rect x="75.5" y="589.8" width="103.7" height="32.9" fill="#eeebeb" stroke="none" stroke-width="0" filter="url(#fbn1)"/>
<ellipse cx="102" cy="607.25" rx="19" ry="9" fill="#8e8686" filter="url(#bb3)"/>
<g filter="url(#bb2)"><ellipse cx="153" cy="608.25" rx="15" ry="7.5" fill="#120c0c"/><ellipse cx="164" cy="607.25" rx="8" ry="9" fill="#120c0c"/></g>
</g>
<rect x="76.75" y="591.05" width="101.2" height="30.4" fill="none" stroke="#000" stroke-width="2.5" />
<g clip-path="url(#clipb2)">
<rect x="75.5" y="626.8" width="103.7" height="33" fill="#eae7e7" stroke="none" stroke-width="0" filter="url(#fbn2)"/>
<ellipse cx="100" cy="642.3" rx="22" ry="7" fill="#8a8282" filter="url(#bb3)"/>
<g filter="url(#bb2)"><ellipse cx="87" cy="642.3" rx="8" ry="6" fill="#241c1c"/><ellipse cx="112" cy="641.3" rx="6" ry="5" fill="#2e2626"/></g>
<ellipse cx="150" cy="643.3" rx="22" ry="7" fill="#8c8484" filter="url(#bb3)"/>
</g>
<rect x="76.75" y="628.05" width="101.2" height="30.5" fill="none" stroke="#000" stroke-width="2.5" />
<g clip-path="url(#clipb3)">
<rect x="75.5" y="664.2" width="103.7" height="33.3" fill="#dcd8d8" stroke="none" stroke-width="0" filter="url(#fbn3)"/>
<g filter="url(#bb1)"><rect x="81.5" y="674.35" width="41.5" height="13" rx="6.5" fill="#120c0c"/><rect x="131.5" y="674.35" width="43" height="13" rx="6.5" fill="#120c0c"/></g>
</g>
<rect x="76.75" y="665.45" width="101.2" height="30.8" fill="none" stroke="#000" stroke-width="2.5" />
<line x1="179" y1="569.5" x2="194" y2="569.5" stroke="#000" stroke-width="2.3" />
<text x="198" y="574.8" font-family="'Liberation Serif', serif" font-size="14" text-anchor="start" font-weight="normal" fill="#000" textLength="47.4" lengthAdjust="spacingAndGlyphs">115 KDa</text>
<line x1="179" y1="606.6" x2="194" y2="606.6" stroke="#000" stroke-width="2.3" />
<text x="198" y="611.9" font-family="'Liberation Serif', serif" font-size="14" text-anchor="start" font-weight="normal" fill="#000" textLength="47.4" lengthAdjust="spacingAndGlyphs">160 KDa</text>
<line x1="179" y1="645" x2="194" y2="645" stroke="#000" stroke-width="2.3" />
<text x="203.4" y="650.3" font-family="'Liberation Serif', serif" font-size="14" text-anchor="start" font-weight="normal" fill="#000" textLength="42" lengthAdjust="spacingAndGlyphs">45 KDa</text>
<line x1="179" y1="681.8" x2="194" y2="681.8" stroke="#000" stroke-width="2.3" />
<text x="203.4" y="687.1" font-family="'Liberation Serif', serif" font-size="14" text-anchor="start" font-weight="normal" fill="#000" textLength="42" lengthAdjust="spacingAndGlyphs">35 KDa</text>
<text x="67.4" y="579.2" font-family="'Liberation Serif', serif" font-size="14" text-anchor="end" font-weight="normal" fill="#000" >CD133</text>
<text x="67.4" y="610.8" font-family="'Liberation Serif', serif" font-size="14" text-anchor="end" font-weight="normal" fill="#000" >Nestin</text>
<text x="67.4" y="649.8" font-family="'Liberation Serif', serif" font-size="14" text-anchor="end" font-weight="normal" fill="#000" >LASS2</text>
<text x="67.4" y="685.6" font-family="'Liberation Serif', serif" font-size="14" text-anchor="end" font-weight="normal" fill="#000" >GAPDH</text>
<text x="79.3" y="546.5" font-family="'Liberation Serif', serif" font-size="14" textLength="39" lengthAdjust="spacingAndGlyphs">CD133</text><text x="121" y="541" font-family="'Liberation Serif', serif" font-size="9">-</text>
<text x="131.7" y="546.5" font-family="'Liberation Serif', serif" font-size="14" textLength="39" lengthAdjust="spacingAndGlyphs">CD133</text><text x="174" y="541" font-family="'Liberation Serif', serif" font-size="9">+</text>
<line x1="315.1" y1="544.2" x2="315.1" y2="682.1" stroke="#000" stroke-width="2" />
<line x1="314.1" y1="681.1" x2="520.6" y2="681.1" stroke="#000" stroke-width="2" />
<line x1="311.3" y1="681.1" x2="315.1" y2="681.1" stroke="#000" stroke-width="1.6" />
<text x="309.8" y="684.8" font-family="'Liberation Serif', serif" font-size="11" text-anchor="end" font-weight="normal" fill="#222" >0</text>
<line x1="311.3" y1="635.55" x2="315.1" y2="635.55" stroke="#000" stroke-width="1.6" />
<text x="309.8" y="639.25" font-family="'Liberation Serif', serif" font-size="11" text-anchor="end" font-weight="normal" fill="#222" >1</text>
<line x1="311.3" y1="590" x2="315.1" y2="590" stroke="#000" stroke-width="1.6" />
<text x="309.8" y="593.7" font-family="'Liberation Serif', serif" font-size="11" text-anchor="end" font-weight="normal" fill="#222" >2</text>
<line x1="311.3" y1="544.45" x2="315.1" y2="544.45" stroke="#000" stroke-width="1.6" />
<text x="309.8" y="548.15" font-family="'Liberation Serif', serif" font-size="11" text-anchor="end" font-weight="normal" fill="#222" >3</text>
<text transform="translate(297.3,610.5) rotate(-90)" font-family="'Liberation Serif', serif" font-size="13.5" text-anchor="middle" textLength="143" lengthAdjust="spacingAndGlyphs">Relative protein expression</text>
<rect x="328.3" y="635.55" width="16.4" height="45.55" fill="#111" stroke="none" stroke-width="0" />
<rect x="355.1" y="584.08" width="14.8" height="97.02" fill="#fff" stroke="#000" stroke-width="1.8" />
<line x1="362.5" y1="584.08" x2="362.5" y2="574.51" stroke="#000" stroke-width="1.8" />
<line x1="358.8" y1="574.51" x2="366.2" y2="574.51" stroke="#000" stroke-width="1.8" />
<text x="362.5" y="571.91" font-family="'Liberation Serif', serif" font-size="12" text-anchor="middle" font-weight="normal" fill="#333" >*</text>
<line x1="349.2" y1="681.1" x2="349.2" y2="686.1" stroke="#000" stroke-width="1.6" />
<text transform="translate(357.5,691.3) rotate(-45)" font-family="'Liberation Serif', serif" font-size="13.8" text-anchor="end">CD133</text>
<rect x="396.6" y="635.55" width="16.4" height="45.55" fill="#111" stroke="none" stroke-width="0" />
<rect x="423.4" y="581.8" width="14.8" height="99.3" fill="#fff" stroke="#000" stroke-width="1.8" />
<line x1="430.8" y1="581.8" x2="430.8" y2="561.76" stroke="#000" stroke-width="1.8" />
<line x1="427.1" y1="561.76" x2="434.5" y2="561.76" stroke="#000" stroke-width="1.8" />
<text x="430.8" y="559.16" font-family="'Liberation Serif', serif" font-size="12" text-anchor="middle" font-weight="normal" fill="#333" >*</text>
<line x1="417.5" y1="681.1" x2="417.5" y2="686.1" stroke="#000" stroke-width="1.6" />
<text transform="translate(425.8,691.3) rotate(-45)" font-family="'Liberation Serif', serif" font-size="13.8" text-anchor="end">Nestin</text>
<rect x="464.8" y="635.55" width="16.4" height="45.55" fill="#111" stroke="none" stroke-width="0" />
<rect x="491.6" y="662.88" width="14.8" height="18.22" fill="#fff" stroke="#000" stroke-width="1.8" />
<line x1="499" y1="662.88" x2="499" y2="656.05" stroke="#000" stroke-width="1.8" />
<line x1="495.3" y1="656.05" x2="502.7" y2="656.05" stroke="#000" stroke-width="1.8" />
<text x="499" y="653.45" font-family="'Liberation Serif', serif" font-size="12" text-anchor="middle" font-weight="normal" fill="#333" >*</text>
<line x1="485.7" y1="681.1" x2="485.7" y2="686.1" stroke="#000" stroke-width="1.6" />
<text transform="translate(494,691.3) rotate(-45)" font-family="'Liberation Serif', serif" font-size="13.8" text-anchor="end">LASS2</text>
<rect x="454" y="543.4" width="14.7" height="6.8" fill="#111" stroke="none" stroke-width="0" />
<rect x="454.9" y="559.6" width="12.9" height="5.8" fill="#fff" stroke="#000" stroke-width="1.8" />
<text x="476.7" y="552" font-family="'Liberation Serif', serif" font-size="12.8" textLength="31.7" lengthAdjust="spacingAndGlyphs">CD133</text><text x="511.5" y="547" font-family="'Liberation Serif', serif" font-size="7">-</text>
<text x="476.7" y="568" font-family="'Liberation Serif', serif" font-size="12.8" textLength="31.7" lengthAdjust="spacingAndGlyphs">CD133</text><text x="510.5" y="562.5" font-family="'Liberation Serif', serif" font-size="8">+</text>
<rect x="49.4" y="771.9" width="189" height="145" fill="#f8f6f3" stroke="none" stroke-width="0" />
<rect x="49.4" y="771.9" width="189" height="37.4" fill="#f3efe8" stroke="none" stroke-width="0" />
<rect x="49.4" y="799" width="189" height="9.5" fill="#d6cdc0" stroke="none" stroke-width="0" opacity="0.75"/>
<line x1="53.5" y1="799.8" x2="53.5" y2="807.8" stroke="#5a4e44" stroke-width="0.9" />
<line x1="55.75" y1="802.3" x2="55.75" y2="807.8" stroke="#5a4e44" stroke-width="0.9" />
<line x1="58" y1="802.3" x2="58" y2="807.8" stroke="#5a4e44" stroke-width="0.9" />
<line x1="60.25" y1="802.3" x2="60.25" y2="807.8" stroke="#5a4e44" stroke-width="0.9" />
<line x1="62.5" y1="802.3" x2="62.5" y2="807.8" stroke="#5a4e44" stroke-width="0.9" />
<line x1="64.75" y1="796.3" x2="64.75" y2="807.8" stroke="#5a4e44" stroke-width="0.9" />
<line x1="67" y1="802.3" x2="67" y2="807.8" stroke="#5a4e44" stroke-width="0.9" />
<line x1="69.25" y1="802.3" x2="69.25" y2="807.8" stroke="#5a4e44" stroke-width="0.9" />
<line x1="71.5" y1="802.3" x2="71.5" y2="807.8" stroke="#5a4e44" stroke-width="0.9" />
<line x1="73.75" y1="802.3" x2="73.75" y2="807.8" stroke="#5a4e44" stroke-width="0.9" />
<line x1="76" y1="799.8" x2="76" y2="807.8" stroke="#5a4e44" stroke-width="0.9" />
<line x1="78.25" y1="802.3" x2="78.25" y2="807.8" stroke="#5a4e44" stroke-width="0.9" />
<line x1="80.5" y1="802.3" x2="80.5" y2="807.8" stroke="#5a4e44" stroke-width="0.9" />
<line x1="82.75" y1="802.3" x2="82.75" y2="807.8" stroke="#5a4e44" stroke-width="0.9" />
<line x1="85" y1="802.3" x2="85" y2="807.8" stroke="#5a4e44" stroke-width="0.9" />
<line x1="87.25" y1="796.3" x2="87.25" y2="807.8" stroke="#5a4e44" stroke-width="0.9" />
<line x1="89.5" y1="802.3" x2="89.5" y2="807.8" stroke="#5a4e44" stroke-width="0.9" />
<line x1="91.75" y1="802.3" x2="91.75" y2="807.8" stroke="#5a4e44" stroke-width="0.9" />
<line x1="94" y1="802.3" x2="94" y2="807.8" stroke="#5a4e44" stroke-width="0.9" />
<line x1="96.25" y1="802.3" x2="96.25" y2="807.8" stroke="#5a4e44" stroke-width="0.9" />
<line x1="98.5" y1="799.8" x2="98.5" y2="807.8" stroke="#5a4e44" stroke-width="0.9" />
<line x1="100.75" y1="802.3" x2="100.75" y2="807.8" stroke="#5a4e44" stroke-width="0.9" />
<line x1="103" y1="802.3" x2="103" y2="807.8" stroke="#5a4e44" stroke-width="0.9" />
<line x1="105.25" y1="802.3" x2="105.25" y2="807.8" stroke="#5a4e44" stroke-width="0.9" />
<line x1="107.5" y1="802.3" x2="107.5" y2="807.8" stroke="#5a4e44" stroke-width="0.9" />
<line x1="109.75" y1="796.3" x2="109.75" y2="807.8" stroke="#5a4e44" stroke-width="0.9" />
<line x1="112" y1="802.3" x2="112" y2="807.8" stroke="#5a4e44" stroke-width="0.9" />
<line x1="114.25" y1="802.3" x2="114.25" y2="807.8" stroke="#5a4e44" stroke-width="0.9" />
<line x1="116.5" y1="802.3" x2="116.5" y2="807.8" stroke="#5a4e44" stroke-width="0.9" />
<line x1="118.75" y1="802.3" x2="118.75" y2="807.8" stroke="#5a4e44" stroke-width="0.9" />
<line x1="121" y1="799.8" x2="121" y2="807.8" stroke="#5a4e44" stroke-width="0.9" />
<line x1="123.25" y1="802.3" x2="123.25" y2="807.8" stroke="#5a4e44" stroke-width="0.9" />
<line x1="125.5" y1="802.3" x2="125.5" y2="807.8" stroke="#5a4e44" stroke-width="0.9" />
<line x1="127.75" y1="802.3" x2="127.75" y2="807.8" stroke="#5a4e44" stroke-width="0.9" />
<line x1="130" y1="802.3" x2="130" y2="807.8" stroke="#5a4e44" stroke-width="0.9" />
<line x1="132.25" y1="796.3" x2="132.25" y2="807.8" stroke="#5a4e44" stroke-width="0.9" />
<line x1="134.5" y1="802.3" x2="134.5" y2="807.8" stroke="#5a4e44" stroke-width="0.9" />
<line x1="136.75" y1="802.3" x2="136.75" y2="807.8" stroke="#5a4e44" stroke-width="0.9" />
<line x1="139" y1="802.3" x2="139" y2="807.8" stroke="#5a4e44" stroke-width="0.9" />
<line x1="141.25" y1="802.3" x2="141.25" y2="807.8" stroke="#5a4e44" stroke-width="0.9" />
<line x1="143.5" y1="799.8" x2="143.5" y2="807.8" stroke="#5a4e44" stroke-width="0.9" />
<line x1="145.75" y1="802.3" x2="145.75" y2="807.8" stroke="#5a4e44" stroke-width="0.9" />
<line x1="148" y1="802.3" x2="148" y2="807.8" stroke="#5a4e44" stroke-width="0.9" />
<line x1="150.25" y1="802.3" x2="150.25" y2="807.8" stroke="#5a4e44" stroke-width="0.9" />
<line x1="152.5" y1="802.3" x2="152.5" y2="807.8" stroke="#5a4e44" stroke-width="0.9" />
<line x1="154.75" y1="796.3" x2="154.75" y2="807.8" stroke="#5a4e44" stroke-width="0.9" />
<line x1="157" y1="802.3" x2="157" y2="807.8" stroke="#5a4e44" stroke-width="0.9" />
<line x1="159.25" y1="802.3" x2="159.25" y2="807.8" stroke="#5a4e44" stroke-width="0.9" />
<line x1="161.5" y1="802.3" x2="161.5" y2="807.8" stroke="#5a4e44" stroke-width="0.9" />
<line x1="163.75" y1="802.3" x2="163.75" y2="807.8" stroke="#5a4e44" stroke-width="0.9" />
<line x1="166" y1="799.8" x2="166" y2="807.8" stroke="#5a4e44" stroke-width="0.9" />
<line x1="168.25" y1="802.3" x2="168.25" y2="807.8" stroke="#5a4e44" stroke-width="0.9" />
<line x1="170.5" y1="802.3" x2="170.5" y2="807.8" stroke="#5a4e44" stroke-width="0.9" />
<line x1="172.75" y1="802.3" x2="172.75" y2="807.8" stroke="#5a4e44" stroke-width="0.9" />
<line x1="175" y1="802.3" x2="175" y2="807.8" stroke="#5a4e44" stroke-width="0.9" />
<line x1="177.25" y1="796.3" x2="177.25" y2="807.8" stroke="#5a4e44" stroke-width="0.9" />
<line x1="179.5" y1="802.3" x2="179.5" y2="807.8" stroke="#5a4e44" stroke-width="0.9" />
<line x1="181.75" y1="802.3" x2="181.75" y2="807.8" stroke="#5a4e44" stroke-width="0.9" />
<line x1="184" y1="802.3" x2="184" y2="807.8" stroke="#5a4e44" stroke-width="0.9" />
<line x1="186.25" y1="802.3" x2="186.25" y2="807.8" stroke="#5a4e44" stroke-width="0.9" />
<line x1="188.5" y1="799.8" x2="188.5" y2="807.8" stroke="#5a4e44" stroke-width="0.9" />
<line x1="190.75" y1="802.3" x2="190.75" y2="807.8" stroke="#5a4e44" stroke-width="0.9" />
<line x1="193" y1="802.3" x2="193" y2="807.8" stroke="#5a4e44" stroke-width="0.9" />
<line x1="195.25" y1="802.3" x2="195.25" y2="807.8" stroke="#5a4e44" stroke-width="0.9" />
<line x1="197.5" y1="802.3" x2="197.5" y2="807.8" stroke="#5a4e44" stroke-width="0.9" />
<line x1="199.75" y1="796.3" x2="199.75" y2="807.8" stroke="#5a4e44" stroke-width="0.9" />
<line x1="202" y1="802.3" x2="202" y2="807.8" stroke="#5a4e44" stroke-width="0.9" />
<line x1="204.25" y1="802.3" x2="204.25" y2="807.8" stroke="#5a4e44" stroke-width="0.9" />
<line x1="206.5" y1="802.3" x2="206.5" y2="807.8" stroke="#5a4e44" stroke-width="0.9" />
<line x1="208.75" y1="802.3" x2="208.75" y2="807.8" stroke="#5a4e44" stroke-width="0.9" />
<line x1="211" y1="799.8" x2="211" y2="807.8" stroke="#5a4e44" stroke-width="0.9" />
<line x1="213.25" y1="802.3" x2="213.25" y2="807.8" stroke="#5a4e44" stroke-width="0.9" />
<line x1="215.5" y1="802.3" x2="215.5" y2="807.8" stroke="#5a4e44" stroke-width="0.9" />
<line x1="217.75" y1="802.3" x2="217.75" y2="807.8" stroke="#5a4e44" stroke-width="0.9" />
<line x1="220" y1="802.3" x2="220" y2="807.8" stroke="#5a4e44" stroke-width="0.9" />
<line x1="222.25" y1="796.3" x2="222.25" y2="807.8" stroke="#5a4e44" stroke-width="0.9" />
<line x1="224.5" y1="802.3" x2="224.5" y2="807.8" stroke="#5a4e44" stroke-width="0.9" />
<line x1="226.75" y1="802.3" x2="226.75" y2="807.8" stroke="#5a4e44" stroke-width="0.9" />
<line x1="229" y1="802.3" x2="229" y2="807.8" stroke="#5a4e44" stroke-width="0.9" />
<line x1="231.25" y1="802.3" x2="231.25" y2="807.8" stroke="#5a4e44" stroke-width="0.9" />
<line x1="233.5" y1="799.8" x2="233.5" y2="807.8" stroke="#5a4e44" stroke-width="0.9" />
<line x1="235.75" y1="802.3" x2="235.75" y2="807.8" stroke="#5a4e44" stroke-width="0.9" />
<text transform="translate(64.9,786.3) rotate(180)" font-family="'Liberation Sans', sans-serif" font-size="10" font-weight="bold" text-anchor="middle" fill="#2a221c">8</text>
<text transform="translate(88.3,786.3) rotate(180)" font-family="'Liberation Sans', sans-serif" font-size="10" font-weight="bold" text-anchor="middle" fill="#2a221c">7</text>
<text transform="translate(110.3,786.3) rotate(180)" font-family="'Liberation Sans', sans-serif" font-size="10" font-weight="bold" text-anchor="middle" fill="#2a221c">6</text>
<text transform="translate(133.2,786.3) rotate(180)" font-family="'Liberation Sans', sans-serif" font-size="10" font-weight="bold" text-anchor="middle" fill="#2a221c">5</text>
<text transform="translate(155.8,786.3) rotate(180)" font-family="'Liberation Sans', sans-serif" font-size="10" font-weight="bold" text-anchor="middle" fill="#2a221c">4</text>
<text transform="translate(179.2,786.3) rotate(180)" font-family="'Liberation Sans', sans-serif" font-size="10" font-weight="bold" text-anchor="middle" fill="#2a221c">3</text>
<text transform="translate(201.8,786.3) rotate(180)" font-family="'Liberation Sans', sans-serif" font-size="10" font-weight="bold" text-anchor="middle" fill="#2a221c">2</text>
<text transform="translate(220,786.3) rotate(180)" font-family="'Liberation Sans', sans-serif" font-size="8.5" text-anchor="middle" fill="#2e2620" font-weight="bold">1cm</text>
<line x1="49.4" y1="809.5" x2="238.4" y2="809.5" stroke="#9cc0dc" stroke-width="0.9" />
<line x1="49.4" y1="864.8" x2="238.4" y2="864.8" stroke="#9cc0dc" stroke-width="0.9" />
<line x1="112.5" y1="809.5" x2="112.5" y2="916.9" stroke="#9cc0dc" stroke-width="0.9" />
<line x1="175.3" y1="809.5" x2="175.3" y2="916.9" stroke="#9cc0dc" stroke-width="0.9" />
<ellipse cx="87.8" cy="848.7" rx="17.5" ry="11.2" fill="#d8d0c8" opacity="0.8" filter="url(#sh)"/>
<ellipse cx="142.3" cy="846.8" rx="13.6" ry="11.7" fill="#d8d0c8" opacity="0.8" filter="url(#sh)"/>
<ellipse cx="201.4" cy="847.6" rx="13" ry="9.1" fill="#d8d0c8" opacity="0.8" filter="url(#sh)"/>
<ellipse cx="89.7" cy="890.1" rx="11.7" ry="7.8" fill="#d8d0c8" opacity="0.8" filter="url(#sh)"/>
<ellipse cx="150" cy="886.3" rx="9.5" ry="8.5" fill="#d8d0c8" opacity="0.8" filter="url(#sh)"/>
<ellipse cx="208.5" cy="886.4" rx="9.5" ry="5.5" fill="#d8d0c8" opacity="0.8" filter="url(#sh)"/>
<g filter="url(#tdisp)"><ellipse cx="83.8" cy="847.2" rx="15.5" ry="9.7" fill="#b0605c" filter="url(#tspot)"/></g>
<g filter="url(#tdisp)"><ellipse cx="138.3" cy="845.3" rx="11.6" ry="10.2" fill="#a45452" filter="url(#tspot)"/></g>
<g filter="url(#tdisp)"><ellipse cx="197.4" cy="846.1" rx="11" ry="7.6" fill="#9c484c" filter="url(#tspot)"/></g>
<g filter="url(#tdisp)"><ellipse cx="85.7" cy="888.6" rx="9.7" ry="6.3" fill="#a45050" filter="url(#tspot)"/></g>
<g filter="url(#tdisp)"><ellipse cx="146" cy="884.8" rx="7.5" ry="7" fill="#d88878" filter="url(#tspot)"/></g>
<g filter="url(#tdisp)"><ellipse cx="204.5" cy="884.9" rx="7.5" ry="4" fill="#f0a488" filter="url(#tspot)"/></g>
<circle cx="81" cy="852" r="2.5" fill="#e0b0b8" opacity="0.7" filter="url(#tb)"/>
<circle cx="90" cy="843" r="2" fill="#d89aa2" opacity="0.7" filter="url(#tb)"/>
<circle cx="132" cy="843" r="2.5" fill="#d0909a" opacity="0.7" filter="url(#tb)"/>
<circle cx="140" cy="850" r="2" fill="#d49a9a" opacity="0.7" filter="url(#tb)"/>
<circle cx="193" cy="846" r="1.6" fill="#e8b8b8" opacity="0.7" filter="url(#tb)"/>
<circle cx="201" cy="842" r="1.5" fill="#e8c0c0" opacity="0.7" filter="url(#tb)"/>
<circle cx="196" cy="851" r="1.5" fill="#e0b0b0" opacity="0.7" filter="url(#tb)"/>
<circle cx="83" cy="887" r="3" fill="#6a2028" opacity="0.7" filter="url(#tb)"/>
<circle cx="144" cy="882" r="2.5" fill="#eaa898" opacity="0.7" filter="url(#tb)"/>
<rect x="49.4" y="771.9" width="189" height="145" fill="none" stroke="#4a4a4a" stroke-width="1.3" />
<text transform="translate(40.2,911.5) rotate(-90)" font-family="'Liberation Serif', serif" font-size="13.5" textLength="38" lengthAdjust="spacingAndGlyphs">CD133</text><text transform="translate(35.2,869.5) rotate(-90)" font-family="'Liberation Serif', serif" font-size="9">-</text><text transform="translate(40.2,860.5) rotate(-90)" font-family="'Liberation Serif', serif" font-size="13.5" textLength="38" lengthAdjust="spacingAndGlyphs">CD133</text><text transform="translate(35.2,819.5) rotate(-90)" font-family="'Liberation Serif', serif" font-size="9">+</text>
<line x1="313" y1="746" x2="313" y2="919.8" stroke="#000" stroke-width="2.6" />
<line x1="311.7" y1="918.5" x2="527.5" y2="918.5" stroke="#000" stroke-width="2.6" />
<line x1="308" y1="918.5" x2="313" y2="918.5" stroke="#000" stroke-width="2.2" />
<text x="307.6" y="925.3" font-family="'Liberation Serif', serif" font-size="14" text-anchor="end" font-weight="normal" fill="#222" textLength="15.2" lengthAdjust="spacingAndGlyphs">0.0</text>
<line x1="308" y1="884.2" x2="313" y2="884.2" stroke="#000" stroke-width="2.2" />
<text x="307.6" y="891" font-family="'Liberation Serif', serif" font-size="14" text-anchor="end" font-weight="normal" fill="#222" textLength="15.2" lengthAdjust="spacingAndGlyphs">0.2</text>
<line x1="308" y1="849.9" x2="313" y2="849.9" stroke="#000" stroke-width="2.2" />
<text x="307.6" y="856.7" font-family="'Liberation Serif', serif" font-size="14" text-anchor="end" font-weight="normal" fill="#222" textLength="15.2" lengthAdjust="spacingAndGlyphs">0.4</text>
<line x1="308" y1="815.6" x2="313" y2="815.6" stroke="#000" stroke-width="2.2" />
<text x="307.6" y="822.4" font-family="'Liberation Serif', serif" font-size="14" text-anchor="end" font-weight="normal" fill="#222" textLength="15.2" lengthAdjust="spacingAndGlyphs">0.6</text>
<line x1="308" y1="781.3" x2="313" y2="781.3" stroke="#000" stroke-width="2.2" />
<text x="307.6" y="788.1" font-family="'Liberation Serif', serif" font-size="14" text-anchor="end" font-weight="normal" fill="#222" textLength="15.2" lengthAdjust="spacingAndGlyphs">0.8</text>
<line x1="308" y1="747" x2="313" y2="747" stroke="#000" stroke-width="2.2" />
<text x="307.6" y="753.8" font-family="'Liberation Serif', serif" font-size="14" text-anchor="end" font-weight="normal" fill="#222" textLength="15.2" lengthAdjust="spacingAndGlyphs">1.0</text>
<line x1="323.76" y1="918.5" x2="323.76" y2="923.5" stroke="#000" stroke-width="2.2" />
<text x="323.76" y="935.6" font-family="'Liberation Serif', serif" font-size="14" text-anchor="middle" font-weight="normal" fill="#222" >6</text>
<line x1="346.28" y1="918.5" x2="346.28" y2="923.5" stroke="#000" stroke-width="2.2" />
<text x="346.28" y="935.6" font-family="'Liberation Serif', serif" font-size="14" text-anchor="middle" font-weight="normal" fill="#222" >8</text>
<line x1="368.8" y1="918.5" x2="368.8" y2="923.5" stroke="#000" stroke-width="2.2" />
<text x="368.8" y="935.6" font-family="'Liberation Serif', serif" font-size="14" text-anchor="middle" font-weight="normal" fill="#222" >10</text>
<line x1="391.32" y1="918.5" x2="391.32" y2="923.5" stroke="#000" stroke-width="2.2" />
<text x="391.32" y="935.6" font-family="'Liberation Serif', serif" font-size="14" text-anchor="middle" font-weight="normal" fill="#222" >12</text>
<line x1="413.84" y1="918.5" x2="413.84" y2="923.5" stroke="#000" stroke-width="2.2" />
<text x="413.84" y="935.6" font-family="'Liberation Serif', serif" font-size="14" text-anchor="middle" font-weight="normal" fill="#222" >14</text>
<line x1="436.36" y1="918.5" x2="436.36" y2="923.5" stroke="#000" stroke-width="2.2" />
<text x="436.36" y="935.6" font-family="'Liberation Serif', serif" font-size="14" text-anchor="middle" font-weight="normal" fill="#222" >16</text>
<line x1="458.88" y1="918.5" x2="458.88" y2="923.5" stroke="#000" stroke-width="2.2" />
<text x="458.88" y="935.6" font-family="'Liberation Serif', serif" font-size="14" text-anchor="middle" font-weight="normal" fill="#222" >18</text>
<line x1="481.4" y1="918.5" x2="481.4" y2="923.5" stroke="#000" stroke-width="2.2" />
<text x="481.4" y="935.6" font-family="'Liberation Serif', serif" font-size="14" text-anchor="middle" font-weight="normal" fill="#222" >20</text>
<line x1="503.92" y1="918.5" x2="503.92" y2="923.5" stroke="#000" stroke-width="2.2" />
<text x="503.92" y="935.6" font-family="'Liberation Serif', serif" font-size="14" text-anchor="middle" font-weight="normal" fill="#222" >22</text>
<line x1="526.44" y1="918.5" x2="526.44" y2="923.5" stroke="#000" stroke-width="2.2" />
<text x="526.44" y="935.6" font-family="'Liberation Serif', serif" font-size="14" text-anchor="middle" font-weight="normal" fill="#222" >24</text>
<text x="423.9" y="948.6" font-family="'Liberation Serif', serif" font-size="14" text-anchor="middle" font-weight="normal" fill="#222" >Days</text>
<text transform="translate(285.5,836) rotate(-90)" font-family="'Liberation Serif', serif" font-size="13.5" text-anchor="middle" textLength="106" lengthAdjust="spacingAndGlyphs">Tumor volume (cm<tspan dy="-5" font-size="8.5">3</tspan><tspan dy="5">)</tspan></text>
<polyline fill="none" stroke="#000" stroke-width="2.6" stroke-linejoin="round" points="335.02,910.78 368.8,892.77 413.84,867.39 436.36,834.47 458.88,814.06 492.66,785.76"/>
<polyline fill="none" stroke="#000" stroke-width="2.6" stroke-linejoin="round" points="335.02,914.73 368.8,911.64 413.84,908.55 436.36,907.87 458.88,906.5 492.66,905.47"/>
<line x1="335.02" y1="907.01" x2="335.02" y2="914.56" stroke="#000" stroke-width="2.6" />
<line x1="332.22" y1="907.01" x2="337.82" y2="907.01" stroke="#000" stroke-width="2.6" />
<line x1="332.22" y1="914.56" x2="337.82" y2="914.56" stroke="#000" stroke-width="2.6" />
<line x1="413.84" y1="861.39" x2="413.84" y2="873.4" stroke="#000" stroke-width="2.6" />
<line x1="411.04" y1="861.39" x2="416.64" y2="861.39" stroke="#000" stroke-width="2.6" />
<line x1="411.04" y1="873.4" x2="416.64" y2="873.4" stroke="#000" stroke-width="2.6" />
<line x1="436.36" y1="819.03" x2="436.36" y2="849.9" stroke="#000" stroke-width="2.6" />
<line x1="433.56" y1="819.03" x2="439.16" y2="819.03" stroke="#000" stroke-width="2.6" />
<line x1="433.56" y1="849.9" x2="439.16" y2="849.9" stroke="#000" stroke-width="2.6" />
<line x1="458.88" y1="797.76" x2="458.88" y2="830.35" stroke="#000" stroke-width="2.6" />
<line x1="456.08" y1="797.76" x2="461.68" y2="797.76" stroke="#000" stroke-width="2.6" />
<line x1="456.08" y1="830.35" x2="461.68" y2="830.35" stroke="#000" stroke-width="2.6" />
<line x1="492.66" y1="755.23" x2="492.66" y2="816.29" stroke="#000" stroke-width="2.6" />
<line x1="489.86" y1="755.23" x2="495.46" y2="755.23" stroke="#000" stroke-width="2.6" />
<line x1="489.86" y1="816.29" x2="495.46" y2="816.29" stroke="#000" stroke-width="2.6" />
<line x1="335.02" y1="912.15" x2="335.02" y2="917.3" stroke="#000" stroke-width="2.6" />
<line x1="332.22" y1="912.15" x2="337.82" y2="912.15" stroke="#000" stroke-width="2.6" />
<line x1="332.22" y1="917.3" x2="337.82" y2="917.3" stroke="#000" stroke-width="2.6" />
<line x1="458.88" y1="901.35" x2="458.88" y2="911.64" stroke="#000" stroke-width="2.6" />
<line x1="456.08" y1="901.35" x2="461.68" y2="901.35" stroke="#000" stroke-width="2.6" />
<line x1="456.08" y1="911.64" x2="461.68" y2="911.64" stroke="#000" stroke-width="2.6" />
<line x1="492.66" y1="898.61" x2="492.66" y2="912.33" stroke="#000" stroke-width="2.6" />
<line x1="489.86" y1="898.61" x2="495.46" y2="898.61" stroke="#000" stroke-width="2.6" />
<line x1="489.86" y1="912.33" x2="495.46" y2="912.33" stroke="#000" stroke-width="2.6" />
<circle cx="335.02" cy="910.78" r="3.6" fill="#000"/>
<circle cx="368.8" cy="892.77" r="3.6" fill="#000"/>
<circle cx="413.84" cy="867.39" r="3.6" fill="#000"/>
<circle cx="436.36" cy="834.47" r="3.6" fill="#000"/>
<circle cx="458.88" cy="814.06" r="3.6" fill="#000"/>
<circle cx="492.66" cy="785.76" r="3.6" fill="#000"/>
<rect x="331.72" y="911.43" width="6.6" height="6.6" fill="#000" stroke="none" stroke-width="0" />
<rect x="365.5" y="908.34" width="6.6" height="6.6" fill="#000" stroke="none" stroke-width="0" />
<rect x="410.54" y="905.25" width="6.6" height="6.6" fill="#000" stroke="none" stroke-width="0" />
<rect x="433.06" y="904.57" width="6.6" height="6.6" fill="#000" stroke="none" stroke-width="0" />
<rect x="455.58" y="903.2" width="6.6" height="6.6" fill="#000" stroke="none" stroke-width="0" />
<rect x="489.36" y="902.17" width="6.6" height="6.6" fill="#000" stroke="none" stroke-width="0" />
<text x="368.8" y="884.5" font-family="'Liberation Serif', serif" font-size="16" text-anchor="middle" font-weight="normal" fill="#444" >*</text>
<text x="413.84" y="856.5" font-family="'Liberation Serif', serif" font-size="16" text-anchor="middle" font-weight="normal" fill="#444" >**</text>
<text x="436.36" y="813.5" font-family="'Liberation Serif', serif" font-size="16" text-anchor="middle" font-weight="normal" fill="#444" >**</text>
<text x="458.88" y="789.5" font-family="'Liberation Serif', serif" font-size="16" text-anchor="middle" font-weight="normal" fill="#444" >**</text>
<text x="492.66" y="753" font-family="'Liberation Serif', serif" font-size="16" text-anchor="middle" font-weight="normal" fill="#444" >**</text>
<line x1="324.4" y1="751.5" x2="339.6" y2="751.5" stroke="#000" stroke-width="2.6" />
<circle cx="332" cy="751.5" r="3.6" fill="#000"/>
<line x1="324.4" y1="772.1" x2="339.6" y2="772.1" stroke="#000" stroke-width="2.6" />
<rect x="329.1" y="769.2" width="5.8" height="5.8" fill="#000" stroke="none" stroke-width="0" />
<text x="349" y="757" font-family="'Liberation Serif', serif" font-size="14" fill="#222" textLength="37" lengthAdjust="spacingAndGlyphs">CD133</text><text x="388.5" y="750" font-family="'Liberation Serif', serif" font-size="8" fill="#222">+</text>
<text x="349" y="777.5" font-family="'Liberation Serif', serif" font-size="14" fill="#222" textLength="37" lengthAdjust="spacingAndGlyphs">CD133</text><text x="389" y="770" font-family="'Liberation Serif', serif" font-size="9" fill="#222">-</text>
<line x1="600" y1="745" x2="600" y2="925" stroke="#000" stroke-width="2.6" />
<line x1="598.7" y1="923.7" x2="736" y2="923.7" stroke="#000" stroke-width="2.6" />
<line x1="594.2" y1="923.7" x2="600" y2="923.7" stroke="#000" stroke-width="2.2" />
<text x="589.3" y="929.5" font-family="'Liberation Serif', serif" font-size="14" text-anchor="end" font-weight="normal" fill="#222" textLength="16" lengthAdjust="spacingAndGlyphs">0.0</text>
<line x1="594.2" y1="888.16" x2="600" y2="888.16" stroke="#000" stroke-width="2.2" />
<text x="589.3" y="893.96" font-family="'Liberation Serif', serif" font-size="14" text-anchor="end" font-weight="normal" fill="#222" textLength="16" lengthAdjust="spacingAndGlyphs">0.2</text>
<line x1="594.2" y1="852.62" x2="600" y2="852.62" stroke="#000" stroke-width="2.2" />
<text x="589.3" y="858.42" font-family="'Liberation Serif', serif" font-size="14" text-anchor="end" font-weight="normal" fill="#222" textLength="16" lengthAdjust="spacingAndGlyphs">0.4</text>
<line x1="594.2" y1="817.08" x2="600" y2="817.08" stroke="#000" stroke-width="2.2" />
<text x="589.3" y="822.88" font-family="'Liberation Serif', serif" font-size="14" text-anchor="end" font-weight="normal" fill="#222" textLength="16" lengthAdjust="spacingAndGlyphs">0.6</text>
<line x1="594.2" y1="781.54" x2="600" y2="781.54" stroke="#000" stroke-width="2.2" />
<text x="589.3" y="787.34" font-family="'Liberation Serif', serif" font-size="14" text-anchor="end" font-weight="normal" fill="#222" textLength="16" lengthAdjust="spacingAndGlyphs">0.8</text>
<line x1="594.2" y1="746" x2="600" y2="746" stroke="#000" stroke-width="2.2" />
<text x="589.3" y="751.8" font-family="'Liberation Serif', serif" font-size="14" text-anchor="end" font-weight="normal" fill="#222" textLength="16" lengthAdjust="spacingAndGlyphs">1.0</text>
<text transform="translate(564.6,833.5) rotate(-90)" font-family="'Liberation Serif', serif" font-size="13.5" text-anchor="middle" fill="#222" textLength="90" lengthAdjust="spacingAndGlyphs">Tumor weight (g)</text>
<rect x="625.4" y="913.6" width="33.4" height="10.1" fill="#151515" stroke="none" stroke-width="0" />
<line x1="641.9" y1="913.6" x2="641.9" y2="909.2" stroke="#000" stroke-width="2.6" />
<line x1="633.9" y1="909.2" x2="650.1" y2="909.2" stroke="#000" stroke-width="2.6" />
<rect x="675.8" y="797" width="34.2" height="126.7" fill="#9b9292" stroke="none" stroke-width="0" />
<line x1="692.8" y1="797" x2="692.8" y2="775.2" stroke="#000" stroke-width="2.6" />
<line x1="684" y1="775.2" x2="701.6" y2="775.2" stroke="#000" stroke-width="2.6" />
<line x1="641.9" y1="923.7" x2="641.9" y2="929.3" stroke="#000" stroke-width="2.2" />
<line x1="692.8" y1="923.7" x2="692.8" y2="929.3" stroke="#000" stroke-width="2.2" />
<text x="692.5" y="769.5" font-family="'Liberation Serif', serif" font-size="16" text-anchor="middle" font-weight="normal" fill="#444" textLength="20" lengthAdjust="spacingAndGlyphs">***</text>
<text x="619.4" y="946.3" font-family="'Liberation Serif', serif" font-size="14" fill="#222" textLength="40" lengthAdjust="spacingAndGlyphs">CD133</text><text x="660" y="940" font-family="'Liberation Serif', serif" font-size="9" fill="#222">-</text>
<text x="675" y="946.3" font-family="'Liberation Serif', serif" font-size="14" fill="#222" textLength="36.5" lengthAdjust="spacingAndGlyphs">CD133</text><text x="712" y="939.5" font-family="'Liberation Serif', serif" font-size="6" fill="#222">+</text></svg></body></html>
